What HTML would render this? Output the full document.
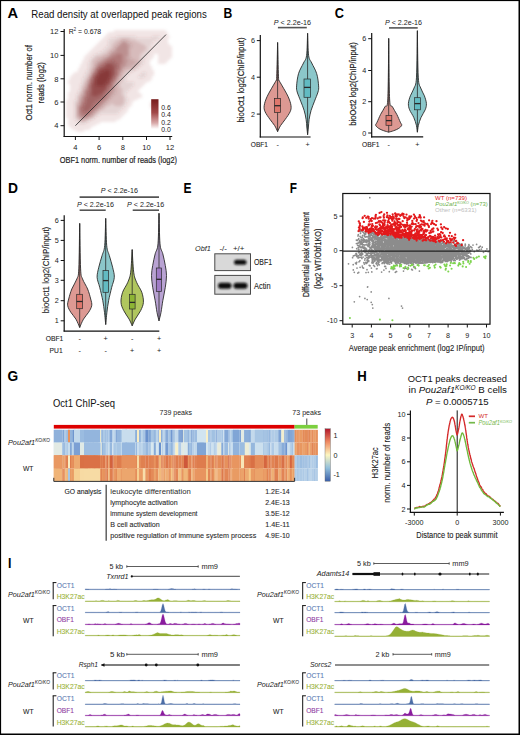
<!DOCTYPE html>
<html><head><meta charset="utf-8"><style>
html,body{margin:0;padding:0;background:#fff;width:520px;height:735px;overflow:hidden}
svg{display:block}
text{font-family:"Liberation Sans",sans-serif}
</style></head><body>
<svg width="520" height="735" viewBox="0 0 520 735" font-family="Liberation Sans" fill="#222">
<defs><filter id="blur3" x="-50%" y="-50%" width="200%" height="200%"><feGaussianBlur stdDeviation="3.5"/></filter><filter id="blur15" x="-20%" y="-20%" width="140%" height="140%"><feGaussianBlur stdDeviation="1.8"/></filter><filter id="hblur" x="-2%" y="-2%" width="104%" height="104%"><feGaussianBlur stdDeviation="0.55 0.2"/></filter><filter id="blur1" x="-50%" y="-50%" width="200%" height="200%"><feGaussianBlur stdDeviation="1.1"/></filter><filter id="jit" x="-5%" y="-5%" width="110%" height="110%"><feTurbulence type="turbulence" baseFrequency="0.35" numOctaves="1" seed="3"/><feDisplacementMap in="SourceGraphic" scale="1.6" xChannelSelector="R" yChannelSelector="G"/></filter><filter id="blur2" x="-50%" y="-50%" width="200%" height="200%"><feGaussianBlur stdDeviation="2.2"/></filter><linearGradient id="leg" x1="0" y1="0" x2="0" y2="1"><stop offset="0" stop-color="#771c1c"/><stop offset="0.45" stop-color="#a04848"/><stop offset="0.8" stop-color="#d9aaaa"/><stop offset="1" stop-color="#ffffff"/></linearGradient><linearGradient id="hm" x1="0" y1="0" x2="0" y2="1"><stop offset="0" stop-color="#b2182b"/><stop offset="0.25" stop-color="#ef8a62"/><stop offset="0.5" stop-color="#fdf6c0"/><stop offset="0.75" stop-color="#91bfdb"/><stop offset="1" stop-color="#3b5fa8"/></linearGradient></defs>
<rect x="0" y="0" width="520" height="735" fill="#fff"/>
<text x="7.3999999999999995" y="18.2" font-size="14" font-weight="bold" fill="#000" textLength="10.6" lengthAdjust="spacingAndGlyphs">A</text>
<text x="31.3" y="18.3" font-size="10.2" fill="#111" textLength="175.5" lengthAdjust="spacingAndGlyphs" stroke="#111" stroke-width="0.0">Read density at overlapped peak regions</text>
<g filter="url(#blur15)">
<path d="M66 100h2v2h-2zM66 102h2v2h-2zM66 104h2v2h-2zM66 106h2v2h-2zM66 108h2v2h-2zM66 110h2v2h-2zM66 112h2v2h-2zM66 114h2v2h-2zM66 116h2v2h-2zM68 80h2v2h-2zM68 82h2v2h-2zM68 92h2v2h-2zM68 94h2v2h-2zM68 96h2v2h-2zM68 98h2v2h-2zM68 100h2v2h-2zM68 102h2v2h-2zM68 104h2v2h-2zM68 106h2v2h-2zM68 108h2v2h-2zM68 110h2v2h-2zM68 112h2v2h-2zM68 114h2v2h-2zM68 116h2v2h-2zM68 118h2v2h-2zM68 120h2v2h-2zM68 122h2v2h-2zM68 124h2v2h-2zM70 76h2v2h-2zM70 78h2v2h-2zM70 80h2v2h-2zM70 82h2v2h-2zM70 84h2v2h-2zM70 86h2v2h-2zM70 88h2v2h-2zM70 90h2v2h-2zM70 92h2v2h-2zM70 94h2v2h-2zM70 96h2v2h-2zM70 120h2v2h-2zM70 122h2v2h-2zM70 124h2v2h-2zM70 126h2v2h-2zM72 74h2v2h-2zM72 76h2v2h-2zM72 78h2v2h-2zM72 80h2v2h-2zM72 82h2v2h-2zM72 84h2v2h-2zM72 86h2v2h-2zM72 88h2v2h-2zM72 90h2v2h-2zM72 124h2v2h-2zM72 126h2v2h-2zM72 128h2v2h-2zM74 72h2v2h-2zM74 74h2v2h-2zM74 76h2v2h-2zM74 126h2v2h-2zM74 128h2v2h-2zM76 72h2v2h-2zM76 74h2v2h-2zM76 128h2v2h-2zM76 130h2v2h-2zM78 68h2v2h-2zM78 70h2v2h-2zM78 72h2v2h-2zM78 128h2v2h-2zM78 130h2v2h-2zM80 64h2v2h-2zM80 66h2v2h-2zM80 68h2v2h-2zM80 70h2v2h-2zM80 128h2v2h-2zM80 130h2v2h-2zM82 60h2v2h-2zM82 62h2v2h-2zM82 64h2v2h-2zM82 66h2v2h-2zM82 128h2v2h-2zM82 130h2v2h-2zM84 56h2v2h-2zM84 58h2v2h-2zM84 60h2v2h-2zM84 128h2v2h-2zM86 54h2v2h-2zM86 56h2v2h-2zM86 126h2v2h-2zM86 128h2v2h-2zM88 52h2v2h-2zM88 126h2v2h-2zM88 128h2v2h-2zM90 50h2v2h-2zM90 124h2v2h-2zM90 126h2v2h-2zM92 48h2v2h-2zM92 50h2v2h-2zM92 124h2v2h-2zM94 46h2v2h-2zM94 48h2v2h-2zM94 122h2v2h-2zM94 124h2v2h-2zM96 44h2v2h-2zM96 46h2v2h-2zM96 120h2v2h-2zM96 122h2v2h-2zM98 42h2v2h-2zM98 44h2v2h-2zM98 46h2v2h-2zM98 120h2v2h-2zM98 122h2v2h-2zM100 40h2v2h-2zM100 42h2v2h-2zM100 44h2v2h-2zM100 118h2v2h-2zM100 120h2v2h-2zM102 38h2v2h-2zM102 40h2v2h-2zM102 118h2v2h-2zM102 120h2v2h-2zM104 36h2v2h-2zM104 118h2v2h-2zM104 120h2v2h-2zM106 34h2v2h-2zM106 118h2v2h-2zM106 120h2v2h-2zM108 32h2v2h-2zM108 34h2v2h-2zM108 120h2v2h-2zM110 32h2v2h-2zM110 120h2v2h-2zM112 32h2v2h-2zM112 120h2v2h-2zM114 30h2v2h-2zM114 32h2v2h-2zM114 118h2v2h-2zM114 120h2v2h-2zM116 30h2v2h-2zM116 32h2v2h-2zM116 118h2v2h-2zM118 30h2v2h-2zM118 116h2v2h-2zM118 118h2v2h-2zM120 30h2v2h-2zM120 114h2v2h-2zM120 116h2v2h-2zM122 30h2v2h-2zM122 112h2v2h-2zM122 114h2v2h-2zM124 30h2v2h-2zM124 110h2v2h-2zM124 112h2v2h-2zM126 30h2v2h-2zM126 108h2v2h-2zM126 110h2v2h-2zM128 30h2v2h-2zM128 104h2v2h-2zM128 106h2v2h-2zM130 30h2v2h-2zM130 100h2v2h-2zM130 102h2v2h-2zM130 104h2v2h-2zM132 30h2v2h-2zM132 92h2v2h-2zM132 94h2v2h-2zM132 96h2v2h-2zM132 98h2v2h-2zM132 100h2v2h-2zM134 30h2v2h-2zM134 90h2v2h-2zM134 92h2v2h-2zM134 94h2v2h-2zM134 96h2v2h-2zM134 98h2v2h-2zM136 30h2v2h-2zM136 88h2v2h-2zM136 90h2v2h-2zM136 92h2v2h-2zM136 94h2v2h-2zM136 96h2v2h-2zM136 98h2v2h-2zM138 30h2v2h-2zM138 32h2v2h-2zM138 86h2v2h-2zM138 88h2v2h-2zM138 92h2v2h-2zM138 94h2v2h-2zM138 96h2v2h-2zM140 30h2v2h-2zM140 32h2v2h-2zM140 84h2v2h-2zM140 86h2v2h-2zM140 94h2v2h-2zM140 96h2v2h-2zM142 30h2v2h-2zM142 32h2v2h-2zM142 82h2v2h-2zM142 84h2v2h-2zM144 30h2v2h-2zM144 32h2v2h-2zM144 82h2v2h-2zM146 30h2v2h-2zM146 32h2v2h-2zM146 80h2v2h-2zM148 30h2v2h-2zM148 58h2v2h-2zM148 60h2v2h-2zM148 62h2v2h-2zM148 64h2v2h-2zM148 66h2v2h-2zM148 78h2v2h-2zM148 80h2v2h-2zM150 30h2v2h-2zM150 56h2v2h-2zM150 58h2v2h-2zM150 66h2v2h-2zM150 68h2v2h-2zM150 70h2v2h-2zM150 72h2v2h-2zM150 74h2v2h-2zM150 76h2v2h-2zM150 78h2v2h-2zM150 102h2v2h-2zM150 104h2v2h-2zM150 106h2v2h-2zM152 30h2v2h-2zM152 52h2v2h-2zM152 54h2v2h-2zM152 56h2v2h-2zM152 70h2v2h-2zM152 72h2v2h-2zM152 74h2v2h-2zM152 102h2v2h-2zM152 104h2v2h-2zM152 106h2v2h-2zM154 30h2v2h-2zM154 50h2v2h-2zM154 52h2v2h-2zM154 102h2v2h-2zM154 104h2v2h-2zM156 30h2v2h-2zM156 48h2v2h-2zM156 50h2v2h-2zM156 52h2v2h-2zM158 30h2v2h-2zM158 46h2v2h-2zM158 48h2v2h-2zM158 50h2v2h-2zM158 52h2v2h-2zM158 54h2v2h-2zM158 56h2v2h-2zM158 58h2v2h-2zM158 60h2v2h-2zM158 62h2v2h-2zM160 30h2v2h-2zM160 44h2v2h-2zM160 46h2v2h-2zM160 48h2v2h-2zM160 50h2v2h-2zM160 52h2v2h-2zM160 54h2v2h-2zM160 56h2v2h-2zM160 58h2v2h-2zM160 60h2v2h-2zM160 62h2v2h-2zM162 30h2v2h-2zM162 42h2v2h-2zM162 44h2v2h-2zM162 46h2v2h-2zM162 48h2v2h-2zM162 50h2v2h-2zM162 52h2v2h-2zM162 54h2v2h-2zM162 56h2v2h-2zM162 58h2v2h-2zM162 60h2v2h-2zM162 62h2v2h-2zM164 30h2v2h-2zM164 32h2v2h-2zM164 40h2v2h-2zM164 42h2v2h-2zM164 44h2v2h-2zM164 46h2v2h-2zM164 48h2v2h-2zM164 50h2v2h-2zM164 52h2v2h-2zM164 54h2v2h-2zM164 56h2v2h-2zM164 58h2v2h-2zM164 60h2v2h-2zM164 62h2v2h-2zM166 32h2v2h-2zM166 34h2v2h-2zM166 36h2v2h-2zM166 38h2v2h-2zM166 40h2v2h-2zM166 42h2v2h-2zM166 44h2v2h-2zM166 46h2v2h-2zM166 48h2v2h-2zM166 50h2v2h-2zM166 52h2v2h-2zM166 54h2v2h-2zM166 56h2v2h-2zM166 58h2v2h-2zM166 60h2v2h-2zM168 36h2v2h-2zM168 44h2v2h-2zM168 46h2v2h-2zM168 48h2v2h-2zM168 50h2v2h-2zM168 52h2v2h-2zM168 54h2v2h-2zM168 56h2v2h-2zM168 58h2v2h-2zM170 46h2v2h-2zM170 48h2v2h-2zM170 50h2v2h-2zM170 52h2v2h-2zM170 54h2v2h-2zM170 56h2v2h-2z" fill="#7a2121" fill-opacity="0.1"/>
<path d="M70 98h2v2h-2zM70 100h2v2h-2zM70 102h2v2h-2zM70 104h2v2h-2zM70 106h2v2h-2zM70 108h2v2h-2zM70 110h2v2h-2zM70 112h2v2h-2zM70 114h2v2h-2zM70 116h2v2h-2zM70 118h2v2h-2zM72 92h2v2h-2zM72 94h2v2h-2zM72 96h2v2h-2zM72 98h2v2h-2zM72 120h2v2h-2zM72 122h2v2h-2zM74 78h2v2h-2zM74 80h2v2h-2zM74 82h2v2h-2zM74 84h2v2h-2zM74 86h2v2h-2zM74 88h2v2h-2zM74 90h2v2h-2zM74 92h2v2h-2zM74 124h2v2h-2zM76 76h2v2h-2zM76 78h2v2h-2zM76 80h2v2h-2zM76 82h2v2h-2zM76 84h2v2h-2zM76 86h2v2h-2zM76 88h2v2h-2zM76 126h2v2h-2zM78 74h2v2h-2zM78 76h2v2h-2zM78 78h2v2h-2zM78 126h2v2h-2zM80 72h2v2h-2zM80 74h2v2h-2zM80 126h2v2h-2zM82 68h2v2h-2zM82 70h2v2h-2zM82 72h2v2h-2zM82 126h2v2h-2zM84 62h2v2h-2zM84 64h2v2h-2zM84 66h2v2h-2zM84 68h2v2h-2zM84 126h2v2h-2zM86 58h2v2h-2zM86 60h2v2h-2zM86 124h2v2h-2zM88 54h2v2h-2zM88 56h2v2h-2zM88 124h2v2h-2zM90 52h2v2h-2zM90 54h2v2h-2zM90 122h2v2h-2zM92 52h2v2h-2zM92 120h2v2h-2zM92 122h2v2h-2zM94 50h2v2h-2zM94 120h2v2h-2zM96 48h2v2h-2zM96 50h2v2h-2zM96 118h2v2h-2zM98 48h2v2h-2zM98 116h2v2h-2zM98 118h2v2h-2zM100 46h2v2h-2zM100 48h2v2h-2zM100 116h2v2h-2zM102 42h2v2h-2zM102 44h2v2h-2zM102 46h2v2h-2zM102 116h2v2h-2zM104 38h2v2h-2zM104 40h2v2h-2zM104 42h2v2h-2zM104 116h2v2h-2zM106 36h2v2h-2zM106 38h2v2h-2zM106 116h2v2h-2zM108 36h2v2h-2zM108 116h2v2h-2zM108 118h2v2h-2zM110 34h2v2h-2zM110 118h2v2h-2zM112 34h2v2h-2zM112 116h2v2h-2zM112 118h2v2h-2zM114 34h2v2h-2zM114 116h2v2h-2zM116 116h2v2h-2zM118 32h2v2h-2zM118 114h2v2h-2zM120 32h2v2h-2zM120 112h2v2h-2zM122 32h2v2h-2zM122 110h2v2h-2zM124 32h2v2h-2zM124 108h2v2h-2zM126 32h2v2h-2zM126 104h2v2h-2zM126 106h2v2h-2zM128 32h2v2h-2zM128 94h2v2h-2zM128 96h2v2h-2zM128 98h2v2h-2zM128 100h2v2h-2zM128 102h2v2h-2zM130 32h2v2h-2zM130 76h2v2h-2zM130 92h2v2h-2zM130 94h2v2h-2zM130 96h2v2h-2zM130 98h2v2h-2zM132 32h2v2h-2zM132 74h2v2h-2zM132 76h2v2h-2zM132 90h2v2h-2zM134 32h2v2h-2zM134 74h2v2h-2zM134 86h2v2h-2zM134 88h2v2h-2zM136 32h2v2h-2zM136 34h2v2h-2zM136 84h2v2h-2zM136 86h2v2h-2zM138 34h2v2h-2zM138 82h2v2h-2zM138 84h2v2h-2zM140 34h2v2h-2zM140 80h2v2h-2zM140 82h2v2h-2zM142 34h2v2h-2zM142 80h2v2h-2zM144 34h2v2h-2zM144 64h2v2h-2zM144 66h2v2h-2zM144 78h2v2h-2zM144 80h2v2h-2zM146 34h2v2h-2zM146 58h2v2h-2zM146 60h2v2h-2zM146 62h2v2h-2zM146 64h2v2h-2zM146 66h2v2h-2zM146 68h2v2h-2zM146 78h2v2h-2zM148 32h2v2h-2zM148 34h2v2h-2zM148 54h2v2h-2zM148 56h2v2h-2zM148 68h2v2h-2zM148 70h2v2h-2zM148 72h2v2h-2zM148 74h2v2h-2zM148 76h2v2h-2zM150 32h2v2h-2zM150 52h2v2h-2zM150 54h2v2h-2zM152 32h2v2h-2zM152 48h2v2h-2zM152 50h2v2h-2zM154 32h2v2h-2zM154 46h2v2h-2zM154 48h2v2h-2zM156 32h2v2h-2zM156 44h2v2h-2zM156 46h2v2h-2zM158 32h2v2h-2zM158 42h2v2h-2zM158 44h2v2h-2zM160 32h2v2h-2zM160 40h2v2h-2zM160 42h2v2h-2zM162 32h2v2h-2zM162 34h2v2h-2zM162 38h2v2h-2zM162 40h2v2h-2zM164 34h2v2h-2zM164 36h2v2h-2zM164 38h2v2h-2z" fill="#7a2121" fill-opacity="0.1"/>
<path d="M72 100h2v2h-2zM72 102h2v2h-2zM72 104h2v2h-2zM72 106h2v2h-2zM72 108h2v2h-2zM72 110h2v2h-2zM72 112h2v2h-2zM72 114h2v2h-2zM72 116h2v2h-2zM72 118h2v2h-2zM74 94h2v2h-2zM74 96h2v2h-2zM74 98h2v2h-2zM74 120h2v2h-2zM74 122h2v2h-2zM76 90h2v2h-2zM76 92h2v2h-2zM76 122h2v2h-2zM76 124h2v2h-2zM78 80h2v2h-2zM78 82h2v2h-2zM78 84h2v2h-2zM78 86h2v2h-2zM78 88h2v2h-2zM78 124h2v2h-2zM80 76h2v2h-2zM80 78h2v2h-2zM80 80h2v2h-2zM80 82h2v2h-2zM80 124h2v2h-2zM82 74h2v2h-2zM82 76h2v2h-2zM82 124h2v2h-2zM84 70h2v2h-2zM84 72h2v2h-2zM84 124h2v2h-2zM86 62h2v2h-2zM86 64h2v2h-2zM86 66h2v2h-2zM86 68h2v2h-2zM86 122h2v2h-2zM88 58h2v2h-2zM88 60h2v2h-2zM88 122h2v2h-2zM90 56h2v2h-2zM90 120h2v2h-2zM92 54h2v2h-2zM94 52h2v2h-2zM94 118h2v2h-2zM96 52h2v2h-2zM96 116h2v2h-2zM98 50h2v2h-2zM100 50h2v2h-2zM100 114h2v2h-2zM102 48h2v2h-2zM102 114h2v2h-2zM104 44h2v2h-2zM104 46h2v2h-2zM104 114h2v2h-2zM106 40h2v2h-2zM106 42h2v2h-2zM106 44h2v2h-2zM106 114h2v2h-2zM108 38h2v2h-2zM108 114h2v2h-2zM110 36h2v2h-2zM110 114h2v2h-2zM110 116h2v2h-2zM112 36h2v2h-2zM112 114h2v2h-2zM114 36h2v2h-2zM114 114h2v2h-2zM116 34h2v2h-2zM116 114h2v2h-2zM118 34h2v2h-2zM118 112h2v2h-2zM120 34h2v2h-2zM120 110h2v2h-2zM122 34h2v2h-2zM122 108h2v2h-2zM124 34h2v2h-2zM124 106h2v2h-2zM126 34h2v2h-2zM126 76h2v2h-2zM126 78h2v2h-2zM126 80h2v2h-2zM126 92h2v2h-2zM126 94h2v2h-2zM126 96h2v2h-2zM126 102h2v2h-2zM128 34h2v2h-2zM128 74h2v2h-2zM128 76h2v2h-2zM128 78h2v2h-2zM128 80h2v2h-2zM128 90h2v2h-2zM128 92h2v2h-2zM130 34h2v2h-2zM130 72h2v2h-2zM130 74h2v2h-2zM130 78h2v2h-2zM130 80h2v2h-2zM130 88h2v2h-2zM130 90h2v2h-2zM132 34h2v2h-2zM132 72h2v2h-2zM132 78h2v2h-2zM132 80h2v2h-2zM132 86h2v2h-2zM132 88h2v2h-2zM134 34h2v2h-2zM134 70h2v2h-2zM134 72h2v2h-2zM134 76h2v2h-2zM134 78h2v2h-2zM134 80h2v2h-2zM134 82h2v2h-2zM134 84h2v2h-2zM136 36h2v2h-2zM136 70h2v2h-2zM136 72h2v2h-2zM136 74h2v2h-2zM136 76h2v2h-2zM136 78h2v2h-2zM136 80h2v2h-2zM136 82h2v2h-2zM138 36h2v2h-2zM138 68h2v2h-2zM138 70h2v2h-2zM138 72h2v2h-2zM138 74h2v2h-2zM138 78h2v2h-2zM138 80h2v2h-2zM140 36h2v2h-2zM140 66h2v2h-2zM140 68h2v2h-2zM140 70h2v2h-2zM140 72h2v2h-2zM140 78h2v2h-2zM142 36h2v2h-2zM142 64h2v2h-2zM142 66h2v2h-2zM142 68h2v2h-2zM142 70h2v2h-2zM142 78h2v2h-2zM144 36h2v2h-2zM144 58h2v2h-2zM144 60h2v2h-2zM144 62h2v2h-2zM144 68h2v2h-2zM144 70h2v2h-2zM144 76h2v2h-2zM146 36h2v2h-2zM146 54h2v2h-2zM146 56h2v2h-2zM146 70h2v2h-2zM146 72h2v2h-2zM146 74h2v2h-2zM146 76h2v2h-2zM148 36h2v2h-2zM148 52h2v2h-2zM150 34h2v2h-2zM150 36h2v2h-2zM150 46h2v2h-2zM150 48h2v2h-2zM150 50h2v2h-2zM152 34h2v2h-2zM152 42h2v2h-2zM152 44h2v2h-2zM152 46h2v2h-2zM154 34h2v2h-2zM154 40h2v2h-2zM154 42h2v2h-2zM154 44h2v2h-2zM156 34h2v2h-2zM156 40h2v2h-2zM156 42h2v2h-2zM158 34h2v2h-2zM158 38h2v2h-2zM158 40h2v2h-2zM160 34h2v2h-2zM160 36h2v2h-2zM160 38h2v2h-2zM162 36h2v2h-2z" fill="#7a2121" fill-opacity="0.1"/>
<path d="M74 100h2v2h-2zM74 102h2v2h-2zM74 104h2v2h-2zM74 116h2v2h-2zM74 118h2v2h-2zM76 94h2v2h-2zM76 96h2v2h-2zM76 120h2v2h-2zM78 90h2v2h-2zM78 92h2v2h-2zM78 122h2v2h-2zM80 84h2v2h-2zM80 86h2v2h-2zM80 122h2v2h-2zM82 78h2v2h-2zM82 80h2v2h-2zM82 122h2v2h-2zM84 74h2v2h-2zM84 76h2v2h-2zM84 122h2v2h-2zM86 70h2v2h-2zM86 72h2v2h-2zM88 62h2v2h-2zM88 64h2v2h-2zM88 66h2v2h-2zM88 68h2v2h-2zM88 120h2v2h-2zM90 58h2v2h-2zM90 60h2v2h-2zM92 56h2v2h-2zM92 118h2v2h-2zM94 54h2v2h-2zM94 116h2v2h-2zM98 52h2v2h-2zM98 114h2v2h-2zM100 52h2v2h-2zM100 112h2v2h-2zM102 50h2v2h-2zM102 112h2v2h-2zM104 48h2v2h-2zM104 50h2v2h-2zM104 110h2v2h-2zM104 112h2v2h-2zM106 46h2v2h-2zM106 48h2v2h-2zM106 110h2v2h-2zM106 112h2v2h-2zM108 40h2v2h-2zM108 42h2v2h-2zM108 44h2v2h-2zM108 46h2v2h-2zM108 110h2v2h-2zM108 112h2v2h-2zM110 38h2v2h-2zM110 40h2v2h-2zM110 110h2v2h-2zM110 112h2v2h-2zM112 38h2v2h-2zM112 112h2v2h-2zM114 110h2v2h-2zM114 112h2v2h-2zM116 36h2v2h-2zM116 110h2v2h-2zM116 112h2v2h-2zM118 36h2v2h-2zM118 108h2v2h-2zM118 110h2v2h-2zM120 36h2v2h-2zM120 108h2v2h-2zM122 106h2v2h-2zM124 76h2v2h-2zM124 78h2v2h-2zM124 80h2v2h-2zM124 82h2v2h-2zM124 84h2v2h-2zM124 88h2v2h-2zM124 90h2v2h-2zM124 92h2v2h-2zM124 94h2v2h-2zM124 104h2v2h-2zM126 74h2v2h-2zM126 82h2v2h-2zM126 84h2v2h-2zM126 86h2v2h-2zM126 88h2v2h-2zM126 90h2v2h-2zM126 98h2v2h-2zM126 100h2v2h-2zM128 36h2v2h-2zM128 72h2v2h-2zM128 82h2v2h-2zM128 84h2v2h-2zM128 86h2v2h-2zM128 88h2v2h-2zM130 36h2v2h-2zM130 82h2v2h-2zM130 84h2v2h-2zM130 86h2v2h-2zM132 36h2v2h-2zM132 70h2v2h-2zM132 82h2v2h-2zM132 84h2v2h-2zM134 36h2v2h-2zM136 38h2v2h-2zM136 68h2v2h-2zM138 38h2v2h-2zM138 66h2v2h-2zM138 76h2v2h-2zM140 38h2v2h-2zM140 64h2v2h-2zM140 74h2v2h-2zM140 76h2v2h-2zM142 38h2v2h-2zM142 56h2v2h-2zM142 58h2v2h-2zM142 60h2v2h-2zM142 62h2v2h-2zM142 72h2v2h-2zM142 74h2v2h-2zM142 76h2v2h-2zM144 38h2v2h-2zM144 40h2v2h-2zM144 54h2v2h-2zM144 56h2v2h-2zM144 72h2v2h-2zM144 74h2v2h-2zM146 38h2v2h-2zM146 40h2v2h-2zM146 42h2v2h-2zM146 52h2v2h-2zM148 38h2v2h-2zM148 40h2v2h-2zM148 42h2v2h-2zM148 44h2v2h-2zM148 46h2v2h-2zM148 48h2v2h-2zM148 50h2v2h-2zM150 38h2v2h-2zM150 40h2v2h-2zM150 42h2v2h-2zM150 44h2v2h-2zM152 36h2v2h-2zM152 38h2v2h-2zM152 40h2v2h-2zM154 36h2v2h-2zM154 38h2v2h-2zM156 36h2v2h-2zM156 38h2v2h-2zM158 36h2v2h-2z" fill="#7a2121" fill-opacity="0.2"/>
<path d="M74 106h2v2h-2zM74 108h2v2h-2zM74 110h2v2h-2zM74 112h2v2h-2zM74 114h2v2h-2zM76 98h2v2h-2zM76 100h2v2h-2zM76 118h2v2h-2zM78 94h2v2h-2zM78 120h2v2h-2zM80 88h2v2h-2zM80 90h2v2h-2zM82 82h2v2h-2zM82 84h2v2h-2zM84 78h2v2h-2zM84 80h2v2h-2zM86 74h2v2h-2zM86 76h2v2h-2zM86 120h2v2h-2zM88 70h2v2h-2zM88 72h2v2h-2zM90 62h2v2h-2zM90 64h2v2h-2zM90 66h2v2h-2zM90 118h2v2h-2zM92 58h2v2h-2zM94 56h2v2h-2zM96 54h2v2h-2zM96 114h2v2h-2zM98 54h2v2h-2zM98 112h2v2h-2zM100 54h2v2h-2zM100 110h2v2h-2zM102 52h2v2h-2zM102 110h2v2h-2zM104 52h2v2h-2zM104 108h2v2h-2zM106 50h2v2h-2zM106 106h2v2h-2zM106 108h2v2h-2zM108 48h2v2h-2zM108 106h2v2h-2zM108 108h2v2h-2zM110 42h2v2h-2zM110 44h2v2h-2zM110 46h2v2h-2zM110 104h2v2h-2zM110 106h2v2h-2zM110 108h2v2h-2zM112 40h2v2h-2zM112 42h2v2h-2zM112 104h2v2h-2zM112 106h2v2h-2zM112 108h2v2h-2zM112 110h2v2h-2zM114 38h2v2h-2zM114 40h2v2h-2zM114 106h2v2h-2zM114 108h2v2h-2zM116 38h2v2h-2zM116 106h2v2h-2zM116 108h2v2h-2zM118 38h2v2h-2zM118 106h2v2h-2zM120 82h2v2h-2zM120 84h2v2h-2zM120 86h2v2h-2zM120 106h2v2h-2zM122 36h2v2h-2zM122 78h2v2h-2zM122 80h2v2h-2zM122 82h2v2h-2zM122 84h2v2h-2zM122 86h2v2h-2zM122 88h2v2h-2zM122 90h2v2h-2zM122 92h2v2h-2zM122 94h2v2h-2zM122 104h2v2h-2zM124 36h2v2h-2zM124 74h2v2h-2zM124 86h2v2h-2zM124 96h2v2h-2zM124 98h2v2h-2zM124 100h2v2h-2zM124 102h2v2h-2zM126 36h2v2h-2zM126 72h2v2h-2zM128 70h2v2h-2zM130 38h2v2h-2zM130 70h2v2h-2zM132 38h2v2h-2zM134 38h2v2h-2zM134 68h2v2h-2zM136 40h2v2h-2zM136 66h2v2h-2zM138 40h2v2h-2zM138 64h2v2h-2zM140 40h2v2h-2zM140 42h2v2h-2zM140 54h2v2h-2zM140 56h2v2h-2zM140 58h2v2h-2zM140 60h2v2h-2zM140 62h2v2h-2zM142 40h2v2h-2zM142 42h2v2h-2zM142 52h2v2h-2zM142 54h2v2h-2zM144 42h2v2h-2zM144 44h2v2h-2zM144 50h2v2h-2zM144 52h2v2h-2zM146 44h2v2h-2zM146 46h2v2h-2zM146 48h2v2h-2zM146 50h2v2h-2z" fill="#7a2121" fill-opacity="0.2"/>
<path d="M76 102h2v2h-2zM76 104h2v2h-2zM76 116h2v2h-2zM78 96h2v2h-2zM78 98h2v2h-2zM80 92h2v2h-2zM80 120h2v2h-2zM82 86h2v2h-2zM82 88h2v2h-2zM82 120h2v2h-2zM84 82h2v2h-2zM84 120h2v2h-2zM86 78h2v2h-2zM88 74h2v2h-2zM88 118h2v2h-2zM90 68h2v2h-2zM90 70h2v2h-2zM92 60h2v2h-2zM92 62h2v2h-2zM92 64h2v2h-2zM92 116h2v2h-2zM94 58h2v2h-2zM94 60h2v2h-2zM94 114h2v2h-2zM96 56h2v2h-2zM96 58h2v2h-2zM96 112h2v2h-2zM98 56h2v2h-2zM98 110h2v2h-2zM102 54h2v2h-2zM102 108h2v2h-2zM104 106h2v2h-2zM106 52h2v2h-2zM106 104h2v2h-2zM108 50h2v2h-2zM108 102h2v2h-2zM108 104h2v2h-2zM110 48h2v2h-2zM110 102h2v2h-2zM112 44h2v2h-2zM112 46h2v2h-2zM112 100h2v2h-2zM112 102h2v2h-2zM114 42h2v2h-2zM114 44h2v2h-2zM114 100h2v2h-2zM114 102h2v2h-2zM114 104h2v2h-2zM116 40h2v2h-2zM116 102h2v2h-2zM116 104h2v2h-2zM118 82h2v2h-2zM118 84h2v2h-2zM118 86h2v2h-2zM118 88h2v2h-2zM118 90h2v2h-2zM118 104h2v2h-2zM120 38h2v2h-2zM120 78h2v2h-2zM120 80h2v2h-2zM120 88h2v2h-2zM120 90h2v2h-2zM120 92h2v2h-2zM120 94h2v2h-2zM120 96h2v2h-2zM120 102h2v2h-2zM120 104h2v2h-2zM122 38h2v2h-2zM122 74h2v2h-2zM122 76h2v2h-2zM122 96h2v2h-2zM122 98h2v2h-2zM122 100h2v2h-2zM122 102h2v2h-2zM124 38h2v2h-2zM124 70h2v2h-2zM124 72h2v2h-2zM126 38h2v2h-2zM126 70h2v2h-2zM128 38h2v2h-2zM128 68h2v2h-2zM130 68h2v2h-2zM132 40h2v2h-2zM132 68h2v2h-2zM134 40h2v2h-2zM134 42h2v2h-2zM134 44h2v2h-2zM134 52h2v2h-2zM134 54h2v2h-2zM134 66h2v2h-2zM136 42h2v2h-2zM136 44h2v2h-2zM136 46h2v2h-2zM136 50h2v2h-2zM136 52h2v2h-2zM136 54h2v2h-2zM136 56h2v2h-2zM138 42h2v2h-2zM138 44h2v2h-2zM138 46h2v2h-2zM138 50h2v2h-2zM138 52h2v2h-2zM138 54h2v2h-2zM138 56h2v2h-2zM138 58h2v2h-2zM138 60h2v2h-2zM138 62h2v2h-2zM140 44h2v2h-2zM140 46h2v2h-2zM140 48h2v2h-2zM140 50h2v2h-2zM140 52h2v2h-2zM142 44h2v2h-2zM142 46h2v2h-2zM142 48h2v2h-2zM142 50h2v2h-2zM144 46h2v2h-2zM144 48h2v2h-2z" fill="#7a2121" fill-opacity="0.3"/>
<path d="M76 106h2v2h-2zM76 108h2v2h-2zM76 110h2v2h-2zM76 112h2v2h-2zM76 114h2v2h-2zM78 100h2v2h-2zM78 102h2v2h-2zM78 118h2v2h-2zM80 94h2v2h-2zM82 90h2v2h-2zM84 84h2v2h-2zM84 86h2v2h-2zM86 80h2v2h-2zM86 118h2v2h-2zM88 76h2v2h-2zM90 72h2v2h-2zM90 116h2v2h-2zM92 66h2v2h-2zM92 68h2v2h-2zM92 114h2v2h-2zM94 62h2v2h-2zM94 64h2v2h-2zM94 112h2v2h-2zM96 60h2v2h-2zM96 110h2v2h-2zM98 58h2v2h-2zM100 56h2v2h-2zM100 108h2v2h-2zM102 56h2v2h-2zM102 106h2v2h-2zM104 54h2v2h-2zM104 104h2v2h-2zM106 54h2v2h-2zM106 102h2v2h-2zM108 52h2v2h-2zM108 100h2v2h-2zM110 50h2v2h-2zM110 98h2v2h-2zM110 100h2v2h-2zM112 48h2v2h-2zM112 96h2v2h-2zM112 98h2v2h-2zM114 46h2v2h-2zM114 94h2v2h-2zM114 96h2v2h-2zM114 98h2v2h-2zM116 42h2v2h-2zM116 44h2v2h-2zM116 82h2v2h-2zM116 84h2v2h-2zM116 86h2v2h-2zM116 88h2v2h-2zM116 90h2v2h-2zM116 92h2v2h-2zM116 94h2v2h-2zM116 96h2v2h-2zM116 98h2v2h-2zM116 100h2v2h-2zM118 40h2v2h-2zM118 42h2v2h-2zM118 78h2v2h-2zM118 80h2v2h-2zM118 92h2v2h-2zM118 94h2v2h-2zM118 96h2v2h-2zM118 98h2v2h-2zM118 100h2v2h-2zM118 102h2v2h-2zM120 40h2v2h-2zM120 74h2v2h-2zM120 76h2v2h-2zM120 98h2v2h-2zM120 100h2v2h-2zM122 70h2v2h-2zM122 72h2v2h-2zM124 68h2v2h-2zM126 40h2v2h-2zM126 68h2v2h-2zM128 40h2v2h-2zM130 40h2v2h-2zM130 42h2v2h-2zM130 48h2v2h-2zM130 50h2v2h-2zM130 52h2v2h-2zM130 54h2v2h-2zM130 56h2v2h-2zM130 66h2v2h-2zM132 42h2v2h-2zM132 44h2v2h-2zM132 46h2v2h-2zM132 48h2v2h-2zM132 50h2v2h-2zM132 52h2v2h-2zM132 54h2v2h-2zM132 56h2v2h-2zM132 58h2v2h-2zM132 66h2v2h-2zM134 46h2v2h-2zM134 48h2v2h-2zM134 50h2v2h-2zM134 56h2v2h-2zM134 58h2v2h-2zM134 64h2v2h-2zM136 48h2v2h-2zM136 58h2v2h-2zM136 60h2v2h-2zM136 62h2v2h-2zM136 64h2v2h-2zM138 48h2v2h-2z" fill="#7a2121" fill-opacity="0.3"/>
<path d="M78 104h2v2h-2zM78 116h2v2h-2zM80 96h2v2h-2zM80 98h2v2h-2zM80 118h2v2h-2zM82 92h2v2h-2zM82 94h2v2h-2zM82 118h2v2h-2zM84 88h2v2h-2zM84 118h2v2h-2zM86 82h2v2h-2zM86 84h2v2h-2zM88 78h2v2h-2zM88 116h2v2h-2zM90 74h2v2h-2zM92 70h2v2h-2zM94 66h2v2h-2zM96 62h2v2h-2zM98 60h2v2h-2zM98 108h2v2h-2zM100 58h2v2h-2zM100 60h2v2h-2zM100 106h2v2h-2zM102 58h2v2h-2zM102 104h2v2h-2zM104 56h2v2h-2zM104 102h2v2h-2zM106 56h2v2h-2zM106 100h2v2h-2zM108 54h2v2h-2zM108 98h2v2h-2zM110 52h2v2h-2zM110 94h2v2h-2zM110 96h2v2h-2zM112 50h2v2h-2zM112 90h2v2h-2zM112 92h2v2h-2zM112 94h2v2h-2zM114 48h2v2h-2zM114 50h2v2h-2zM114 84h2v2h-2zM114 86h2v2h-2zM114 88h2v2h-2zM114 90h2v2h-2zM114 92h2v2h-2zM116 46h2v2h-2zM116 80h2v2h-2zM118 44h2v2h-2zM118 76h2v2h-2zM120 42h2v2h-2zM120 72h2v2h-2zM122 40h2v2h-2zM122 68h2v2h-2zM124 40h2v2h-2zM124 66h2v2h-2zM126 42h2v2h-2zM126 56h2v2h-2zM126 58h2v2h-2zM126 62h2v2h-2zM126 64h2v2h-2zM126 66h2v2h-2zM128 42h2v2h-2zM128 44h2v2h-2zM128 46h2v2h-2zM128 48h2v2h-2zM128 50h2v2h-2zM128 52h2v2h-2zM128 54h2v2h-2zM128 56h2v2h-2zM128 58h2v2h-2zM128 60h2v2h-2zM128 62h2v2h-2zM128 64h2v2h-2zM128 66h2v2h-2zM130 44h2v2h-2zM130 46h2v2h-2zM130 58h2v2h-2zM130 60h2v2h-2zM130 62h2v2h-2zM130 64h2v2h-2zM132 60h2v2h-2zM132 62h2v2h-2zM132 64h2v2h-2zM134 60h2v2h-2zM134 62h2v2h-2z" fill="#7a2121" fill-opacity="0.4"/>
<path d="M78 106h2v2h-2zM78 108h2v2h-2zM78 110h2v2h-2zM78 112h2v2h-2zM78 114h2v2h-2zM80 100h2v2h-2zM80 102h2v2h-2zM80 116h2v2h-2zM82 96h2v2h-2zM82 116h2v2h-2zM84 90h2v2h-2zM84 92h2v2h-2zM86 86h2v2h-2zM86 116h2v2h-2zM88 80h2v2h-2zM90 76h2v2h-2zM90 114h2v2h-2zM92 72h2v2h-2zM92 112h2v2h-2zM94 68h2v2h-2zM94 110h2v2h-2zM96 64h2v2h-2zM96 108h2v2h-2zM98 62h2v2h-2zM98 106h2v2h-2zM100 104h2v2h-2zM102 60h2v2h-2zM102 102h2v2h-2zM104 58h2v2h-2zM104 100h2v2h-2zM106 98h2v2h-2zM108 56h2v2h-2zM108 94h2v2h-2zM108 96h2v2h-2zM110 54h2v2h-2zM110 90h2v2h-2zM110 92h2v2h-2zM112 52h2v2h-2zM112 86h2v2h-2zM112 88h2v2h-2zM114 52h2v2h-2zM114 80h2v2h-2zM114 82h2v2h-2zM116 48h2v2h-2zM116 50h2v2h-2zM116 78h2v2h-2zM118 46h2v2h-2zM118 48h2v2h-2zM118 74h2v2h-2zM120 44h2v2h-2zM120 46h2v2h-2zM120 68h2v2h-2zM120 70h2v2h-2zM122 42h2v2h-2zM122 44h2v2h-2zM122 64h2v2h-2zM122 66h2v2h-2zM124 42h2v2h-2zM124 44h2v2h-2zM124 46h2v2h-2zM124 50h2v2h-2zM124 52h2v2h-2zM124 54h2v2h-2zM124 56h2v2h-2zM124 58h2v2h-2zM124 60h2v2h-2zM124 62h2v2h-2zM124 64h2v2h-2zM126 44h2v2h-2zM126 46h2v2h-2zM126 48h2v2h-2zM126 50h2v2h-2zM126 52h2v2h-2zM126 54h2v2h-2zM126 60h2v2h-2z" fill="#7a2121" fill-opacity="0.5"/>
<path d="M80 104h2v2h-2zM80 114h2v2h-2zM82 98h2v2h-2zM82 100h2v2h-2zM84 94h2v2h-2zM84 116h2v2h-2zM86 88h2v2h-2zM88 82h2v2h-2zM88 114h2v2h-2zM90 112h2v2h-2zM92 110h2v2h-2zM94 70h2v2h-2zM94 108h2v2h-2zM96 66h2v2h-2zM96 106h2v2h-2zM98 64h2v2h-2zM98 104h2v2h-2zM100 62h2v2h-2zM100 102h2v2h-2zM102 100h2v2h-2zM104 60h2v2h-2zM104 98h2v2h-2zM106 58h2v2h-2zM106 94h2v2h-2zM106 96h2v2h-2zM108 92h2v2h-2zM110 56h2v2h-2zM110 88h2v2h-2zM112 54h2v2h-2zM112 82h2v2h-2zM112 84h2v2h-2zM114 54h2v2h-2zM116 52h2v2h-2zM116 76h2v2h-2zM118 50h2v2h-2zM118 52h2v2h-2zM118 70h2v2h-2zM118 72h2v2h-2zM120 48h2v2h-2zM120 50h2v2h-2zM120 52h2v2h-2zM120 64h2v2h-2zM120 66h2v2h-2zM122 46h2v2h-2zM122 48h2v2h-2zM122 50h2v2h-2zM122 52h2v2h-2zM122 54h2v2h-2zM122 56h2v2h-2zM122 58h2v2h-2zM122 60h2v2h-2zM122 62h2v2h-2zM124 48h2v2h-2z" fill="#7a2121" fill-opacity="0.5"/>
<path d="M80 106h2v2h-2zM80 108h2v2h-2zM80 110h2v2h-2zM80 112h2v2h-2zM82 102h2v2h-2zM82 104h2v2h-2zM82 114h2v2h-2zM84 96h2v2h-2zM84 98h2v2h-2zM84 114h2v2h-2zM86 90h2v2h-2zM86 92h2v2h-2zM86 114h2v2h-2zM88 84h2v2h-2zM88 86h2v2h-2zM88 112h2v2h-2zM90 78h2v2h-2zM90 110h2v2h-2zM92 74h2v2h-2zM92 108h2v2h-2zM94 106h2v2h-2zM96 68h2v2h-2zM96 104h2v2h-2zM98 66h2v2h-2zM98 102h2v2h-2zM100 64h2v2h-2zM100 100h2v2h-2zM102 62h2v2h-2zM102 98h2v2h-2zM104 96h2v2h-2zM106 60h2v2h-2zM106 92h2v2h-2zM108 58h2v2h-2zM108 88h2v2h-2zM108 90h2v2h-2zM110 58h2v2h-2zM110 86h2v2h-2zM112 56h2v2h-2zM114 56h2v2h-2zM114 78h2v2h-2zM116 54h2v2h-2zM116 56h2v2h-2zM116 72h2v2h-2zM116 74h2v2h-2zM118 54h2v2h-2zM118 56h2v2h-2zM118 58h2v2h-2zM118 64h2v2h-2zM118 66h2v2h-2zM118 68h2v2h-2zM120 54h2v2h-2zM120 56h2v2h-2zM120 58h2v2h-2zM120 60h2v2h-2zM120 62h2v2h-2z" fill="#7a2121" fill-opacity="0.6"/>
<path d="M82 106h2v2h-2zM82 110h2v2h-2zM82 112h2v2h-2zM84 100h2v2h-2zM84 102h2v2h-2zM84 112h2v2h-2zM86 94h2v2h-2zM86 96h2v2h-2zM86 112h2v2h-2zM88 88h2v2h-2zM88 90h2v2h-2zM88 110h2v2h-2zM90 80h2v2h-2zM90 82h2v2h-2zM90 108h2v2h-2zM92 76h2v2h-2zM92 104h2v2h-2zM92 106h2v2h-2zM94 72h2v2h-2zM94 102h2v2h-2zM94 104h2v2h-2zM96 100h2v2h-2zM96 102h2v2h-2zM98 100h2v2h-2zM100 98h2v2h-2zM102 64h2v2h-2zM102 96h2v2h-2zM104 62h2v2h-2zM104 92h2v2h-2zM104 94h2v2h-2zM106 90h2v2h-2zM108 60h2v2h-2zM108 86h2v2h-2zM110 60h2v2h-2zM110 84h2v2h-2zM112 58h2v2h-2zM112 80h2v2h-2zM114 58h2v2h-2zM114 60h2v2h-2zM114 76h2v2h-2zM116 58h2v2h-2zM116 60h2v2h-2zM116 62h2v2h-2zM116 68h2v2h-2zM116 70h2v2h-2zM118 60h2v2h-2zM118 62h2v2h-2z" fill="#7a2121" fill-opacity="0.6"/>
<path d="M82 108h2v2h-2zM84 104h2v2h-2zM84 106h2v2h-2zM84 108h2v2h-2zM84 110h2v2h-2zM86 98h2v2h-2zM86 100h2v2h-2zM86 102h2v2h-2zM86 104h2v2h-2zM86 106h2v2h-2zM86 108h2v2h-2zM86 110h2v2h-2zM88 92h2v2h-2zM88 94h2v2h-2zM88 96h2v2h-2zM88 98h2v2h-2zM88 100h2v2h-2zM88 102h2v2h-2zM88 104h2v2h-2zM88 106h2v2h-2zM88 108h2v2h-2zM90 84h2v2h-2zM90 86h2v2h-2zM90 100h2v2h-2zM90 102h2v2h-2zM90 104h2v2h-2zM90 106h2v2h-2zM92 78h2v2h-2zM92 100h2v2h-2zM92 102h2v2h-2zM94 100h2v2h-2zM96 70h2v2h-2zM96 98h2v2h-2zM98 68h2v2h-2zM98 96h2v2h-2zM98 98h2v2h-2zM100 66h2v2h-2zM100 96h2v2h-2zM102 94h2v2h-2zM104 90h2v2h-2zM106 62h2v2h-2zM106 88h2v2h-2zM108 62h2v2h-2zM110 82h2v2h-2zM112 60h2v2h-2zM112 78h2v2h-2zM114 62h2v2h-2zM114 74h2v2h-2zM116 64h2v2h-2zM116 66h2v2h-2z" fill="#7a2121" fill-opacity="0.7"/>
<path d="M90 88h2v2h-2zM90 90h2v2h-2zM90 92h2v2h-2zM90 94h2v2h-2zM90 96h2v2h-2zM90 98h2v2h-2zM92 80h2v2h-2zM92 96h2v2h-2zM92 98h2v2h-2zM94 74h2v2h-2zM94 96h2v2h-2zM94 98h2v2h-2zM96 72h2v2h-2zM96 96h2v2h-2zM98 94h2v2h-2zM100 94h2v2h-2zM102 66h2v2h-2zM102 92h2v2h-2zM104 64h2v2h-2zM106 86h2v2h-2zM108 84h2v2h-2zM110 62h2v2h-2zM110 80h2v2h-2zM112 62h2v2h-2zM112 64h2v2h-2zM112 76h2v2h-2zM114 64h2v2h-2zM114 66h2v2h-2zM114 68h2v2h-2zM114 70h2v2h-2zM114 72h2v2h-2z" fill="#7a2121" fill-opacity="0.7"/>
<path d="M92 82h2v2h-2zM92 84h2v2h-2zM92 86h2v2h-2zM92 88h2v2h-2zM92 90h2v2h-2zM92 92h2v2h-2zM92 94h2v2h-2zM94 76h2v2h-2zM94 92h2v2h-2zM94 94h2v2h-2zM96 92h2v2h-2zM96 94h2v2h-2zM98 70h2v2h-2zM98 92h2v2h-2zM100 68h2v2h-2zM100 90h2v2h-2zM100 92h2v2h-2zM102 90h2v2h-2zM104 66h2v2h-2zM104 88h2v2h-2zM106 64h2v2h-2zM108 64h2v2h-2zM108 82h2v2h-2zM110 64h2v2h-2zM110 78h2v2h-2zM112 66h2v2h-2zM112 74h2v2h-2z" fill="#7a2121" fill-opacity="0.8"/>
<path d="M94 78h2v2h-2zM94 80h2v2h-2zM94 86h2v2h-2zM94 88h2v2h-2zM94 90h2v2h-2zM96 74h2v2h-2zM96 90h2v2h-2zM98 72h2v2h-2zM98 90h2v2h-2zM100 88h2v2h-2zM102 68h2v2h-2zM102 88h2v2h-2zM104 86h2v2h-2zM106 66h2v2h-2zM106 84h2v2h-2zM108 66h2v2h-2zM108 80h2v2h-2zM110 66h2v2h-2zM110 76h2v2h-2zM112 68h2v2h-2zM112 70h2v2h-2zM112 72h2v2h-2z" fill="#7a2121" fill-opacity="0.8"/>
<path d="M94 82h2v2h-2zM94 84h2v2h-2zM96 76h2v2h-2zM96 86h2v2h-2zM96 88h2v2h-2zM98 86h2v2h-2zM98 88h2v2h-2zM100 70h2v2h-2zM100 86h2v2h-2zM102 70h2v2h-2zM102 86h2v2h-2zM104 68h2v2h-2zM104 84h2v2h-2zM106 68h2v2h-2zM106 82h2v2h-2zM108 68h2v2h-2zM108 78h2v2h-2zM110 68h2v2h-2zM110 70h2v2h-2zM110 72h2v2h-2zM110 74h2v2h-2z" fill="#7a2121" fill-opacity="0.8"/>
<path d="M96 78h2v2h-2zM96 80h2v2h-2zM96 82h2v2h-2zM96 84h2v2h-2zM98 74h2v2h-2zM98 76h2v2h-2zM98 78h2v2h-2zM98 80h2v2h-2zM98 82h2v2h-2zM98 84h2v2h-2zM100 72h2v2h-2zM100 74h2v2h-2zM100 82h2v2h-2zM100 84h2v2h-2zM102 72h2v2h-2zM102 82h2v2h-2zM102 84h2v2h-2zM104 70h2v2h-2zM104 72h2v2h-2zM104 80h2v2h-2zM104 82h2v2h-2zM106 70h2v2h-2zM106 72h2v2h-2zM106 76h2v2h-2zM106 78h2v2h-2zM106 80h2v2h-2zM108 70h2v2h-2zM108 72h2v2h-2zM108 74h2v2h-2zM108 76h2v2h-2z" fill="#7a2121" fill-opacity="0.9"/>
<path d="M100 76h2v2h-2zM100 78h2v2h-2zM100 80h2v2h-2zM102 74h2v2h-2zM102 76h2v2h-2zM102 78h2v2h-2zM102 80h2v2h-2zM104 74h2v2h-2zM104 76h2v2h-2zM104 78h2v2h-2zM106 74h2v2h-2z" fill="#7a2121" fill-opacity="0.9"/>
</g>
<line x1="64.2" y1="29" x2="64.2" y2="137" stroke="#111" stroke-width="1.2"/>
<line x1="63.6" y1="136.5" x2="172.2" y2="136.5" stroke="#111" stroke-width="1.2"/>
<line x1="60.5" y1="125.7" x2="64.2" y2="125.7" stroke="#111" stroke-width="1"/>
<text x="58.5" y="128.4" font-size="7.6" stroke="#222" stroke-width="0.0" text-anchor="end">4</text>
<line x1="60.5" y1="102" x2="64.2" y2="102" stroke="#111" stroke-width="1"/>
<text x="58.5" y="104.7" font-size="7.6" stroke="#222" stroke-width="0.0" text-anchor="end">6</text>
<line x1="60.5" y1="78.8" x2="64.2" y2="78.8" stroke="#111" stroke-width="1"/>
<text x="58.5" y="81.5" font-size="7.6" stroke="#222" stroke-width="0.0" text-anchor="end">8</text>
<line x1="60.5" y1="55.4" x2="64.2" y2="55.4" stroke="#111" stroke-width="1"/>
<text x="58.5" y="58.1" font-size="7.6" stroke="#222" stroke-width="0.0" text-anchor="end">10</text>
<line x1="60.5" y1="31.5" x2="64.2" y2="31.5" stroke="#111" stroke-width="1"/>
<text x="58.5" y="34.2" font-size="7.6" stroke="#222" stroke-width="0.0" text-anchor="end">12</text>
<line x1="75.4" y1="136.5" x2="75.4" y2="140" stroke="#111" stroke-width="1"/>
<text x="75.4" y="150" font-size="7.6" stroke="#222" stroke-width="0.0" text-anchor="middle">4</text>
<line x1="99.1" y1="136.5" x2="99.1" y2="140" stroke="#111" stroke-width="1"/>
<text x="99.1" y="150" font-size="7.6" stroke="#222" stroke-width="0.0" text-anchor="middle">6</text>
<line x1="122.8" y1="136.5" x2="122.8" y2="140" stroke="#111" stroke-width="1"/>
<text x="122.8" y="150" font-size="7.6" stroke="#222" stroke-width="0.0" text-anchor="middle">8</text>
<line x1="146.5" y1="136.5" x2="146.5" y2="140" stroke="#111" stroke-width="1"/>
<text x="146.5" y="150" font-size="7.6" stroke="#222" stroke-width="0.0" text-anchor="middle">10</text>
<line x1="170" y1="136.5" x2="170" y2="140" stroke="#111" stroke-width="1"/>
<text x="170" y="150" font-size="7.6" stroke="#222" stroke-width="0.0" text-anchor="middle">12</text>
<line x1="75.4" y1="125.7" x2="166" y2="34.6" stroke="#222" stroke-width="0.8"/>
<text x="68.8" y="34.2" font-size="7.6" fill="#111" textLength="32.4" lengthAdjust="spacingAndGlyphs" stroke="#111" stroke-width="0.0">R<tspan font-size="4.5" dy="-3">2</tspan><tspan dy="3"> = 0.678</tspan></text>
<rect x="151.2" y="99.2" width="7.3" height="29.8" fill="url(#leg)"/>
<text x="161.2" y="109.5" font-size="7" stroke="#222" stroke-width="0.0" textLength="9.6" lengthAdjust="spacingAndGlyphs">0.6</text>
<text x="161.2" y="117.1" font-size="7" stroke="#222" stroke-width="0.0" textLength="9.6" lengthAdjust="spacingAndGlyphs">0.4</text>
<text x="161.2" y="124.5" font-size="7" stroke="#222" stroke-width="0.0" textLength="9.6" lengthAdjust="spacingAndGlyphs">0.2</text>
<text x="161.2" y="132" font-size="7" stroke="#222" stroke-width="0.0" textLength="9.6" lengthAdjust="spacingAndGlyphs">0.0</text>
<text x="28.7" y="86.3" font-size="9.8" stroke="#222" stroke-width="0.2" text-anchor="middle" textLength="75.6" lengthAdjust="spacingAndGlyphs" transform="rotate(-90 28.7 82.8)">Oct1 norm. number of</text>
<text x="40.3" y="86.3" font-size="9.8" stroke="#222" stroke-width="0.2" text-anchor="middle" textLength="41.2" lengthAdjust="spacingAndGlyphs" transform="rotate(-90 40.3 82.8)">reads (log2)</text>
<text x="59.7" y="163" font-size="9.8" stroke="#222" stroke-width="0.2" textLength="117.3" lengthAdjust="spacingAndGlyphs">OBF1 norm. number of reads (log2)</text>
<text x="223.4" y="18.2" font-size="14" font-weight="bold" fill="#000" textLength="8.799999999999999" lengthAdjust="spacingAndGlyphs">B</text>
<text x="273.8" y="24.6" font-size="7.2" stroke="#222" stroke-width="0.0" textLength="37.2" lengthAdjust="spacingAndGlyphs"><tspan font-style="italic">P</tspan> &lt; 2.2e-16</text>
<line x1="277.9" y1="27.6" x2="306.8" y2="27.6" stroke="#555" stroke-width="1.6"/>
<line x1="260.3" y1="34.9" x2="260.3" y2="137.5" stroke="#111" stroke-width="1.2"/>
<line x1="259.7" y1="137" x2="310.6" y2="137" stroke="#111" stroke-width="1.2"/>
<line x1="256.8" y1="114.1" x2="260.3" y2="114.1" stroke="#111" stroke-width="1"/>
<text x="255" y="116.7" font-size="7.2" stroke="#222" stroke-width="0.0" text-anchor="end">2</text>
<line x1="256.8" y1="77.2" x2="260.3" y2="77.2" stroke="#111" stroke-width="1"/>
<text x="255" y="79.8" font-size="7.2" stroke="#222" stroke-width="0.0" text-anchor="end">4</text>
<line x1="256.8" y1="40.6" x2="260.3" y2="40.6" stroke="#111" stroke-width="1"/>
<text x="255" y="43.2" font-size="7.2" stroke="#222" stroke-width="0.0" text-anchor="end">6</text>
<text x="240.7" y="83.5" font-size="9.6" stroke="#222" stroke-width="0.2" text-anchor="middle" textLength="85" lengthAdjust="spacingAndGlyphs" transform="rotate(-90 240.7 80)">bioOct1 log2(ChIP/input)</text>
<path d="M277.6 42.5C277.8 48.2 278.2 70.5 278.5 76.8C278.8 83.1 278.6 79.1 279.2 80.6C279.8 82.1 280.7 83.2 282.2 85.9C283.7 88.6 286.6 93.3 288.1 96.6C289.6 99.9 290.7 103.2 291 105.7C291.3 108.2 291.1 109.5 290.1 111.8C289.1 114.1 286.8 117.1 285.2 119.4C283.6 121.7 281.9 123.5 280.6 125.5C279.3 127.5 278.1 130.6 277.6 131.6C277.1 130.6 275.9 127.5 274.6 125.5C273.3 123.5 271.6 121.7 270 119.4C268.4 117.1 266.1 114.1 265.1 111.8C264.1 109.5 263.9 108.2 264.2 105.7C264.5 103.2 265.6 99.9 267.1 96.6C268.6 93.3 271.5 88.6 273 85.9C274.5 83.2 275.4 82.1 276 80.6C276.6 79.1 276.4 83.1 276.7 76.8C277 70.5 277.5 48.2 277.6 42.5Z" fill="#dd9993" stroke="#2a2a2a" stroke-width="0.9"/>
<line x1="277.6" y1="42.5" x2="277.6" y2="131.6" stroke="#2a2a2a" stroke-width="0.8"/>
<rect x="274.4" y="98.4" width="6.2" height="14.2" fill="#de776d" stroke="#2a2a2a" stroke-width="0.7"/>
<line x1="274.4" y1="105.7" x2="280.6" y2="105.7" stroke="#2a2a2a" stroke-width="1.3"/>
<path d="M307.6 33.3C307.8 37 307.9 50.4 308.6 55.4C309.3 60.4 310.4 60 311.7 63C313.1 66 315.6 69.9 316.7 73.7C317.9 77.5 318.4 82.9 318.6 85.9C318.8 89 318.7 89.5 318 92C317.3 94.5 315.6 98.2 314.5 101.2C313.4 104.2 312 107.3 311.1 110.3C310.2 113.3 309.6 116.6 309.1 119.4C308.7 122.2 308.7 124.5 308.4 127C308.2 129.6 307.7 133.4 307.6 134.7C307.5 133.4 307.1 129.6 306.8 127C306.6 124.5 306.6 122.2 306.1 119.4C305.7 116.6 305 113.3 304.1 110.3C303.2 107.3 301.9 104.2 300.7 101.2C299.6 98.2 297.9 94.5 297.2 92C296.5 89.5 296.4 89 296.6 85.9C296.8 82.9 297.4 77.5 298.5 73.7C299.6 69.9 302.1 66 303.5 63C304.9 60 305.9 60.4 306.6 55.4C307.3 50.4 307.4 37 307.6 33.3Z" fill="#8bc7ca" stroke="#2a2a2a" stroke-width="0.9"/>
<line x1="307.6" y1="33.3" x2="307.6" y2="134.7" stroke="#2a2a2a" stroke-width="0.8"/>
<rect x="304" y="79" width="6.6" height="18.3" fill="#62bbc2" stroke="#2a2a2a" stroke-width="0.7"/>
<line x1="304" y1="87.4" x2="310.6" y2="87.4" stroke="#2a2a2a" stroke-width="1.3"/>
<text x="250.8" y="147.1" font-size="7.2" stroke="#222" stroke-width="0.1" textLength="17.2" lengthAdjust="spacingAndGlyphs">OBF1</text>
<text x="277.6" y="147.1" font-size="7.2" stroke="#222" stroke-width="0.0" text-anchor="middle">-</text>
<text x="307.6" y="147.1" font-size="7.2" stroke="#222" stroke-width="0.0" text-anchor="middle">+</text>
<text x="334.7" y="18.2" font-size="14" font-weight="bold" fill="#000" textLength="9.2" lengthAdjust="spacingAndGlyphs">C</text>
<text x="385" y="24.6" font-size="7.2" stroke="#222" stroke-width="0.0" textLength="37" lengthAdjust="spacingAndGlyphs"><tspan font-style="italic">P</tspan> &lt; 2.2e-16</text>
<line x1="389" y1="27.9" x2="417.7" y2="27.9" stroke="#555" stroke-width="1.6"/>
<line x1="371.7" y1="33" x2="371.7" y2="137.5" stroke="#111" stroke-width="1.2"/>
<line x1="371.1" y1="136.9" x2="423.2" y2="136.9" stroke="#111" stroke-width="1.2"/>
<line x1="368.2" y1="133" x2="371.7" y2="133" stroke="#111" stroke-width="1"/>
<text x="366.2" y="135.6" font-size="7.2" stroke="#222" stroke-width="0.0" text-anchor="end">0</text>
<line x1="368.2" y1="101.7" x2="371.7" y2="101.7" stroke="#111" stroke-width="1"/>
<text x="366.2" y="104.3" font-size="7.2" stroke="#222" stroke-width="0.0" text-anchor="end">2</text>
<line x1="368.2" y1="70.5" x2="371.7" y2="70.5" stroke="#111" stroke-width="1"/>
<text x="366.2" y="73.1" font-size="7.2" stroke="#222" stroke-width="0.0" text-anchor="end">4</text>
<line x1="368.2" y1="38.7" x2="371.7" y2="38.7" stroke="#111" stroke-width="1"/>
<text x="366.2" y="41.3" font-size="7.2" stroke="#222" stroke-width="0.0" text-anchor="end">6</text>
<text x="352.6" y="87.5" font-size="9.6" stroke="#222" stroke-width="0.2" text-anchor="middle" textLength="83.5" lengthAdjust="spacingAndGlyphs" transform="rotate(-90 352.6 84)">bioOct2 log2(ChIP/input)</text>
<path d="M388.7 38.4C388.8 48.5 389 87.5 389.6 98.9C390.2 110.3 391.2 104.1 392.4 106.7C393.6 109.3 395.5 111.8 396.8 114.4C398.1 117 399.5 120.4 400.3 122.2C401.1 124 402 124.3 401.7 125.3C401.4 126.3 400 127.5 398.7 128.4C397.4 129.3 395.4 130.1 393.7 130.7C392 131.3 389.5 131.9 388.7 132.2C387.9 131.9 385.4 131.3 383.7 130.7C382 130.1 380 129.3 378.7 128.4C377.4 127.5 376 126.3 375.7 125.3C375.4 124.3 376.3 124 377.1 122.2C377.9 120.4 379.3 117 380.6 114.4C381.9 111.8 383.8 109.3 385 106.7C386.2 104.1 387.2 110.3 387.8 98.9C388.4 87.5 388.6 48.5 388.7 38.4Z" fill="#dd9993" stroke="#2a2a2a" stroke-width="0.9"/>
<line x1="388.7" y1="38.4" x2="388.7" y2="132.2" stroke="#2a2a2a" stroke-width="0.8"/>
<rect x="386" y="115.5" width="5.8" height="9.8" fill="#de776d" stroke="#2a2a2a" stroke-width="0.7"/>
<line x1="386" y1="120.6" x2="391.8" y2="120.6" stroke="#2a2a2a" stroke-width="1.3"/>
<path d="M417.4 30.7C417.5 38.5 417.7 67.7 418.3 77.2C418.8 86.8 419.7 84.9 420.7 88C421.7 91.1 423.4 93.2 424.4 95.8C425.3 98.4 426.3 101.3 426.4 103.6C426.5 105.9 426.1 107.5 425.2 109.8C424.3 112.1 422.1 114.9 421 117.5C419.9 120.1 419 122.8 418.4 125.3C417.8 127.8 417.6 131 417.4 132.2C417.2 131 417 127.8 416.4 125.3C415.8 122.8 414.9 120.1 413.8 117.5C412.7 114.9 410.5 112.1 409.6 109.8C408.7 107.5 408.3 105.9 408.4 103.6C408.5 101.3 409.4 98.4 410.4 95.8C411.3 93.2 413.1 91.1 414.1 88C415.1 84.9 415.9 86.8 416.5 77.2C417.1 67.7 417.2 38.5 417.4 30.7Z" fill="#8bc7ca" stroke="#2a2a2a" stroke-width="0.9"/>
<line x1="417.4" y1="30.7" x2="417.4" y2="132.2" stroke="#2a2a2a" stroke-width="0.8"/>
<rect x="414.6" y="97.7" width="5.9" height="12.1" fill="#62bbc2" stroke="#2a2a2a" stroke-width="0.7"/>
<line x1="414.6" y1="103.6" x2="420.5" y2="103.6" stroke="#2a2a2a" stroke-width="1.3"/>
<text x="362" y="147.1" font-size="7.2" stroke="#222" stroke-width="0.1" textLength="17.5" lengthAdjust="spacingAndGlyphs">OBF1</text>
<text x="388.7" y="147.1" font-size="7.2" stroke="#222" stroke-width="0.0" text-anchor="middle">-</text>
<text x="417.4" y="147.1" font-size="7.2" stroke="#222" stroke-width="0.0" text-anchor="middle">+</text>
<text x="7.8999999999999995" y="192.8" font-size="14" font-weight="bold" fill="#000" textLength="10.0" lengthAdjust="spacingAndGlyphs">D</text>
<text x="100.8" y="193.4" font-size="7.2" stroke="#222" stroke-width="0.0" textLength="37.1" lengthAdjust="spacingAndGlyphs"><tspan font-style="italic">P</tspan> &lt; 2.2e-16</text>
<line x1="79.6" y1="197.1" x2="159" y2="197.1" stroke="#555" stroke-width="1.6"/>
<text x="77" y="206.8" font-size="7.2" stroke="#222" stroke-width="0.0" textLength="37" lengthAdjust="spacingAndGlyphs"><tspan font-style="italic">P</tspan> &lt; 2.2e-16</text>
<line x1="79.6" y1="210.2" x2="105.7" y2="210.2" stroke="#555" stroke-width="1.6"/>
<text x="127" y="206.8" font-size="7.2" stroke="#222" stroke-width="0.0" textLength="37.2" lengthAdjust="spacingAndGlyphs"><tspan font-style="italic">P</tspan> &lt; 2.2e-16</text>
<line x1="132.7" y1="210.2" x2="159" y2="210.2" stroke="#555" stroke-width="1.6"/>
<line x1="64.2" y1="215.3" x2="64.2" y2="331.6" stroke="#111" stroke-width="1.2"/>
<line x1="63.6" y1="331.1" x2="159.3" y2="331.1" stroke="#111" stroke-width="1.2"/>
<line x1="60.7" y1="320.8" x2="64.2" y2="320.8" stroke="#111" stroke-width="1"/>
<text x="58.7" y="323.4" font-size="7.2" stroke="#222" stroke-width="0.0" text-anchor="end">1</text>
<line x1="60.7" y1="300.7" x2="64.2" y2="300.7" stroke="#111" stroke-width="1"/>
<text x="58.7" y="303.3" font-size="7.2" stroke="#222" stroke-width="0.0" text-anchor="end">2</text>
<line x1="60.7" y1="280.3" x2="64.2" y2="280.3" stroke="#111" stroke-width="1"/>
<text x="58.7" y="282.9" font-size="7.2" stroke="#222" stroke-width="0.0" text-anchor="end">3</text>
<line x1="60.7" y1="260.5" x2="64.2" y2="260.5" stroke="#111" stroke-width="1"/>
<text x="58.7" y="263.1" font-size="7.2" stroke="#222" stroke-width="0.0" text-anchor="end">4</text>
<line x1="60.7" y1="240.4" x2="64.2" y2="240.4" stroke="#111" stroke-width="1"/>
<text x="58.7" y="243" font-size="7.2" stroke="#222" stroke-width="0.0" text-anchor="end">5</text>
<line x1="60.7" y1="220.4" x2="64.2" y2="220.4" stroke="#111" stroke-width="1"/>
<text x="58.7" y="223" font-size="7.2" stroke="#222" stroke-width="0.0" text-anchor="end">6</text>
<text x="45.6" y="273.5" font-size="9.6" stroke="#222" stroke-width="0.1" text-anchor="middle" textLength="86.5" lengthAdjust="spacingAndGlyphs" transform="rotate(-90 45.6 270)">bioOct1 log2(ChIP/input)</text>
<path d="M79.7 223.4C79.9 231 80.1 259.6 80.6 268.9C81.1 278.1 81.3 275.5 82.5 278.9C83.7 282.2 86.2 285.6 87.6 289C89 292.4 90 296.2 90.7 299C91.4 301.8 92.1 303.5 91.7 305.7C91.3 307.9 89.9 310.2 88.5 312.4C87.1 314.6 85 316.6 83.5 319.1C82 321.6 80.3 326.1 79.7 327.5C79.1 326.1 77.4 321.6 75.9 319.1C74.4 316.6 72.3 314.6 70.9 312.4C69.5 310.2 68.1 307.9 67.7 305.7C67.3 303.5 68 301.8 68.7 299C69.4 296.2 70.4 292.4 71.8 289C73.2 285.6 75.7 282.2 76.9 278.9C78.1 275.5 78.3 278.1 78.8 268.9C79.3 259.6 79.5 231 79.7 223.4Z" fill="#dd9993" stroke="#2a2a2a" stroke-width="0.9"/>
<line x1="79.7" y1="223.4" x2="79.7" y2="327.5" stroke="#2a2a2a" stroke-width="0.8"/>
<rect x="76.7" y="294.3" width="5.9" height="14.4" fill="#de776d" stroke="#2a2a2a" stroke-width="0.7"/>
<line x1="76.7" y1="301.5" x2="82.6" y2="301.5" stroke="#2a2a2a" stroke-width="1.3"/>
<path d="M105.7 218.4C105.9 222.9 106.1 239.3 106.7 245.5C107.3 251.7 108.3 251.9 109.3 255.5C110.3 259.1 111.8 263.6 112.6 267.2C113.4 270.8 114.5 273.9 114.3 277.3C114.1 280.7 112.7 283.4 111.7 287.3C110.8 291.2 109.4 296.5 108.6 300.7C107.8 304.9 107.4 308.4 106.9 312.4C106.4 316.4 105.9 322.5 105.7 324.5C105.5 322.5 105 316.4 104.5 312.4C104 308.4 103.6 304.9 102.8 300.7C102 296.5 100.7 291.2 99.7 287.3C98.8 283.4 97.3 280.7 97.1 277.3C97 273.9 98 270.8 98.8 267.2C99.6 263.6 101.1 259.1 102.1 255.5C103.1 251.9 104.1 251.7 104.7 245.5C105.3 239.3 105.5 222.9 105.7 218.4Z" fill="#8bc7ca" stroke="#2a2a2a" stroke-width="0.9"/>
<line x1="105.7" y1="218.4" x2="105.7" y2="324.5" stroke="#2a2a2a" stroke-width="0.8"/>
<rect x="103" y="270.6" width="5.5" height="21.7" fill="#62bbc2" stroke="#2a2a2a" stroke-width="0.7"/>
<line x1="103" y1="280.6" x2="108.5" y2="280.6" stroke="#2a2a2a" stroke-width="1.3"/>
<path d="M132.2 249.6C132.4 253.4 133 266.8 133.7 272.2C134.4 277.6 135.2 278.9 136.6 282.3C137.9 285.7 140.7 289 141.8 292.3C142.9 295.6 143.6 299.3 143.4 302.4C143.2 305.5 141.9 307.9 140.6 310.7C139.2 313.5 136.7 316.6 135.3 319.1C133.9 321.6 132.7 324.7 132.2 325.8C131.7 324.7 130.5 321.6 129.1 319.1C127.7 316.6 125.1 313.5 123.8 310.7C122.4 307.9 121.2 305.5 121 302.4C120.8 299.3 121.5 295.6 122.6 292.3C123.7 289 126.4 285.7 127.8 282.3C129.1 278.9 130 277.6 130.7 272.2C131.4 266.8 131.9 253.4 132.2 249.6Z" fill="#b0c65e" stroke="#2a2a2a" stroke-width="0.9"/>
<line x1="132.2" y1="249.6" x2="132.2" y2="325.8" stroke="#2a2a2a" stroke-width="0.8"/>
<rect x="129.6" y="294.3" width="5.5" height="14.7" fill="#8db534" stroke="#2a2a2a" stroke-width="0.7"/>
<line x1="129.6" y1="302.4" x2="135.1" y2="302.4" stroke="#2a2a2a" stroke-width="1.3"/>
<path d="M159 213.3C159.2 218.4 159.4 237.1 160 243.8C160.6 250.6 161.9 250.2 162.8 253.8C163.7 257.4 164.7 261.9 165.3 265.5C165.9 269.1 166.5 272 166.5 275.6C166.5 279.2 165.9 283.1 165.3 287.3C164.7 291.5 163.5 296.5 162.8 300.7C162.1 304.9 161.6 309 161 312.4C160.4 315.8 159.3 319.4 159 320.8C158.7 319.4 157.6 315.8 157 312.4C156.4 309 155.9 304.9 155.2 300.7C154.5 296.5 153.3 291.5 152.7 287.3C152.1 283.1 151.5 279.2 151.5 275.6C151.5 272 152.1 269.1 152.7 265.5C153.3 261.9 154.3 257.4 155.2 253.8C156.1 250.2 157.4 250.6 158 243.8C158.6 237.1 158.8 218.4 159 213.3Z" fill="#b9a3d3" stroke="#2a2a2a" stroke-width="0.9"/>
<line x1="159" y1="213.3" x2="159" y2="320.8" stroke="#2a2a2a" stroke-width="0.8"/>
<rect x="156.3" y="268" width="5.2" height="23.5" fill="#a07cc6" stroke="#2a2a2a" stroke-width="0.7"/>
<line x1="156.3" y1="279.3" x2="161.5" y2="279.3" stroke="#2a2a2a" stroke-width="1.3"/>
<text x="45.7" y="341.1" font-size="7.2" stroke="#222" stroke-width="0.1" textLength="17.6" lengthAdjust="spacingAndGlyphs">OBF1</text>
<text x="49.6" y="352.6" font-size="7.2" stroke="#222" stroke-width="0.08" textLength="13" lengthAdjust="spacingAndGlyphs">PU1</text>
<text x="79.7" y="341.1" font-size="7.2" stroke="#222" stroke-width="0.0" text-anchor="middle">-</text>
<text x="79.7" y="352.6" font-size="7.2" stroke="#222" stroke-width="0.0" text-anchor="middle">-</text>
<text x="105.7" y="341.1" font-size="7.2" stroke="#222" stroke-width="0.0" text-anchor="middle">+</text>
<text x="105.7" y="352.6" font-size="7.2" stroke="#222" stroke-width="0.0" text-anchor="middle">-</text>
<text x="132.2" y="341.1" font-size="7.2" stroke="#222" stroke-width="0.0" text-anchor="middle">-</text>
<text x="132.2" y="352.6" font-size="7.2" stroke="#222" stroke-width="0.0" text-anchor="middle">+</text>
<text x="159" y="341.1" font-size="7.2" stroke="#222" stroke-width="0.0" text-anchor="middle">+</text>
<text x="159" y="352.6" font-size="7.2" stroke="#222" stroke-width="0.0" text-anchor="middle">+</text>
<text x="183.4" y="192.8" font-size="14" font-weight="bold" fill="#000" textLength="8.0" lengthAdjust="spacingAndGlyphs">E</text>
<text x="195" y="250.9" font-size="7.2" stroke="#222" stroke-width="0.0" textLength="15.8" lengthAdjust="spacingAndGlyphs" font-style="italic">Obf1</text>
<text x="219.4" y="250.9" font-size="7.2" stroke="#222" stroke-width="0.0" textLength="7.6" lengthAdjust="spacingAndGlyphs">-/-</text>
<text x="232.9" y="250.9" font-size="7.2" stroke="#222" stroke-width="0.0" textLength="11.5" lengthAdjust="spacingAndGlyphs">+/+</text>
<rect x="214.8" y="253.8" width="35.7" height="16.8" fill="#d9d9d9" stroke="#4a4a4a" stroke-width="1"/>
<rect x="214.8" y="275.4" width="35.7" height="18.8" fill="#d9d9d9" stroke="#4a4a4a" stroke-width="1"/>
<g filter="url(#blur1)">
<rect x="234" y="259.8" width="12.5" height="5" rx="2.5" fill="#0a0a0a"/>
<rect x="218" y="282.8" width="13.5" height="6" rx="3" fill="#0a0a0a"/>
<rect x="233.5" y="282.8" width="14" height="6" rx="3" fill="#0a0a0a"/>
</g>
<text x="254" y="265.3" font-size="8.4" stroke="#222" stroke-width="0.1" textLength="18" lengthAdjust="spacingAndGlyphs">OBF1</text>
<text x="254" y="288.8" font-size="8.4" stroke="#222" stroke-width="0.1" textLength="16.6" lengthAdjust="spacingAndGlyphs">Actin</text>
<text x="289.7" y="192.8" font-size="14" font-weight="bold" fill="#000" textLength="7.2" lengthAdjust="spacingAndGlyphs">F</text>
<path d="M410.8 247.5h0M446.3 260.2h0M430.6 250h0M425.4 255h0M431.9 248.9h0M433.8 245.6h0M396.5 238.7h0M365.3 240.2h0M434.8 261.8h0M433.4 249.9h0M450.8 247.6h0M368.2 236.7h0M423.8 254.3h0M376.8 259.9h0M439.3 254.3h0M431.7 252.9h0M400.3 263h0M455.4 257.7h0M397.1 253.2h0M412.9 243.7h0M406.4 252.6h0M465 253h0M424.8 261.7h0M411.6 245.1h0M439.6 247.3h0M445.7 253.3h0M422 239.6h0M415.2 236.8h0M423.2 251h0M450.3 244.2h0M394.4 240.2h0M456.3 256.2h0M420.4 248.9h0M425.7 251.2h0M415.9 255.5h0M368.8 250.3h0M412.5 237.6h0M431.2 244h0M374.8 254.1h0M421.7 252.5h0M377.8 248.9h0M400.8 242.4h0M434.7 261.4h0M440.7 256.2h0M429.6 244h0M394 256.9h0M440.5 243h0M434 249.9h0M415.7 243.8h0M381.1 236h0M386.5 248.4h0M394.9 242.9h0M398.6 245.3h0M409.1 254.3h0M428.4 248.6h0M389.4 257.4h0M397.7 256.3h0M460.3 251.8h0M432.9 250.4h0M408.6 263.4h0M426.8 260.3h0M422.8 255.7h0M417.6 246.2h0M432.1 241.1h0M445.8 245.4h0M368.3 241.5h0M401.1 249.3h0M383.5 245.9h0M430.1 256h0M435.6 247.2h0M378.5 244.7h0M429.4 247.5h0M436.5 251.5h0M388.6 235.5h0M446.4 250.6h0M425.8 252.8h0M411.7 263h0M432.5 239.3h0M424.4 251h0M416.2 255.7h0M417.5 247.3h0M452.8 254.6h0M418.1 248.5h0M437.3 250.2h0M425.1 256.1h0M369.1 240.9h0M426.9 256.7h0M390.7 247.6h0M425.4 247.7h0M434 260.2h0M372.1 258.4h0M402.6 244.3h0M428.6 257.7h0M431.7 249.9h0M429.4 248.6h0M407.5 249.3h0M366.2 255.5h0M376.8 241.9h0M400.8 258h0M433.1 245.2h0M460.5 247.9h0M417.3 245.6h0M418.4 252.1h0M429.5 259.6h0M426.1 256.4h0M406.5 250.7h0M460.9 254.4h0M390.1 249.3h0M399.4 246.7h0M417.6 259.8h0M366 240.8h0M390.1 257h0M367.3 245.1h0M400.2 247.2h0M406.6 251.8h0M382.3 257h0M422.9 254.6h0M413.3 242.8h0M431 257.3h0M419.1 244h0M386.1 253.6h0M451.7 251.2h0M448.4 259.5h0M430.4 262.3h0M447.3 245h0M373.5 257.2h0M434.2 243.1h0M421.8 249h0M425.3 256.6h0M431.4 240.2h0M417.8 251.3h0M387.4 248.8h0M453 256h0M401.7 241.4h0M440.9 253.5h0M412.8 251.3h0M430.8 248.3h0M442.8 255.7h0M439.5 246.6h0M394.7 256.9h0M393.9 248.4h0M401.4 240.4h0M399.7 251.7h0M417.1 249.7h0M416.9 261.8h0M362.6 231.8h0M436.6 257.2h0M396.5 253.4h0M447.9 244.5h0M454.6 253.4h0M456.3 247.6h0M401.6 241.9h0M430.8 256.8h0M423.7 243.6h0M425.9 262.8h0M416 253.5h0M400.5 247.7h0M425 251.7h0M415 244.6h0M390.3 245.7h0M400.9 253.3h0M426 251.7h0M409.4 249.8h0M449.1 258.4h0M465.2 244.2h0M422.7 245.8h0M403 239.2h0M409.1 237.6h0M376.3 252.2h0M424.8 239.4h0M371.3 252.7h0M413.3 256.9h0M445.9 260.5h0M400.6 245.5h0M442.3 250h0M374.9 239.3h0M445.4 243.4h0M422.4 253.7h0M403 253.6h0M402.2 243h0M437.9 243.3h0M431.2 251.2h0M406.8 241.8h0M382.3 244.3h0M408.2 253.6h0M399.5 243.6h0M425.7 248.9h0M398.2 240.7h0M422 241.9h0M441.5 258.9h0M380.6 243.2h0M383.2 255.3h0M413.5 261.9h0M405.3 249.2h0M403.5 261.3h0M384.8 251.9h0M437.4 254h0M429.6 252.6h0M458.9 252.6h0M384.2 234.5h0M455.1 246.8h0M406.5 254.8h0M409 258.3h0M390.5 239.9h0M375.6 251h0M418.9 249.7h0M387.1 233.9h0M384.8 242.1h0M427.4 240.5h0M392.8 254.1h0M422.9 244.7h0M397.9 241.7h0M388.4 248.5h0M391.5 249.3h0M387.4 250.8h0M434.2 250.8h0M405.9 250.4h0M418.4 248.3h0M437.5 249.1h0M406 237h0M430.1 239.8h0M366.3 253.7h0M420.1 261.1h0M461.9 243.8h0M405.9 248.2h0M415.7 261h0M443.4 248.8h0M381.4 254.6h0M399 253.5h0M443.5 244.8h0M410.5 247.8h0M445 243.5h0M433.6 239.9h0M369.3 256.1h0M364.9 252.3h0M458.5 250.6h0M460.6 245h0M398.8 247.1h0M433.2 255.6h0M435.4 259.6h0M416.8 261.5h0M390.6 236.9h0M421.7 248.8h0M412.4 241.1h0M450.8 253.1h0M422.3 261h0M410.6 246.4h0M422.4 250.3h0M393.7 254.8h0M419.3 258h0M430.8 260.6h0M439.2 258.4h0M391 250.3h0M458.8 249.9h0M397.7 252.5h0M464.7 258.9h0M420.4 251.6h0M416.7 260.9h0M416.8 257.4h0M457.7 251h0M434.8 255.3h0M426.6 253.9h0M417.6 255h0M442.7 262h0M445.7 246.7h0M446.8 260h0M416.2 252h0M419.6 240.3h0M402.9 245.6h0M425.3 243.3h0M401.9 240.2h0M390.7 247.4h0M446.2 251.7h0M427.8 257.5h0M415.6 257.4h0M412.9 252.5h0M402 246.9h0M411 243.8h0M409 255h0M427.1 250.2h0M434.5 246.8h0M425.4 245.7h0M448 242.7h0M402.9 244.7h0M460.2 258.1h0M429.2 256.2h0M383.8 248.9h0M377.7 242.6h0M405.7 246.7h0M425.9 246.1h0M432.6 246.1h0M437.6 258.5h0M406.4 241.2h0M418 250.9h0M414 245.9h0M468.1 248h0M436.8 248.8h0M416.9 241.6h0M410.9 256.2h0M399.9 257.3h0M432.7 247.2h0M411.7 247.4h0M418 247.5h0M454.6 252.6h0M427.9 259.4h0M386.8 235.6h0M450.2 248.8h0M435.8 249.3h0M425.2 256.8h0M419.2 258.7h0M466.7 250h0M430.4 251h0M422.9 256.2h0M437.2 243.3h0M428.7 251h0M463.1 256.1h0M421.5 245.5h0M406.2 246h0M442.6 248.6h0M462.8 249.5h0M440.8 251.4h0M446.7 260.1h0M432.8 261.8h0M437.3 249.2h0M455.3 246h0M441.4 261.2h0M389 242.8h0M418.4 236.9h0M446.9 258.8h0M368.8 258.2h0M396.9 259.8h0M411.5 240.8h0M410.4 240.4h0M426.6 257.4h0M436.7 247.4h0M443.4 254.9h0M451 254.6h0M431.6 243.3h0M455.5 251h0M429.4 252.8h0M424.2 252.7h0M401.3 239.1h0M399.1 261h0M457 245.9h0M397.2 249.3h0M424.9 255.2h0M382.4 240.5h0M412.3 245.4h0M421.4 258h0M390.9 254.3h0M441.1 247.4h0M408.2 252h0M407.3 245.1h0M449.7 247.5h0M420.4 241.8h0M442.1 253.9h0M428.2 255.5h0M413.7 244.2h0M437.7 250.5h0M436.6 244.5h0M427.4 241.4h0M438.7 245.1h0M454.4 245.7h0M416.1 249.6h0M462.2 245.4h0M435.4 254.6h0M407.6 255.2h0M421.5 253.6h0M419.6 259.1h0M402.4 255.3h0M410.9 256.6h0M399 263h0M431.4 244.9h0M414.9 250.1h0M448.5 249.7h0M432.2 258.6h0M401.6 239.4h0M383.1 240.3h0M409.3 262.7h0M397.5 257.7h0M439.3 260.1h0M389.6 237h0M434.2 259.6h0M403.5 250.4h0M410.7 256h0M409.8 253.3h0M401.8 238.6h0M452.3 255.6h0M413.3 245h0M425.4 251h0M398.8 249.1h0M421.1 245.8h0M356.5 255.1h0M436.1 260.4h0M440.4 260.1h0M420.7 254.2h0M392.4 244.6h0M375.2 259.2h0M451.7 253.3h0M419.5 242.2h0M424.5 259.9h0M412.7 242.6h0M394.2 242h0M388.6 233.5h0M420.8 248.7h0M407.2 256.8h0M416.6 255.8h0M422.6 260.6h0M438 252.4h0M451.4 249.6h0M405.7 251.4h0M427.2 260h0M420.3 248.9h0M446.4 253.3h0M398.1 253.1h0M416.4 245.2h0M442.5 252.3h0M389.7 264h0M421 249h0M382.2 247.4h0M423.4 254.1h0M388.2 255.7h0M424.9 256.8h0M443.1 249.6h0M436.9 245.4h0M407.9 254.4h0M398.5 245.3h0M432.6 245.1h0M423.2 243.9h0M426.9 253.2h0M412.4 250.4h0M432.5 250.9h0M418.4 240.8h0M389.4 248h0M369.2 241.5h0M403.4 239.7h0M459.7 243.7h0M410.2 259.9h0M465.2 245.3h0M414.3 253.7h0M438.4 245.5h0M388.2 235.9h0M391.5 243h0M406.9 241.3h0M367.5 261.4h0M446.8 250.4h0M412.5 242.6h0M414.8 236.4h0M465 255.2h0M403.5 242h0M390.4 242.7h0M413.7 257.8h0M446.9 258.6h0M427.8 253.1h0M429.5 256.5h0M382.7 244.6h0M437.2 255.1h0M374.2 234.3h0M448.1 256.3h0M409.4 254.4h0M438.2 245.9h0M433.9 245.1h0M421.3 255.4h0M423.3 252.2h0M460.2 248.6h0M415 250.8h0M408.4 256.9h0M395.7 245.6h0M404.1 247.3h0M463.3 255.8h0M417.8 261h0M451.9 258.3h0M452.8 249.3h0M438.1 252.4h0M399.1 253.4h0M382.1 238.6h0M389.1 259.5h0M447.5 248.4h0M387.1 235.1h0M409 241.3h0M464 252.7h0M375.2 243.1h0M372.2 241.2h0M437.6 246h0M356.2 253.3h0M378.9 237.8h0M404 248.2h0M469.7 256.9h0M384 245.5h0M454.6 247.1h0M407.5 256.3h0M423.9 255.6h0M409.9 252.9h0M433.1 247.3h0M370.5 239.7h0M418.7 255h0M379.8 249.7h0M418.5 242.7h0M415.6 261.6h0M377.3 260.1h0M390.9 241.4h0M425.7 257.5h0M390.4 246.5h0M366.8 241.3h0M410 237h0M418.2 246.9h0M385.9 260.7h0M415.9 244.1h0M419.3 237.6h0M430.8 260.4h0M464.5 257.9h0M401.1 248.5h0M429 251.7h0M409.1 249h0M383 254.6h0M379.8 239.8h0M400.1 256.3h0M430.5 256.9h0M459.8 245.4h0M469 247.8h0M436.4 259.2h0M427 257.5h0M456.6 248.3h0M389 238.5h0M402 253.3h0M420.2 260.4h0M409.9 260.8h0M380.6 243.8h0M429.6 254h0M408.4 253.9h0M419.9 239.7h0M409.9 250h0M428.9 246.8h0M424.8 249.1h0M453.3 241.5h0M372.3 250.5h0M425.1 256.5h0M404.7 245.3h0M449.7 257.5h0M424.4 255.2h0M417.8 247.4h0M387.7 250.5h0M459.6 250.3h0M443.9 247h0M404.1 262h0M417.8 241.9h0M461.5 257.6h0M426.3 256.9h0M395.9 248.8h0M369.5 232.5h0M404.3 263h0M429.9 251.8h0M417.6 258.8h0M453.7 252.6h0M414.3 243.6h0M456.2 250.8h0M408.7 254.1h0M407.5 263h0M408.8 238h0M463 247.1h0M417.2 244.4h0M411.9 254.1h0M399 245.7h0M377.9 241.7h0M424.6 243.2h0M416.2 241.8h0M429.3 259.1h0M428 255.3h0M446.3 245.2h0M387.7 252.2h0M426.2 246.4h0M364.3 233.5h0M420.6 249.5h0M404.4 252.4h0M396.2 258.3h0M452.9 256.4h0M429.9 251.9h0M383.6 256.4h0M371.8 232h0M421.3 253.2h0M444.8 246.2h0M398.7 238.1h0M402.6 241.4h0M378.9 261.1h0M395.6 263.4h0M407.6 254.1h0M432.7 250.4h0M430.2 254.7h0M447.7 253.1h0M412.6 244.6h0M422.6 253.3h0M432.1 258.9h0M448.4 245.2h0M414.3 239.8h0M413.6 255.6h0M406 252.2h0M413.7 244.1h0M447.4 261.2h0M413.6 239.9h0M432.1 241.2h0M400.2 259h0M404.6 255.5h0M458.3 257.2h0M375.5 258.6h0M427.6 249.4h0M423.6 244.2h0M424.4 249.9h0M440 254.6h0M419.4 259.7h0M408.5 257.4h0M397.9 245.4h0M416.2 259.3h0M456.7 243.8h0M454.6 256.1h0M403.8 255.4h0M431 261h0M428.5 248.9h0M403.9 246.7h0M434 249.8h0M431.5 243.1h0M383 237.5h0M434.6 249.7h0M437.1 259.7h0M374.4 244.8h0M395.9 242.7h0M433 247.7h0M366.2 248.8h0M422.7 257.2h0M451.5 256.6h0M392 247.1h0M402.2 241.9h0M425 252.2h0M410.3 261.3h0M427.7 244.1h0M454.4 256.2h0M468.3 248.3h0M422.9 259.4h0M413.4 252.4h0M433.6 254.6h0M419.7 263h0M437.3 252.8h0M450.3 252.4h0M466.4 249.1h0M394.7 245.3h0M401.2 246.5h0M405.1 255.1h0M422.8 252.8h0M426.3 246.9h0M428.4 242.8h0M416.2 240.6h0M404.8 252.3h0M432.6 245.4h0M384 237.9h0M454.6 260.2h0M381.5 250.4h0M390.5 248.1h0M397.3 244.7h0M434.3 255.3h0M436.4 256.3h0M361.9 258.4h0M416.8 255.3h0M426 241.5h0M432.4 245.2h0M393.8 258h0M423.8 242.4h0M414.6 253h0M443.3 248.9h0M388 263.9h0M463.8 254h0M362.2 240.2h0M455.2 247.8h0M414.7 256.7h0M427 258.5h0M394 258.2h0M412.8 261.2h0M405.6 261.4h0M387.2 240.1h0M365.9 250.8h0M417.7 254.1h0M422.8 255.4h0M384.2 247.2h0M409.4 239.3h0M430.9 247.1h0M392.6 256.4h0M414.7 250.4h0M436.2 258.6h0M434.7 259.5h0M454.8 256h0M442.5 251.8h0M420 247.8h0M437.4 243.7h0M439.5 254.5h0M434.8 248.9h0M411.6 256h0M450.4 253.2h0M393.6 251.8h0M460.5 251.9h0M392.9 258.4h0M434.4 245.4h0M432.7 246.8h0M401.2 250.5h0M427.7 246.7h0M439 245.6h0M428.5 257.9h0M416.4 250.2h0M416.2 250.7h0M407.1 244.1h0M403.8 251.5h0M400.5 245.5h0M404 247.4h0M456.9 255.3h0M394.4 246h0M415.4 253.1h0M414.8 250.2h0M440.1 256.6h0M395.7 242h0M390.5 246h0M422.5 244.1h0M392.4 257.5h0M375.7 252.1h0M389.9 257.2h0M391.1 251.8h0M448.1 248h0M429.4 248.9h0M404.4 243.7h0M390 250.5h0M431.4 245h0M421 257.9h0M401 261.5h0M398 234.3h0M400.9 257.5h0M414.4 255.3h0M430.3 251.9h0M468 252.5h0M422.5 245.8h0M427.4 257.2h0M368.4 243.5h0M447.3 258.2h0M416.4 248.1h0M454.6 255.2h0M395.4 244.5h0M412.8 249.8h0M410.9 255.4h0M426.2 255.7h0M447.2 261.6h0M420.4 259.4h0M406.4 248.2h0M413.1 243.4h0M388.1 249.1h0M434.7 246.7h0M408.4 251.5h0M404.1 262.1h0M387.8 262.6h0M435.6 257.8h0M449.5 254.4h0M389.6 251.2h0M400.4 239.5h0M410.4 238.6h0M364.5 247.6h0M395.3 248.5h0M456.7 248.4h0M395.1 243.7h0M418 256.1h0M407.9 246.2h0M432.5 258.9h0M468.6 249.4h0M444.8 249.9h0M423.7 246.4h0M395.7 246.4h0M438.8 261.2h0M404.3 254.8h0M428.5 249h0M450.4 257h0M417 260.6h0M431.5 260.1h0M434.5 259.2h0M425.6 253.4h0M416.9 242h0M376.8 257.9h0M421.3 251.2h0M398.8 237.5h0M442.7 260.6h0M436.2 252.7h0M412.2 254.8h0M444.5 244.8h0M405 247.2h0M414.2 255.1h0M437.2 251h0M420.5 253.4h0M426.6 246.2h0M410.7 252.2h0M396.9 248.6h0M406.2 244.3h0M417.9 258.7h0M436.5 256.6h0M416.9 238.7h0M435.3 248.1h0M439 259.9h0M422 255.8h0M396.2 239.4h0M407.6 251.4h0M440.4 252.9h0M430.7 246.7h0M451.5 254.3h0M436.8 241.7h0M418 259.7h0M438.7 244.7h0M380.3 239h0M443.5 258.1h0M392.2 239.3h0M359.7 242.1h0M394.8 260.5h0M427.5 260.7h0M432.9 240.9h0M420.8 250.6h0M383.6 254.9h0M393.1 251.8h0M435.3 255.8h0M393.2 239.8h0M428.3 261.8h0M417.9 259.7h0M418 256.8h0M401.5 254.6h0M396.3 251.4h0M440.1 245.7h0M423.4 245.9h0M460.6 250.7h0M432.5 238.9h0M356.7 254.3h0M425.9 246.5h0M407 258.6h0M438 243.4h0M422.8 248.4h0M440.4 244.5h0M397.3 244.6h0M451.3 243.1h0M419.7 261.3h0M423.5 249.5h0M449.7 260.1h0M393.6 259h0M407.3 243.3h0M411.8 252.8h0M388.4 245.9h0M416.9 255.3h0M401.7 260.9h0M398.7 246.6h0M387.9 238.2h0M459.6 248.8h0M406.3 253.1h0M405 242.2h0M403.4 246.1h0M399.9 249.2h0M441.3 244.5h0M454.7 248.5h0M420 245.3h0M397.6 261.2h0M425.6 261.7h0M423.8 259.3h0M384.8 245.3h0M411.1 240.8h0M466.9 259.5h0M395.9 251.6h0M452.9 251.9h0M395.1 256.6h0M417.9 259.3h0M432.1 249.2h0M400.4 242.9h0M383.7 245.8h0M426.8 251h0M409.5 243.9h0M397.2 262h0M440.9 259.4h0M427.1 258.1h0M447.2 245.9h0M385.3 240.3h0M410 258.7h0M396.7 245.1h0M450.8 246.7h0M427.4 252.4h0M430.4 246.8h0M430.9 244.2h0M424 255.4h0M401.3 237.2h0M382.5 243.4h0M447.1 260.5h0M407.4 247.6h0M423.7 258.1h0M449.9 259.7h0M456.6 245.6h0M418.8 254.6h0M426.8 249.5h0M416.2 261.1h0M420.8 243.2h0M449.2 245.3h0M375.6 259.4h0M381.3 252.6h0M419.1 249h0M431.2 252.2h0M415.5 261.6h0M403.9 239.2h0M425.5 258.6h0M422.3 260.5h0M440.3 242h0M437.1 256.9h0M409.5 243.7h0M404.3 257.2h0M435 254.2h0M410.6 247h0M399.3 243.4h0M399.2 249.7h0M434.2 245.9h0M430.7 258.3h0M421.5 244.6h0M378.7 241.2h0M392 241.9h0M397.2 235.3h0M429 244.3h0M413 247.2h0M410.2 258.4h0M432.5 250.8h0M437.2 243.3h0M442.1 249.4h0M456.3 259.1h0M440.9 257.7h0M416.4 257.6h0M403.6 244.9h0M445 257.8h0M425.6 242.9h0M425.2 253.8h0M406.9 259.8h0M385.5 233.6h0M447.8 255.7h0M373.1 237.2h0M377.7 243.5h0M429 253.8h0M401.2 254.9h0M409.1 243.5h0M415.8 246.2h0M435.1 252.6h0M384.7 233.2h0M402.8 240.2h0M392.3 246h0M379.1 253.3h0M457.8 252.8h0M405.5 263.3h0M405.5 242.3h0M435.6 253.6h0M450.3 247.3h0M436.8 254.4h0M404.9 249.9h0M422.2 261.3h0M376.4 239.1h0M459.5 260h0M449.8 251.3h0M376.5 262.4h0M428.6 254h0M417.3 250.7h0M467.6 247.5h0M436.1 249.4h0M410.8 245.9h0M406.3 249.7h0M379.2 238.6h0M422.4 244.8h0M402.5 260.6h0M419.8 247.3h0M379.2 250.7h0M439.8 245.9h0M434.3 260h0M443.2 248.4h0M400.2 256.7h0M416.4 255.8h0M457.1 246.5h0M416.5 257.6h0M401 248.3h0M404.6 242.1h0M417.9 254.1h0M451.3 251.3h0M447.3 254.6h0M401 255.2h0M437.7 241.7h0M444.3 253.4h0M415.5 246.1h0M358.9 249.4h0M417 252.9h0M439.6 246.2h0M383.7 245h0M429.9 242.5h0M385.5 252.3h0M459.1 247.3h0M416.9 254.5h0M400.2 239.7h0M454.8 249.1h0M419.2 252.4h0M435.1 262.2h0M417.8 256h0M432.7 251.8h0M424.2 262.8h0M437.8 251.9h0M373 244.9h0M400.7 244h0M389 249.1h0M432 252.6h0M400.1 238.8h0M451.9 249.6h0M421.4 249h0M422.8 255.1h0M406.3 247.3h0M413.1 243.3h0M399.8 249.4h0M412.7 253.1h0M431.3 255h0M444.7 253.3h0M428.5 261.2h0M456.6 250.5h0M403.3 247.6h0M441.3 244.1h0M409.2 258.1h0M434.7 247.2h0M412.3 240.7h0M427.3 258.7h0M403.4 241.9h0M395.5 245.7h0M409.5 243.3h0M412.4 258.1h0M390.3 259.7h0M437.2 257.8h0M425.9 261h0M407.3 260.7h0M416.5 251.9h0M381.5 241.8h0M397.3 253h0M429.5 241.9h0M386.2 254.4h0M397.1 253.8h0M404.9 246.7h0M421.4 256.2h0M448.4 256.1h0M433.1 238.5h0M425.3 246.4h0M438.3 248h0M437 261.5h0M398 244.4h0M405.9 262.8h0M415.7 248.6h0M423.8 238.6h0M393.8 237.1h0M395.4 243.4h0M407.2 245.5h0M419.2 243.3h0M401.3 253.4h0M414.2 257.2h0M444.2 244.7h0M409.4 250h0M427.8 255.6h0M421.7 248h0M404.6 242.6h0M420.8 257h0M463.3 253.1h0M389.5 239.2h0M425.4 249.6h0M410.9 256.9h0M396.1 248.2h0M416.8 240.2h0M433.7 254.3h0M376.8 234.9h0M439.6 249.9h0M454 250.4h0M375.5 238.8h0M463.1 253.4h0M437.4 249.2h0M448.6 246.6h0M391.2 253.1h0M428 257.1h0M428.1 248.7h0M430.3 253.1h0M407.8 252.2h0M394.1 244.1h0M380.5 239.1h0M432.5 243.9h0M448.3 256.7h0M432.8 241.3h0M409.1 253.5h0M435.3 246.9h0M388.9 234.1h0M391.9 245.6h0M411.3 259.2h0M450.1 251.7h0M409.7 259.7h0M433.3 249.6h0M419.6 239.6h0M408 248.2h0M394.6 244.4h0M396.2 248h0M419.6 247.3h0M409.6 244.2h0M457 257.6h0M410.8 252.1h0M405.1 256.1h0M390.4 254.3h0M412.8 258.1h0M445.6 259.5h0M436.1 251.6h0M423.8 252.6h0M426.8 261.9h0M456.8 246.9h0M389.5 250.9h0M446.8 249.6h0M422.4 242.7h0M458.9 248.9h0M437.1 248.6h0M408.5 253.5h0M398.4 259.1h0M427.8 258.4h0M452.9 253.9h0M460.5 259.4h0M464.9 255.2h0M432.2 253.6h0M404.2 241.6h0M434.3 254.3h0M407.6 251.5h0M383.7 259.4h0M394.9 250.3h0M406.8 250.2h0M420.7 249h0M398.6 261.5h0M410.8 242.4h0M450.1 248.1h0M399.4 260.3h0M405.8 238.2h0M434.7 248h0M462.9 246.3h0M397.8 261.1h0M417.6 249.6h0M407.3 244.2h0M410.2 254.4h0M419.2 255.6h0M404.5 245.9h0M407.5 245.6h0M412.2 254.7h0M444.7 254h0M383.9 243h0M429.2 259.5h0M439.5 259.8h0M416.8 239.5h0M428.6 261.3h0M404.7 257.7h0M417.7 252.9h0M408.6 254.5h0M467.5 249.4h0M418.5 255.6h0M414.1 252.1h0M378 234.9h0M408 246.9h0M431 247.5h0M425 257h0M376.7 233.8h0M430.4 256.7h0M408.4 262.8h0M411.9 246.6h0M411.8 254.7h0M425.7 253.9h0M444.2 260.2h0M424.5 244.7h0M441.3 248h0M415.5 247.4h0M466.8 252.2h0M410.8 246.1h0M421.5 244.7h0M439.4 245.5h0M451.9 245.6h0M372.5 244.6h0M386.9 259.4h0M407.5 253.3h0M455.3 260.6h0M383.9 237.9h0M439.4 252.3h0M401.2 248.8h0M444.4 255.5h0M447.4 252.7h0M425.6 250.8h0M457.6 250.4h0M393.3 259.1h0M433.6 249.3h0M434.3 258.4h0M443.8 243.5h0M386.4 261.1h0M404.4 247.6h0M437.3 247.5h0M418.8 240.5h0M403.1 248.7h0M432.3 254.1h0M437 254.5h0M450.4 257.6h0M458.3 250.2h0M398.6 248.8h0M434.6 252.7h0M401 242.3h0M415.6 253h0M468.5 257.9h0M440.7 244.4h0M430.9 239.7h0M441.3 243.8h0M451.4 255.4h0M452.8 255.6h0M384.7 234.9h0M440.3 244.6h0M389.1 253.2h0M392.2 243.3h0M427.5 243.5h0M420.6 244.8h0M395.1 238.6h0M425.8 252.8h0M430.9 245.6h0M418.9 262h0M417.1 262h0M405.6 249.8h0M449.6 258.5h0M391.7 239.2h0M400.3 257.4h0M366.5 250.5h0M438.5 248.8h0M416.6 248.2h0M456.4 245.4h0M449.5 254.5h0M388.5 238h0M421.9 249.7h0M383.4 258.5h0M462.6 255.5h0M369.5 249.6h0M449 245.7h0M381.4 260.6h0M419.2 249h0M459.1 255.4h0M456.1 255h0M386.2 234h0M418 256.2h0M418.3 243.3h0M388.9 255h0M456.1 251.2h0M401 249.9h0M424.3 244.6h0M375.5 243.4h0M440.1 254.2h0M408.6 246.2h0M395.6 253.2h0M417 252.1h0M399.9 249.9h0M446.5 249.4h0M364.9 241.9h0M387.7 246.3h0M447.1 258h0M374.4 253.8h0M400.4 263.1h0M387.2 246.6h0M454.3 251.2h0M411.6 256.7h0M404.5 248.8h0M441.1 246.9h0M430.1 248.8h0M401.8 244.8h0M442.5 247.7h0M427.7 247.8h0M450.7 254.5h0M435.9 260.3h0M392.4 248.5h0M431.5 252.9h0M430.2 254.9h0M437.1 249.1h0M432.8 259.3h0M456.3 251.6h0M371.5 254.1h0M422.2 256.6h0M377.4 254.7h0M423.5 258.4h0M418.3 242.7h0M442.5 247.5h0M436.4 249.7h0M387.1 242.2h0M407.9 256h0M432.6 253.7h0M425.5 246h0M449.4 254.4h0M412.8 240.2h0M430.8 257.9h0M390.2 257.8h0M403 262.6h0M372.7 236.4h0M407.5 253.7h0M446.8 249.5h0M384.3 234.8h0M407 244.2h0M381.3 251.9h0M412.9 253.2h0M403.1 241.9h0M389.6 239.8h0M429.1 251.6h0M399.7 242.4h0M406.5 260.9h0M440.8 246.1h0M423.4 242.7h0M400.3 249.5h0M386.7 240.4h0M446.4 258.6h0M433.3 257.8h0M443.6 257.7h0M408.5 256.6h0M391.3 259.9h0M418.8 250.7h0M427.7 261.1h0M427.1 251.2h0M389.6 237.3h0M419.1 255.6h0M398 248.8h0M421.8 248h0M417.4 256.3h0M398.6 258.8h0M440 248.8h0M406.6 246.7h0M434.3 261.5h0M399.7 239.4h0M397.1 242.8h0M398.4 247.7h0M404 256.6h0M411.4 254.9h0M428.6 244.2h0M437.6 254.4h0M435.7 243.9h0M397.6 242h0M366.6 231.5h0M428.7 243.5h0M412.5 247.4h0M398.8 250.4h0M434.1 249.8h0M438.6 259h0M407 245.6h0M420 258.6h0M438.8 253.4h0M469.6 247.8h0M443.4 253.8h0M438.7 250.3h0M401 243.1h0M413 259.5h0M435.5 261.8h0M431.5 254h0M394.5 243.7h0M404.4 248.4h0M415.3 250.3h0M364.6 236.6h0M419.1 259.2h0M422.8 253.2h0M461 251.2h0M454.9 249.8h0M439.4 260.4h0M445.1 257.6h0M421.9 250.2h0M413.5 256.9h0M431 262.2h0M398.7 245h0M444.2 255.5h0M407.5 250.4h0M444.5 250.6h0M440.6 252.4h0M426.8 242.2h0M412.9 247.4h0M414 258h0M417.2 248.3h0M387.2 237.2h0M409.1 246h0M427.4 247.4h0M401.2 261h0M375.8 241.8h0M402.2 241.9h0M400.8 247.7h0M405.2 244.9h0M418.4 242.5h0M439.7 253.1h0M441 261.2h0M365.1 258.4h0M399.7 239.1h0M460 247.6h0M448.2 251.6h0M455 250.9h0M401 262.6h0M430.5 258.4h0M435.4 261.6h0M454.1 251.3h0M429.2 244.7h0M360.5 243.8h0M406.7 247.4h0M407.5 248.5h0M452.4 252.6h0M364.7 245.1h0M398.8 259h0M411.8 243.8h0M422.6 250.9h0M425 248h0M403.1 242h0M439.3 258.8h0M440.9 244.2h0M409.3 257.3h0M361 257.3h0M442.6 247.4h0M469.6 257.2h0M418.8 255.6h0M426.5 241.9h0M434.3 245.8h0M419 255.1h0M422.1 241.9h0M409.3 250.7h0M433.6 240.1h0M409.3 251h0M411.7 257.4h0M394.7 240.4h0M412.2 251.4h0M412.4 251h0M413 247.1h0M424.7 245.8h0M428.3 255.6h0M411.3 240.4h0M425.8 257.1h0M427.3 251.7h0M403.8 242.9h0M415.8 256.4h0M392.5 252.5h0M411.2 249.4h0M362.6 253.3h0M441.7 249.4h0M412.1 240.6h0M424.4 249.1h0M419.8 254.3h0M431.2 247.5h0M457.5 242.4h0M391.6 257.3h0M426.7 239h0M400.5 239.9h0M426.6 261.2h0M427.3 253.1h0M357.6 243.4h0M397.7 245.2h0M403 242.9h0M416.7 254.2h0M415.7 252.9h0M436.5 260.4h0M446.9 258.4h0M403.7 257.8h0M435.1 249.3h0M432.8 253.6h0M394 258.2h0M458.1 258h0M367.1 245h0M439.1 247.3h0M381.4 237.9h0M428.8 261.7h0M388 256.4h0M415.1 244.9h0M398.2 256.8h0M433.3 258.5h0M433.1 249.1h0M410.2 246.6h0M423.8 253.8h0M449.2 246.4h0M452.5 256.7h0M448.3 253.9h0M421.4 259.8h0M417.7 253.6h0M435 258.5h0M450.3 255.2h0M414.1 249.8h0M453.6 256.1h0M422.5 251.4h0M399.4 250.7h0M399.9 236.5h0M386.7 236.3h0M418.2 258.9h0M383 259.4h0M420 252.4h0M419.1 244.5h0M399.4 249.9h0M440.4 262.5h0M443.5 258.8h0M412.8 245h0M416 247.5h0M387.7 249.5h0M431 255.7h0M410.7 256h0M405.2 238h0M437.4 259h0M396.8 256.8h0M453.4 255.2h0M402.8 234.4h0M392.9 255.3h0M392.6 260.5h0M434.8 253.7h0M428.5 253.8h0M430.9 243.5h0M454.9 246.1h0M419.4 246.9h0M416.5 255.3h0M419.4 260.8h0M410.4 237.6h0M426.8 244.2h0M403 256.7h0M436.3 251.1h0M405.9 248.1h0M415.1 245.8h0M393.5 248.1h0M415 261.3h0M376.6 256.1h0M420.9 249.2h0M413.2 248.8h0M449.3 254.5h0M423 245.2h0M371.1 247h0M451.4 260h0M431.1 248.6h0M389.1 243.4h0M411.6 242.9h0M385.4 261.1h0M401.6 243h0M408.4 258h0M457.6 257.1h0M407.8 239h0M429.3 247.7h0M409 245.7h0M445.3 247.2h0M439.7 244.5h0M421.5 262.5h0M433.2 257.4h0M435.1 255.2h0M429 252.2h0M398.7 249.3h0M409.3 253.5h0M398.5 247.6h0M414.4 258.1h0M403.9 250.9h0M394.7 244.3h0M437.2 249h0M420.5 260h0M424.1 260.9h0M407.7 245.1h0M423.5 252h0M397.2 258.8h0M395.8 250.9h0M436.2 254.8h0M450.1 248.3h0M438.4 259.2h0M390.4 251.8h0M420.8 242.8h0M423.7 250.2h0M424.8 242.5h0M437.1 256.2h0M436.1 253.4h0M450.3 249.4h0M396.8 242.3h0M391.4 242.1h0M412.2 248.1h0M444.9 251.4h0M378.6 253.1h0M408.8 241.9h0M390.3 245.1h0M444.8 249.3h0M408.7 238.4h0M408.8 253.4h0M436.7 248.7h0M419.3 252.9h0M403.7 258.1h0M391.3 248.7h0M425.8 251.1h0M445 243.4h0M435.1 259.1h0M423 252.8h0M420.4 253.5h0M428.1 259.2h0M444.9 254.5h0M431.7 255.5h0M404.5 249.8h0M422.8 245.3h0M440.7 246h0M420.4 258.4h0M412.5 240.3h0M415 254.1h0M435.9 255.1h0M377.6 260.7h0M380.4 243.8h0M365.9 252h0M446.5 250h0M393.2 254.5h0M426.2 257h0M438.2 245.2h0M441.2 250.1h0M427.6 255.2h0M393.5 256.3h0M412.1 258h0M394.9 252.4h0M445.1 245.7h0M437.8 252.7h0M420.8 257h0M369.7 243.5h0M356.4 243.6h0M454.2 243.1h0M421.8 255.2h0M430.7 248.3h0M402.7 255.9h0M403.8 239h0M407.8 240.3h0M399.9 237.1h0M422.1 248.2h0M401.4 258.7h0M445.1 251.3h0M384.8 243.7h0M437.3 251h0M403.2 256.4h0M388 252.1h0M434 252.3h0M389.6 244.3h0M406.7 253.7h0M416.3 257.3h0M425.1 245.3h0M432.5 251.3h0M383.1 243.5h0M433 249.7h0M378 248.1h0M455.7 247.8h0M414.6 253.7h0M460.1 247h0M414.3 254.4h0M428.5 247.1h0M434.8 248.4h0M416.9 259.3h0M428.7 254.8h0M463.4 251h0M407.2 252.3h0M425.3 243.4h0M393.6 256.8h0M403.9 252.6h0M439.4 253.5h0M425.1 251.4h0M394.4 243.9h0M415.5 249.2h0M413.5 241.5h0M406.6 259.5h0M462.3 252.7h0M396.4 252.9h0M365.2 241h0M400.3 253.1h0M408.6 253.8h0M401.9 253.7h0M420.5 239.8h0M457.4 252.7h0M429.6 260.6h0M403.7 256.2h0M449.9 255.5h0M362.9 244.6h0M435.6 246.4h0M457.5 251.1h0M410.8 255.4h0M446.6 250.9h0M445.3 261.4h0M443.4 248.3h0M387.4 261h0M362.3 246.4h0M394.5 245.3h0M395.2 246.9h0M380.1 256.9h0M403.9 262.8h0M451.4 250.2h0M394.7 242.4h0M413.5 246.5h0M411.2 246h0M393.6 235.2h0M470.8 253.9h0M358.7 238.5h0M430.6 241.5h0M416.7 240h0M430.7 252.4h0M407.3 256.8h0M456.5 246.8h0M434.1 244h0M392.6 260.8h0M421.9 256.1h0M431.6 240.9h0M435.1 255.1h0M398.9 247.1h0M412.9 249.9h0M421.3 254.9h0M455.9 255.7h0M357.6 245.3h0M411.6 241.9h0M434.4 248.1h0M410.7 240.5h0M442.8 243.1h0M437.5 258.5h0M423.9 244.9h0M411.6 244.3h0M406.1 251.8h0M397.7 257h0M431.9 261.8h0M420.5 239.4h0M405.2 248.1h0M374.8 258.5h0M428.3 255.6h0M425.5 261h0M409 251.5h0M439.1 252.6h0M402.8 238.9h0M430.2 253.6h0M422.1 240.4h0M442.6 257.4h0M398.2 261.6h0M395.1 261.6h0M389.9 241.8h0M393.9 250.8h0M362.9 246.6h0M406.5 239.4h0M395.8 259.8h0M431.8 258.1h0M386.8 258.1h0M385.5 253.1h0M443.2 251.7h0M407 249.5h0M416 261.2h0M425.5 240.7h0M410.1 250.7h0M437.8 252.4h0M434.6 257h0M405 252.7h0M356.7 262.4h0M418.6 259h0M406.3 249.7h0M414.5 247.3h0M398.2 249.6h0M456.6 257h0M448.7 253.8h0M383 248.2h0M385.9 249.2h0M424.7 258.5h0M417.7 240.5h0M423.2 250.2h0M438.4 261.3h0M395.2 238.9h0M408.9 259.2h0M395.3 246.3h0M406.7 246.1h0M371.9 249.9h0M394.2 259.1h0M420 254.3h0M384.4 257.4h0M434.7 243.3h0M417.3 259.7h0M443.2 250h0M406.1 255.5h0M382.9 246.8h0M442.2 249.9h0M425.5 247.1h0M414.3 256.3h0M403.2 253h0M419.3 257h0M400.5 251.5h0M422.3 255.8h0M381 249.1h0M445.9 261.4h0M389.7 239.9h0M362.2 247.5h0M451.6 251.5h0M431.9 243.3h0M419.7 256.3h0M382.5 253.6h0M452.9 245.6h0M434.4 256.7h0M431.7 251.7h0M448 243.6h0M401.9 261.1h0M461 247.5h0M431.6 256.5h0M466.4 256.5h0M427.7 240.7h0M401.5 259.6h0M392.8 260.6h0M409 252h0M443.6 260.7h0M458.9 245.7h0M409.6 255h0M385.5 245.5h0M437.2 254.6h0M399.5 248.4h0M415.1 248.4h0M426.3 262.6h0M442.4 257.3h0M382 235.7h0M432.5 249.4h0M427.8 242.2h0M427.2 251.3h0M398.8 254.4h0M461.6 248.9h0M463.8 253.2h0M413 247.2h0M432.5 261.7h0M413.6 260.7h0M378.1 243.3h0M377.5 253.1h0M425.2 255.5h0M418.9 253.2h0M406 248h0M419.9 245.2h0M402.9 245.3h0M407.6 256.3h0M408.4 243.9h0M368.7 240.2h0M460.4 257.7h0M399.7 244.7h0M419.6 245.1h0M405.2 248.4h0M411.9 239.9h0M412.1 254.8h0M362.4 247.1h0M409.1 252.2h0M397.8 262.9h0M421.3 255h0M376.7 241.3h0M435.6 243.7h0M409.3 239.6h0M445 244.5h0M438.4 250.3h0M435.8 253h0M458.6 248.8h0M433.3 253.5h0M413.8 254.5h0M383.1 262.4h0M422.8 259.3h0M466 255.4h0M401.6 253.9h0M397.2 254.2h0M400.7 242.3h0M376.8 264h0M394.7 252.7h0M470.1 251.5h0M389.1 238.8h0M396.7 236.6h0M414.2 253.7h0M440.9 257.7h0M428.8 252.6h0M394 246.5h0M364 233.4h0M457.7 251.1h0M405.9 259.5h0M402.4 245.3h0M416.9 249.3h0M383.9 255.8h0M379.1 262h0M406.7 261.8h0M450.9 246.3h0M439.2 242.8h0M398.7 254.5h0M403.8 257.3h0M442.7 243h0M414.2 259.3h0M405 242h0M443.2 259.7h0M417.3 236.9h0M393.8 249.7h0M425.4 260.9h0M393.7 254.6h0M396.9 249.9h0M380.5 259.5h0M423.6 246.1h0M427.6 244.7h0M430.1 252.5h0M393.6 241.5h0M464.6 248.8h0M413 253.4h0M433.3 257.5h0M468.3 255.8h0M386.5 247.9h0M404.2 262h0M450.6 251.7h0M377.6 245.2h0M439.4 250.5h0M444.7 247h0M375.1 237.4h0M426.2 250.1h0M400.9 261.1h0M398.5 251.2h0M422.4 245.8h0M418.6 254.7h0M421.2 248.9h0M391.2 248.6h0M439.2 254.1h0M434.9 245.5h0M426.2 242.5h0M421.9 256.8h0M425.2 259.9h0M377.3 257h0M413.4 241.8h0M423.5 254.5h0M414.6 255.2h0M438.7 249.8h0M401 243.1h0M450.9 248.3h0M445.1 260.5h0M430.2 244.8h0M437.5 256.3h0M431.7 254.1h0M426.8 241.4h0M399.3 251.9h0M422.3 262.5h0M401.3 252.3h0M434.7 245h0M418.6 242.7h0M449.5 251.9h0M378.7 241.9h0M440.1 252.6h0M397.6 254h0M399.5 244.6h0M396.3 239.2h0M433 252h0M379.4 251.9h0M429.4 248.6h0M426.2 258.9h0M433 255.9h0M411.3 254.9h0M446.8 257h0M458.1 251.3h0M402.6 258.5h0M445 249.6h0M415.4 239.3h0M412.2 255.1h0M398 257h0M428.9 241.4h0M390.1 239.7h0M415.3 250h0M404.2 254.2h0M431.8 260.4h0M414.4 243.9h0M405.1 241h0M442.9 251h0M372 251h0M450 253.7h0M376.1 244.1h0M433 247.7h0M454 260.2h0M448.5 259.6h0M426.4 247.4h0M425.2 250h0M398.2 248.8h0M424.1 257.1h0M441.5 261.3h0M403.4 251.3h0M433.4 253.8h0M396.2 250.1h0M409.4 250.2h0M448.8 250.9h0M402.5 245.5h0M391.2 258.9h0M417.6 251.9h0M450.7 259.7h0M422.4 259.7h0M440.3 249.7h0M441.5 256.5h0M452.6 247.2h0M398.2 252.8h0M409.2 249.3h0M408.7 245.4h0M384.6 253.9h0M434.7 246.6h0M454.7 248.9h0M377.4 254.9h0M423.1 256.3h0M383.1 249.6h0M434.2 245.3h0M437.3 254.3h0M405.9 242.4h0M402.1 254.7h0M419.1 242.7h0M388.2 260.7h0M410.1 251.4h0M425.8 250.9h0M414.6 256.4h0M423.3 257.9h0M431 247.9h0M395.1 239.9h0M431.2 257.4h0M422.6 239.4h0M406.1 256.4h0M445.4 245.6h0M430.9 256.2h0M456.2 256.3h0M425.3 246.8h0M406.8 255.4h0M451.7 246.7h0M402.2 243.1h0M420.2 256.6h0M403.9 236.7h0M372.5 247.2h0M429.9 247.3h0M432.4 259.3h0M392.2 249.4h0M373.4 251.3h0M414.9 262h0M424.9 259.7h0M432 244.4h0M444.8 244.4h0M384.9 241.7h0M379.3 260.6h0M404.9 263.4h0M377 250h0M391.6 240.6h0M393.3 258.8h0M431.2 255.6h0M420.6 253.3h0M391.8 244.5h0M410.3 256.7h0M360.8 242.8h0M434 252.9h0M411.5 247.8h0M439.1 251.5h0M414.7 247.2h0M459.3 249.4h0M400.1 251.7h0M422.2 254.9h0M432 257.1h0M449.2 259.3h0M429.3 255.4h0M419.6 252.2h0M394.7 243.1h0M421.4 252h0M427 258.5h0M385.9 239h0M445 251.1h0M424.2 243.4h0M412.5 242.8h0M424.5 258.2h0M441.4 258.3h0M421.3 246.5h0M376.1 242h0M375 252.3h0M442.3 257.6h0M453.1 246.7h0M402.9 246.4h0M434.3 248.8h0M388.9 249.3h0M415.9 252.3h0M418.1 244.5h0M435.9 246.7h0M420.9 255.2h0M421.4 244.3h0M421 260.2h0M402.7 246.1h0M396 263.7h0M425 258.4h0M404.5 246.2h0M420.7 248.7h0M406.2 245.2h0M393.9 237.5h0M424.1 238.7h0M404.7 253.6h0M441.8 246.8h0M407.5 244h0M401.5 257.5h0M372.8 237.9h0M442.8 256.6h0M421.4 254.8h0M390.5 238.3h0M455.1 246.7h0M404.4 261.4h0M456.5 257.9h0M423.3 259.6h0M422.4 248h0M396.3 254.8h0M422.1 247.6h0M428.5 254h0M439.8 248.5h0M407.7 248.6h0M414.6 253.4h0M416.7 251h0M431.5 259.1h0M375.3 236.2h0M407.6 241.3h0M423.2 248.2h0M438.3 243.3h0M420.6 256.6h0M461.9 256.7h0M431.7 246.1h0M426.5 250.4h0M433.1 255.8h0M436.7 253.7h0M383.9 260.4h0M412.7 257.6h0M434.2 245h0M378.1 258.5h0M406 254.1h0M395.1 259.4h0M420.2 259.9h0M443 241.9h0M421.8 252.9h0M423 257.3h0M397.2 260.6h0M400.4 258.6h0M411.1 250.4h0M405.3 252.3h0M369.5 247.1h0M427.1 255.9h0M426.9 247.9h0M424.9 256.3h0M423.6 253.1h0M381.8 258h0M394.7 246.5h0M423.6 251.8h0M453.1 258.2h0M389.8 250.4h0M429 250.3h0M454.5 251.6h0M455.9 253.4h0M401.9 254.8h0M437.7 250.5h0M427.7 246.6h0M461.3 258.5h0M468.4 253.2h0M388.3 244.9h0M391.6 258.1h0M431.7 257.7h0M405.8 251.9h0M464.3 250.9h0M435.1 253h0M410 260h0M425.7 252.4h0M428.5 256.9h0M417.8 250.4h0M447.1 248.2h0M451.8 250.7h0M426.5 237.9h0M418.1 253.6h0M405.2 242.4h0M394.5 260.3h0M459.1 251.4h0M414.9 241.9h0M428.8 259.4h0M442.9 251.1h0M435.6 251.5h0M441.7 240.8h0M408.3 255.3h0M422.2 256.1h0M384.8 244.6h0M443.7 246.6h0M389.2 239.8h0M380.8 250.8h0M407.1 250.7h0M436 254.9h0M403.4 247.7h0M410.9 244.4h0M433.4 254.9h0M437.3 259.8h0M467.3 249.4h0M428 248.7h0M395.1 260.3h0M432.3 252.2h0M444.9 250.1h0M418.7 255.6h0M415 245.7h0M413.9 243.2h0M434.8 242.1h0M458.2 250.7h0M415.1 262.4h0M399.5 251.2h0M383.7 236.8h0M422.6 259.9h0M393.2 244.5h0M400.3 248.6h0M377 252.5h0M414.7 244.1h0M410.4 238.6h0M423.4 253.9h0M385.5 259.4h0M425.8 252.2h0M420.1 261.7h0M388.7 249.6h0M433.8 245h0M451.1 261.7h0M442.2 245.3h0M365.7 231.7h0M422.8 256.1h0M411.8 260.8h0M437.6 243.6h0M439.9 243.9h0M454.2 256.2h0M424.6 258.6h0M402.1 252.4h0M468.6 255.9h0M408.7 257.7h0M468.8 246.5h0M435.3 254.5h0M445.4 259.1h0M402 248.1h0M434.2 246.7h0M396.9 259.4h0M367.3 260.3h0M421.2 245h0M425.2 258.1h0M410.2 258.6h0M435.3 260.6h0M422 248.9h0M426.9 252.2h0M444.2 255.9h0M423.3 245.8h0M362 237.2h0M428.1 253.9h0M448.2 247.7h0M378.9 248.6h0M461.1 253.7h0M450.5 258.5h0M388.8 239.4h0M438.7 255.5h0M427.9 241.6h0M445.2 244.5h0M388.8 240.1h0M425 254.7h0M415.6 251h0M428 251.1h0M398.9 250.5h0M428.2 242.1h0M451.1 252.2h0M380.3 244.2h0M426.7 252.2h0M427.4 244.3h0M403.7 245.9h0M440.3 249.7h0M393 256.1h0M443.2 250.7h0M421.8 255.6h0M414.3 254.7h0M387.5 246h0M415.1 241.1h0M421.2 242.9h0M425.1 260.5h0M365 250.1h0M392.9 253.5h0M404.7 252.7h0M401.1 241h0M455.4 258.1h0M409.9 254.1h0M396.9 252.8h0M438.4 255.8h0M459.5 254.2h0M385.8 262.7h0M400.7 237.9h0M430 249.6h0M386.4 234h0M401.6 255.9h0M389.9 260.6h0M427.1 255.9h0M379.3 245.2h0M427.4 254.5h0M408.5 242.7h0M392.7 239h0M469 248.7h0M399.5 247.9h0M368.3 245.5h0M397.6 249.6h0M421.9 250.8h0M421.4 240.6h0M436.2 250.2h0M439.5 253.1h0M411.9 249.9h0M437.3 250.6h0M436.1 253.6h0M398.2 236.5h0M379.6 242.9h0M419.3 250.9h0M426.2 247.3h0M455.2 256.5h0M453 247.3h0M399.5 254.4h0M441.1 250.7h0M419.2 239.9h0M419.2 247.2h0M424.2 244.9h0M447.2 258.4h0M447.1 243.7h0M432.9 251.2h0M425.3 244.3h0M434.2 241.4h0M420.1 242.2h0M456.6 244.6h0M394.4 238.2h0M401.5 250.3h0M402.6 257.5h0M378.3 256.9h0M391.8 249.1h0M428.2 253.2h0M411.9 252.4h0M397.4 254.4h0M409 249.5h0M409.9 256.9h0M408.8 254.9h0M367 241.4h0M393.8 242.4h0M431.7 253.7h0M437 253.1h0M408.4 256.1h0M425 255.9h0M422.5 248.8h0M427.4 260.7h0M414 242.9h0M436.6 247.9h0M379.2 257.1h0M440.9 255.3h0M375.6 246.2h0M416.1 252.1h0M424.5 244.7h0M389.4 256.1h0M468 258h0M384.7 252.2h0M417.2 250.7h0M358.5 252.7h0M434.1 256.6h0M415.8 247.3h0M424.6 250.1h0M435.3 244.4h0M420.8 250h0M423.2 246.1h0M437.1 247.4h0M401.6 244.6h0M414.3 260.2h0M411.9 245.7h0M437.7 256.3h0M438.9 257.6h0M405.3 246.7h0M421.8 255.4h0M440 259.6h0M443 247.1h0M425.6 251h0M438.1 258h0M432.8 260.6h0M457.6 254.9h0M405.5 249.9h0M453.5 247.2h0M469.3 248.3h0M400.6 262.4h0M433.2 257.5h0M450.7 249.7h0M403.3 241.6h0M416.2 244.7h0M412.2 239.8h0M466.7 253.2h0M377.9 236.2h0M425.8 249.5h0M423.8 247.2h0M419.6 251.7h0M429.3 246.8h0M422.5 263.1h0M406.8 242.9h0M407.9 246.3h0M417.6 262.8h0M453.2 257.2h0M458.4 244.4h0M419.4 255.4h0M450.2 249.1h0M395.4 261.9h0M427.4 249.8h0M400.1 236.7h0M401.8 247.3h0M412.5 250.7h0M432.8 261.1h0M374.9 260.9h0M405.7 247.1h0M392.9 242.5h0M421.2 256.8h0M429.2 252.5h0M396.5 255.3h0M385.6 256.9h0M406.4 249.5h0M445.1 249.7h0M409.4 252.1h0M431.3 244.1h0M417.2 259.7h0M409.3 235.4h0M417.8 252.4h0M455.4 254.7h0M444.2 250.9h0M410.9 248.8h0M416 263.2h0M414.5 247.5h0M385.8 260.2h0M400.4 249.6h0M417.8 246.5h0M364.9 249.1h0M421.9 246.9h0M378.2 257.9h0M419 249.9h0M455.1 253.2h0M393.2 248.9h0M404.8 248.6h0M447.9 244.5h0M387.6 260.8h0M428.1 241.2h0M406.7 243.3h0M385 254.6h0M428.1 243.7h0M422.3 255.4h0M392 238.9h0M447.6 252.9h0M391.3 242.6h0M422.1 254.3h0M423.1 258.3h0M427.4 251.2h0M413 256.2h0M438.9 249.5h0M387.3 243.4h0M362.6 244.6h0M406.3 248h0M437.6 251.4h0M385 246.7h0M411.8 245.8h0M460.4 255.8h0M405.4 240.9h0M409.7 250h0M470.5 250.4h0M443.3 249.4h0M421 249.9h0M428.1 250.7h0M448.9 250.4h0M437.4 260h0M463.3 252.6h0M414.2 239.6h0M458.5 253.7h0M433.6 255.4h0M417.4 244.6h0M420.7 246.8h0M399.8 241.4h0M434.5 252h0M378.5 243.5h0M464.8 255.2h0M409.1 248.2h0M447.5 251.4h0M447.2 250.6h0M430.8 249.4h0M409.7 241.5h0M432.7 255.1h0M469.4 252.7h0M426.8 260.9h0M405.2 242.9h0M408.1 245.1h0M375.9 237.3h0M418.8 247.9h0M369.9 238.2h0M408.8 252.1h0M424.6 255.4h0M408.7 247.6h0M410.3 248.2h0M389.5 248.6h0M423.9 241.5h0M418.9 254.9h0M440.1 248.5h0M398.3 249.8h0M407.1 251.6h0M405.2 255.9h0M431.2 248.1h0M361.2 239.5h0M412 249.4h0M383.4 258.9h0M386.1 247.2h0M406.8 239.6h0M383.1 251.5h0M455.1 254.2h0M399.7 249.5h0M407.5 254.3h0M432.7 256.5h0M438.7 253h0M411.9 237.9h0M401.1 239.8h0M419.1 245.9h0M403.4 261.1h0M393.7 257.8h0M396.3 258.2h0M435.4 243h0M443.9 250.9h0M392.6 254.6h0M454 249h0M375.1 251.7h0M361.4 252.3h0M422 259.4h0M405.4 242.9h0M425.4 253.1h0M378.2 261.4h0M405.4 240.5h0M436.3 251.9h0M443.2 248.5h0M416.8 260.6h0M413.2 262.5h0M413 256.5h0M431.1 256.2h0M440.7 260.3h0M398.7 260.6h0M393 236.9h0M426.1 247.6h0M448 256.7h0M397.2 256.1h0M432.8 253.8h0M410 252h0M447 248.3h0M466.1 255.9h0M417 245.6h0M440.1 242.6h0M415.4 238.2h0M438 257.1h0M420.6 261.1h0M390.7 251.4h0M401.9 257.9h0M434.1 258.4h0M415 244.5h0M378.2 238.4h0M413.5 258.5h0M397.8 244.3h0M439.5 242.8h0M407 261.7h0M416.6 251.5h0M439.9 253.4h0M397.3 257h0M385 245.9h0M440 244.7h0M416.3 246.4h0M400.6 247.1h0M395.3 237.6h0M451.6 258.5h0M430.8 254.4h0M403.1 242.8h0M427.1 250.5h0M421.5 243h0M386.1 244.9h0M419.8 252.5h0M415.5 261.2h0M415.7 260.7h0M436.6 261.5h0M399.2 241.3h0M372.8 252.9h0M386.6 254.5h0M447.9 260.7h0M443.6 254.7h0M402.8 247.4h0M366 244.7h0M416.8 246.5h0M406.2 250.4h0M410.7 243.9h0M434.6 244.3h0M442.4 254h0M412.7 254.1h0M407.8 243.8h0M460.5 249.7h0M455 245.2h0M382 252.3h0M462 254h0M421.8 256.1h0M374.9 242.6h0M430.9 242.1h0M432.4 261.6h0M403 243.6h0M410.6 262.1h0M397.2 241.6h0M433.4 245.9h0M415.3 240h0M395 259.3h0M423.2 255h0M449.2 253.3h0M430.1 254.1h0M373.5 255.3h0M432 261.9h0M405.8 252.1h0M372.6 230.2h0M406.5 242.1h0M462.4 253.6h0M387.5 258.6h0M413.3 263h0M403.9 251.3h0M430.2 251.5h0M405.3 251.4h0M422.5 253.5h0M372.1 235.3h0M417.5 257h0M405.1 254.2h0M469 257.4h0M423.2 254.9h0M361 247.7h0M444.2 254h0M414.1 257.8h0M385.6 246.5h0M390.3 239.9h0M451.5 250.5h0M402.6 250.6h0M406.4 253.2h0M423.9 246.4h0M385.6 250.5h0M374.8 249.3h0M399.9 244.9h0M418.9 246.7h0M424.9 249h0M405.4 247h0M420.2 257.6h0M406 238.8h0M412.2 246h0M428 252h0M403.5 239h0M414.9 251.1h0M438.8 253.9h0M376.8 230.3h0M379 249.9h0M433.1 249.8h0M378.5 244.8h0M396.6 253.3h0M409.5 256.4h0M430.3 250.1h0M425.4 253.1h0M364.4 235.3h0M438.6 257.3h0M431 262.2h0M436.4 249h0M395.8 259.9h0M423.2 261.1h0M432.5 256.4h0M429 242.3h0M429.7 241.5h0M426.1 261.5h0M394.1 260.3h0M405.3 245.3h0M426.1 253.7h0M425.8 241.9h0M436.7 246.4h0M442 247.6h0M373.3 262.6h0M459.2 251h0M420.1 257h0M420.9 241.5h0M401.7 251.5h0M416.6 255.2h0M383.3 256.1h0M417.5 254.2h0M414.5 241.9h0M403.4 238.7h0M453.8 259.9h0M435.5 253.4h0M412 255h0M430.4 262h0M397.3 242.4h0M425.8 251.3h0M405.4 242.8h0M384.6 245.6h0M409.9 241.9h0M407.9 254.4h0M439.1 254.4h0M430.6 247.4h0M410.8 241.7h0M431.5 248.4h0M447.1 254h0M372.7 237.9h0M407.4 240.6h0M389.4 242.2h0M425.5 255.5h0M414.3 260.3h0M384.4 246.3h0M420.9 241.7h0M419 261.9h0M421.9 242.1h0M378.3 256.3h0M456.6 252.1h0M370.1 247.6h0M428.2 245.8h0M437.2 247.3h0M371.5 240.7h0M411.4 262.4h0M366.9 250h0M379 247.4h0M449 253.5h0M441.3 257.1h0M404.9 246.3h0M396.7 254.5h0M396.4 249.8h0M443.7 256.7h0M413.4 259.9h0M407.4 262.9h0M408.4 246.3h0M466.8 253.4h0M406.9 247.7h0M447.4 244.4h0M400.7 261.5h0M394.3 248.6h0M371.3 234.3h0M429 254.1h0M416.9 253.1h0M467.3 251.4h0M414.5 237.5h0M427.7 259.4h0M436.3 249.9h0M410.5 255.1h0M426.2 246.5h0M423.4 256.7h0M378.6 250.2h0M375.7 252.2h0M378.3 235.6h0M406.5 238.2h0M392.3 239h0M427.5 239.7h0M423.2 242h0M394.2 248.5h0M447.8 245h0M396.9 243.4h0M392.1 252.6h0M415.6 240.4h0M405.5 254.6h0M382 245.1h0M408.2 237.9h0M458.3 244.4h0M406.4 254.1h0M421.1 242.7h0M405.9 249h0M386.4 249.1h0M430.5 241.3h0M427.8 256.9h0M409.4 240.3h0M437 255.3h0M405.3 263.4h0M432.1 248.7h0M454.6 260h0M385.7 246.7h0M435.7 257.3h0M384.1 256.4h0M453 254.4h0M381.9 256.8h0M440.8 245.3h0M414 257.6h0M423.5 243.3h0M417.2 251.8h0M392.3 255.2h0M444.8 253h0M381.2 244.1h0M430.5 246.5h0M445.9 252.7h0M455.4 251.7h0M368.4 245.7h0M388.9 262.1h0M438.1 248.8h0M413.3 257.1h0M423.3 242h0M441.4 247.7h0M421.9 250.7h0M440.7 253.7h0M428.7 247.4h0M439.9 244.8h0M416.9 242.4h0M375 244.9h0M418.8 243.4h0M428.1 253.2h0M435 261.1h0M410.7 253h0M411.1 238.8h0M457.6 257.5h0M385.1 256.7h0M409.6 238.7h0M408.3 257.1h0M437.3 253.3h0M436 259.8h0M357.8 243.3h0M450.9 255.1h0M407.9 237.7h0M426 261.8h0M414.6 243.2h0M377.9 250.7h0M422.9 259.6h0M425.2 246.3h0M428.5 244h0M356.3 263.9h0M385.9 250.8h0M407.8 257.1h0M438.2 245.7h0M398.9 260.7h0M378.2 237.8h0M448.4 259.5h0M449.4 244.1h0M424.3 250.9h0M408.4 247.9h0M419.6 257.3h0M417.9 255.2h0M420.6 260.2h0M441.5 254.3h0M409.1 256h0M377.2 253.1h0M401.6 248.2h0M414.1 245.2h0M446.3 251.2h0M425.7 241.3h0M406.4 241h0M423.1 253.6h0M413 256h0M387.1 241.2h0M453.7 245.8h0M424.2 251h0M458.3 252.3h0M393.3 248h0M441.1 243.5h0M425.8 244.4h0M421.4 239h0M435.4 243.7h0M459.6 250.5h0M396.7 246.8h0M458.2 251.4h0M364.4 247.3h0M401.1 249.3h0M425.9 249h0M427.7 246.6h0M396.1 254.1h0M427.3 262.5h0M428 260.1h0M457 255.1h0M446.4 260.1h0M436.7 245h0M414.1 245.6h0M415.5 249h0M440.1 258.7h0M431.9 258.4h0M430.6 251.3h0M399.2 241h0M406.6 250.4h0M427.1 252.2h0M402.7 255.9h0M436.5 258.8h0M393.7 244.3h0M422.7 262.5h0M417.3 252.9h0M417.7 247.2h0M426.4 249.7h0M363.5 238.7h0M406.1 255.2h0M414.2 239.3h0M454.7 247h0M414.2 255.2h0M440.9 247.4h0M429.1 251.3h0M463.1 257.5h0M429.1 252.2h0M363.9 262.7h0M436.7 251.9h0M467.9 249.3h0M418.6 245.9h0M453.7 247.4h0M413.5 240.2h0M395.3 234.3h0M390.8 242h0M410.1 255.1h0M378.5 262.6h0M412 246.6h0M384.3 261.4h0M391.1 242.3h0M392.3 244.7h0M397.9 250.4h0M440.1 260.4h0M433.3 250.1h0M421.6 254.7h0M372.9 263.1h0M432.7 258.5h0M400.2 260.4h0M419.9 246.9h0M424.8 246h0M444.6 250.7h0M450.2 249.8h0M389.7 259h0M459.5 247h0M423.3 263h0M431.5 243.3h0M412.1 246.9h0M432.6 254.8h0M384.5 242h0M470.7 250.8h0M428.3 258.1h0M443.6 249.5h0M399.4 238.6h0M411.5 257h0M387 253.1h0M402.2 245.4h0M425.2 261.8h0M380 237.3h0M419.5 239.8h0M448.7 254.5h0M416.7 247.2h0M440.5 254.2h0M373.8 242.5h0M411.9 239.4h0M402.5 244.2h0M421.8 251.3h0M423.4 236.9h0M448.4 246.3h0M427.5 247.2h0M435 257.1h0M380 246h0M440.8 245.8h0M436.3 250.5h0M383.1 253.9h0M437.6 256.1h0M415.3 249.8h0M461.6 246.2h0M459.6 253.6h0M415.9 249.2h0M421.4 259.8h0M446.1 257.2h0M420.7 256.6h0M434.8 258.6h0M411.1 253.9h0M383.2 236.5h0M396.5 253.8h0M446.8 254.1h0M404.7 260.8h0M391.3 253.6h0M413.2 246.6h0M425.3 257.1h0M436.5 241.9h0M426.7 251.3h0M427.5 249.4h0M409.7 242.5h0M453.6 250.1h0M411.8 241.9h0M356.8 256.4h0M356.4 240.1h0M378.6 264.1h0M417.1 250.1h0M423 243h0M438.8 250.1h0M453.2 253.8h0M416.8 244.8h0M440.7 252.5h0M397.7 253.1h0M466.5 250h0M406.2 263h0M391.4 261.8h0M464.6 247.9h0M446.7 254.4h0M373.7 242.1h0M447.9 257.4h0M447.9 260.9h0M365 250.4h0M391.7 251h0M372.4 245.3h0M436.8 259h0M439.4 243.8h0M435.9 256.6h0M410.8 248.1h0M445.7 250.5h0M370 236.9h0M427.2 243.1h0M442.7 251.4h0M384.4 248.3h0M417.7 259.7h0M402.8 243.6h0M412.8 259h0M444.7 256.6h0M372.7 258.3h0M394.8 243.7h0M407.4 238.7h0M456 247.7h0M409.3 257.3h0M400.9 244.4h0M414.4 254.5h0M428.5 251.1h0M364.8 260h0M394.5 257.5h0M427.6 258.9h0M407.2 259.7h0M377.9 246.8h0M431.6 247.6h0M447.6 255.8h0M415.2 248h0M401.7 249.7h0M402.8 247h0M426 243.5h0M410.2 240.6h0M405.8 246.9h0M434.1 257.5h0M455 246.6h0M463.7 256.6h0M404.1 247.9h0M421.5 252.7h0M413.6 247h0M460.7 250.1h0M447.6 258h0M415.3 248.1h0M406.7 254h0M405.3 238.2h0M407.4 247.7h0M398.7 249.1h0M430.3 255.6h0M375.6 254.4h0M409.3 259h0M385.2 248.7h0M437.5 252.9h0M367.7 236.8h0M423.1 245.8h0M412.5 253.2h0M392.3 248.3h0M395.8 252.7h0M422.2 257.5h0M404 256.9h0M440.6 248.6h0M416.3 243.1h0M403.6 240.8h0M387.9 242.3h0M419.7 258.5h0M366.7 242.4h0M409.1 250.3h0M421.3 246.8h0M391.6 255h0M405.4 250.8h0M368.7 260.6h0M420.7 257.1h0M397.5 250.4h0M392.9 250.8h0M397.8 245.2h0M363.8 239.4h0M415.5 260.5h0M409.6 251.1h0M434 251.2h0M394.5 238.3h0M447.1 249h0M413.7 255h0M421.7 252.4h0M389.9 257.7h0M409.2 258.7h0M396.8 259.4h0M397.1 246.7h0M408.5 249.8h0M419.2 246.3h0M420.2 256.3h0M437.4 255.6h0M397.9 256.8h0M423.4 257.9h0M397.3 251.7h0M446.5 242.9h0M381.3 249.4h0M433.4 257.6h0M437.8 259.2h0M396.6 240.2h0M391.8 242.5h0M384.6 256.2h0M450.6 253.7h0M420 245.2h0M406.9 255.3h0M416.7 242.9h0M402.6 254.2h0M436.6 255.9h0M418.9 256.3h0M445.3 256.5h0M444.4 252h0M437.3 241.1h0M419 251.3h0M407.5 261.2h0M427.3 246.7h0M365.8 237h0M381.1 239.5h0M367.3 262.1h0M419 245.1h0M430 254.7h0M437.8 253.2h0M372.3 240.2h0M430.6 250.3h0M427.5 257.8h0M383.4 240.1h0M401.4 252.5h0M409.8 243h0M393.3 240.6h0M437.2 253.8h0M384 251.5h0M429.6 252.3h0M446.1 245.1h0M437.4 257.2h0M435 245.2h0M406.3 246.6h0M399.2 244.4h0M455.7 251.8h0M392.7 256.9h0M437.3 256.3h0M458.2 247.3h0M404.6 262.4h0M416.7 240.5h0M415.7 258.1h0M423.9 257.1h0M399.3 260.7h0M434.4 257.5h0M444.5 248.9h0M409.8 259.6h0M432.9 242h0M390.1 255.8h0M405.7 247.4h0M448 248.1h0M379.2 247.9h0M416.4 253.1h0M458.7 256.3h0M449.5 258h0M434.4 251.5h0M403.7 251h0M414.7 252h0M414.7 255.2h0M417.3 250.5h0M411.5 253.5h0M409.5 243.9h0M416.3 248.8h0M422.5 245.6h0M401.7 238.5h0M433.2 261.3h0M449.2 254.8h0M407 260.1h0M411.4 252.9h0M386.9 259.7h0M394.6 243h0M392.8 251.2h0M405.5 242.1h0M420.1 249.8h0M431.9 248.1h0M444.7 251.5h0M448.3 245.3h0M408.1 246.9h0M425.2 256.2h0M384.3 263.6h0M444.1 247.1h0M386.1 237.6h0M405 255.9h0M425 243.5h0M382.2 240.6h0M422.9 254.9h0M412.7 252h0M420.2 249.2h0M408.1 249.6h0M438.8 246.7h0M437 254.9h0M456.3 259.1h0M452 253.4h0M416.7 252.4h0M437.2 247.5h0M423.2 251.9h0M404.6 240h0M412.1 237.4h0M402.7 249.7h0M419.8 250.6h0M394.9 245.2h0M428.7 251.2h0M441.9 253h0M397.6 245.8h0M434.8 257.6h0M411.8 260.4h0M438.8 254.5h0M432.8 262.5h0M444 254h0M386 258.4h0M389.4 240.4h0M404.8 239h0M385.6 253.6h0M397.2 251.8h0M419.2 254.9h0M397.3 244.1h0M434.8 253.7h0M372 239.2h0M414.2 254.2h0M400.5 253.6h0M426.6 261.3h0M411.4 255.4h0M462.2 252.2h0M408.9 246.7h0M401.9 251.9h0M448.3 252.5h0M432.8 251.8h0M415.5 249.1h0M400.4 249.5h0M439.5 261.5h0M427.7 251.8h0M436.5 253.8h0M399.9 241.3h0M441.9 252.8h0M433.5 254.5h0M419.7 255.2h0M444.2 252.9h0M421.7 247h0M401.4 252.7h0M428.7 259.3h0M387.3 243.5h0M407 236.2h0M442.5 254.8h0M445.2 244.5h0M434.1 248.2h0M387.8 244.3h0M381.5 259.2h0M394.6 247.6h0M406.3 249h0M386 236.3h0M384.2 253.8h0M420.5 248.7h0M453.4 248.4h0M453.6 254h0M462.1 248.1h0M406.5 243.8h0M433.4 248.2h0M419.7 249.6h0M433.4 257.7h0M379.7 232.4h0M399.5 253.6h0M402.1 241.5h0M394.6 251.8h0M412.5 245.8h0M389.6 245.2h0M431.4 257.7h0M390.4 231.8h0M431.2 257.5h0M405.7 261.9h0M434.1 241.9h0M430.5 245.7h0M412.2 250.4h0M428.9 259.2h0M430.2 258.2h0M422.9 258.1h0M411.8 246.4h0M409.6 255.9h0M418.6 252.9h0M379.9 238.9h0M428.6 250.8h0M423.5 251.3h0M425.6 250.5h0M391.3 248.4h0M406.1 248.7h0M402.2 256.7h0M406.6 246.9h0M423.5 251.7h0M379.7 234.7h0M459.9 256.6h0M427.3 238.6h0M415.9 257.6h0M392.4 257.1h0M432.7 255h0M450 249h0M411.3 240.9h0M410.9 247.7h0M399.4 257.3h0M415.5 244h0M397.4 243.7h0M431.6 253.5h0M430 251.2h0M414.6 251.2h0M399.4 245.4h0M434.2 250.6h0M424.3 244.7h0M413.8 252.9h0M434.3 253h0M451.6 252.6h0M418.5 253.1h0M420.4 244.9h0M401.8 244h0M421.3 260.2h0M415.4 260.6h0M407.3 244.6h0M411.7 250.2h0M430.2 249.5h0M389.1 245.3h0M421.7 256.2h0M392.8 239.6h0M407 239h0M421.9 247h0M452.9 253.2h0M408.8 261.1h0M426.3 261h0M439.4 246.3h0M370.1 236.1h0M417.5 257.2h0M436.3 257.5h0M440.7 256.9h0M416.1 250.7h0M361.8 241.3h0M448.1 255.8h0M369.9 249h0M423.6 246.2h0M445.9 249.7h0M430.4 261.3h0M467.1 251h0M407 255.8h0M401.5 247.2h0M431.7 254.5h0M377.1 239.8h0M432.4 253.8h0M439.6 244.2h0M408 247.2h0M406.7 245.3h0M425.2 241.6h0M422.6 240.9h0M395.9 248.4h0M450.6 257h0M467.3 255.1h0M368.6 233.9h0M451.4 248.7h0M403 246.1h0M406.6 240.2h0M392.8 249.1h0M456.4 252.4h0M434.9 260.2h0M388.4 250.9h0M440.3 258h0M454.4 259h0M397.7 248.4h0M404.7 239.6h0M396.2 244.4h0M381.9 259.2h0M427.5 248.8h0M393.6 241.8h0M417.8 259.2h0M399.4 248.2h0M431.9 257.3h0M382.1 239.2h0M447.6 249.3h0M412 244.1h0M387.4 246.2h0M420.1 248.4h0M401.7 261.9h0M417.7 262h0M415 239.4h0M409.8 255.9h0M443.9 257.9h0M412.9 249.8h0M394.2 258.8h0M447 245.9h0M419.5 246.7h0M438.4 253.2h0M418.9 257.6h0M426.8 254h0M363.3 242.3h0M418.6 242.4h0M429.8 250.7h0M397 250h0M422.6 257.4h0M415 243.9h0M391.6 263h0M450.7 260.1h0M381.5 253.5h0M456.2 257.9h0M405.9 250.4h0M409.7 255h0M448.8 247.2h0M425.3 252.8h0M433.2 255.8h0M398.1 242.7h0M421.9 259.3h0M442.5 251.1h0M383.7 246.2h0M406.4 246.3h0M376 255.4h0M409.9 252.6h0M408.8 249h0M436.3 249.5h0M419.3 244.7h0M416.9 251.8h0M429.9 240.9h0M455.3 252.8h0M359.9 260.7h0M441.5 245.2h0M413 257.7h0M388 255.1h0M396.1 257.1h0M408.1 237.4h0M434.4 250.7h0M445.6 249.8h0M418.1 248.2h0M431 251.1h0M394.5 255.1h0M426.2 245h0M413.3 256.6h0M384.3 243.6h0M428.8 256h0M427.9 244.5h0M459 252.6h0M422.4 246.9h0M397.3 260.4h0M464.5 254.4h0M387.5 246h0M466.8 258.7h0M440.3 258.4h0M401.8 243.8h0M415.9 244h0M424.8 249.6h0M392 236.2h0M427.8 245.8h0M433.2 242.1h0M382.3 246.2h0M451.5 250.5h0M425.2 262.3h0M420.3 242.1h0M412.6 244.7h0M449.7 250.6h0M379.5 240.6h0M447.8 249.9h0M409.8 250.4h0M412.7 261h0M454 247.2h0M398 245.5h0M419 253.4h0M399.7 239.2h0M414.1 247.6h0M397.5 240.2h0M358.5 247.7h0M409.3 244.2h0M417.9 256.7h0M433.8 250.5h0M399.7 241.1h0M403.8 259.3h0M401.6 248.2h0M427.7 251.6h0M439.1 252.4h0M445.6 260h0M378.4 255.2h0M417.2 259.9h0M445.2 256.7h0M454.4 240.8h0M428.9 249.8h0M377 248.2h0M372.9 246h0M435.5 258.1h0M433.4 244.9h0M407.7 258h0M445.2 260.7h0M415.6 246.2h0M404.8 248.7h0M433.8 247.2h0M413.2 240h0M412.8 250.2h0M392.2 246.4h0M449.6 257.2h0M408.4 242.4h0M440 248.6h0M422 259.8h0M422.9 258.5h0M387 248.1h0M419.7 240.2h0M395.5 249.4h0M415.1 238.5h0M378.4 260.1h0M390 262.3h0M436.5 247.7h0M443.8 251.1h0M421.2 250.2h0M393.7 252.4h0M465.3 252.6h0M439.1 257h0M414.3 245.3h0M409.7 243.7h0M442.2 246.3h0M379.1 255.2h0M450.2 250.5h0M438.5 251.6h0M409.6 240.8h0M395.8 244.5h0M421 244.5h0M430.8 251.5h0M404.5 257.9h0M427.7 240.1h0M409.2 243.7h0M436.1 247.5h0M419.5 244.8h0M384.4 258.6h0M422.8 248.1h0M401 260.1h0M424.7 247.3h0M448.1 243.2h0M437.8 249.7h0M453.3 249.9h0M392.5 259.9h0M411.3 257.9h0M429.3 245.2h0M454.3 248.2h0M416.8 262h0M442.5 254.5h0M419.1 262.1h0M397.8 238.4h0M415 249.1h0M431.4 247.1h0M361.5 243.1h0M396.8 243.2h0M454.7 253h0M455.5 248.6h0M359.2 241.8h0M403.6 248.5h0M462.5 248.9h0M429.7 245.9h0M387.5 261.3h0M388.2 256.3h0M460.6 251.4h0M441.3 248.4h0M381.1 252.3h0M423.4 248.8h0M425.4 249.2h0M415.1 247h0M443.3 259.5h0M376.4 248.8h0M389.4 248.5h0M457 253.2h0M443.3 251.8h0M455.4 252.4h0M445.8 254.3h0M414.7 244.2h0M428.8 252.1h0M427.8 249.1h0M399.4 253.9h0M403.4 257.7h0M428.2 251.1h0M457.9 247.4h0M373.1 244.9h0M400.9 250.7h0M458.4 257.7h0M407.2 258.2h0M409.7 254.7h0M454.7 249.1h0M398.9 249.5h0M409.1 255.9h0M441.8 262.5h0M395.2 248.6h0M452.8 253.5h0M402.1 246.5h0M427.7 255.2h0M413.4 257.9h0M420.9 248.5h0M390.8 239.6h0M403.8 258.5h0M451.9 259.4h0M413.9 256.9h0M412.5 250.5h0M416.3 248.1h0M403.2 256.4h0M430.7 253.9h0M411.8 242.3h0M434.5 248.3h0M395.1 238.8h0M407.1 249.9h0M429.4 246.7h0M395.9 251.2h0M389.9 245.1h0M437.6 253.7h0M456.9 246.8h0M431.9 241.8h0M450.7 250.7h0M418.5 254.1h0M449.3 250.4h0M418 237.2h0M416.7 253.5h0M457.9 254h0M365.7 248.2h0M416 249.2h0M369.9 236.1h0M419.5 247.9h0M461.9 250.4h0M414 245.4h0M374.9 255.3h0M413 243.2h0M400.5 242.7h0M432.6 250.1h0M403.1 259.4h0M422.7 241.6h0M413.1 240.1h0M386.5 258.3h0M386.9 263.4h0M407.5 260.1h0M381.3 239.9h0M448.4 250.3h0M371 248.6h0M428 261.4h0M448.1 250h0M429.2 259.5h0M406.4 249.5h0M446.7 258h0M456.9 253.7h0M370.6 247.6h0M415.4 250.1h0M429.3 243.4h0M396.5 253.2h0M455 245.2h0M411.5 256.3h0M425.3 250.4h0M374.1 246.2h0M436.3 254.3h0M436.4 242.9h0M418.8 246h0M465.5 253.4h0M432.4 255.5h0M428.4 243.3h0M431.4 250.4h0M399.8 252h0M467.3 250.3h0M410.2 248.3h0M441.5 254h0M399.5 244.3h0M432.3 247.6h0M411.9 242.4h0M410.6 242.2h0M424.3 254.7h0M403.5 249.4h0M392.3 252.3h0M408.9 257.6h0M445.7 255.8h0M410.7 253.6h0M411.2 256.4h0M377.9 234.3h0M387.4 259.3h0M436.9 249.1h0M446.4 258.4h0M424.7 246.6h0M413.8 243h0M385.2 260h0M418.9 249.4h0M451 248.3h0M429.1 248.1h0M419.4 250.6h0M440.2 248.4h0M410.1 250.4h0M398.5 256.9h0M403.5 261.6h0M401.4 248h0M422.6 258.5h0M422.1 252.5h0M413.7 254.3h0M394.5 261.7h0M405 241.9h0M366.2 263.4h0M458.4 257.4h0M451.5 255.4h0M425 254.2h0M383.3 251.8h0M406.2 245.6h0M446.2 252.8h0M381.2 249.4h0M420.7 243.6h0M399.7 237.9h0M405 243.4h0M421.8 259h0M442.8 252.6h0M409.6 254h0M375.5 242.3h0M408 251.8h0M417.4 259.8h0M457.6 248h0M441.6 249h0M384.1 251.5h0M422 256.5h0M409.4 256h0M395 253.9h0M451.9 251.5h0M386.2 260.8h0M374.2 238.8h0M440.5 255.6h0M396.9 261.4h0M423.7 255.8h0M387.7 253h0M415.3 255.2h0M409.8 261.5h0M394.2 254.2h0M452.4 246.2h0M409.8 253.5h0M391.2 237.6h0M447.5 252.2h0M417.5 244.4h0M372.3 260.2h0M419.9 243.3h0M423.2 247h0M413.8 259.9h0M441.6 246.5h0M406.1 253.9h0M393.7 244.2h0M409.9 236.7h0M416.8 244.2h0M455.4 255.3h0M409.2 245.4h0M393.8 253.8h0M405.7 249h0M436.4 259.4h0M384.6 260.8h0M394.5 253.8h0M390.7 251.5h0M434.4 261h0M466 252.5h0M422.7 258.5h0M393.9 254.7h0M399.8 248.3h0M405 244.7h0M415.1 251.8h0M425.3 258.4h0M434.9 243.7h0M393.8 240.6h0M403.2 250.4h0M390.6 251.3h0M420.9 256.6h0M433.4 246.2h0M387.6 259.3h0M420.4 252.8h0M421.9 257.4h0M426.1 238.2h0M374.9 258.5h0M446.5 259.7h0M390.6 259.3h0M417.3 251.4h0M412.1 260.2h0M418 262.4h0M433.8 242.7h0M411.6 256.2h0M441.1 245.3h0M407.3 244.8h0M391.9 258.6h0M404.6 258.5h0M462.1 248.3h0M386 239.6h0M438.3 243h0M430.6 259.4h0M387.3 245.7h0M405.1 240.2h0M395.1 241.6h0M447.4 258.9h0M419.5 246.3h0M384.1 236.1h0M470.7 246.5h0M402.3 253.6h0M453.5 247.9h0M438.6 256.6h0M415.4 243.8h0M455.1 245.9h0M453.7 254.3h0M405.1 244h0M386.3 243.9h0M422.4 242.6h0M408.3 253.6h0M402.7 243.6h0M411.9 261.2h0M447.1 253h0M405.3 258.6h0M379.6 246.2h0M427.5 253.9h0M426.6 243.4h0M390 251.9h0M383.2 256.3h0M422 250.8h0M410.4 249.8h0M450.9 259.3h0M417.8 258.1h0M395.8 260.4h0M385.2 235.4h0M422.2 252.5h0M443.7 245.5h0M399.3 239.9h0M381.3 237h0M389.8 241.9h0M392.7 252.3h0M418.6 246.2h0M377.1 247.3h0M422.6 255.6h0M379.1 255.4h0M421.4 263.1h0M414.6 252.8h0M399 251.6h0M405.9 251.1h0M415.5 251.8h0M423.4 257.1h0M396.1 247.8h0M413.5 243.3h0M415.6 242.9h0M435.7 259h0M406.8 243.9h0M389.3 238.2h0M421.2 256.2h0M402 245.6h0M368.5 238.3h0M452.2 259.7h0M424.8 248.8h0M372.9 252h0M437.2 252.3h0M436.4 257.6h0M400.5 255.3h0M425 262.9h0M402 244.4h0M409.9 257.6h0M467 252.4h0M434.6 247h0M417.9 255.4h0M426 250.3h0M421.6 251h0M365.7 262.4h0M429.7 248.7h0M389.7 235.7h0M416.6 248.8h0M437.3 261.9h0M433.8 246h0M403.2 243.8h0M466.7 251.8h0M398.6 251.8h0M405.6 239.5h0M415.6 244.9h0M433.5 243.8h0M433.1 255.7h0M435.5 240.7h0M444 253.4h0M395.8 263.3h0M409.3 240.6h0M401.3 255h0M444.2 253.2h0M419 258.5h0M441.8 246.2h0M436.6 246.8h0M424 240.2h0M390.6 261.4h0M459.9 250.1h0M417.6 255.7h0M447.2 242.2h0M389.2 252.8h0M403.1 253.8h0M394.1 255.7h0M412.1 258.5h0M397.6 238.4h0M419 245.6h0M426 253.8h0M401.7 241.3h0M416.6 245.8h0M377.4 240.1h0M402.2 257.3h0M426.3 243.9h0M403.6 260.2h0M407.8 255.5h0M419.1 247.5h0M436.9 245.6h0M433.6 245.4h0M428.8 245.3h0M422.2 254.4h0M412.3 254.1h0M438.9 246.6h0M445.8 256.6h0M460.8 256h0M430.2 257.3h0M436.7 245.4h0M391.8 251.3h0M409.9 257.5h0M401.4 244.2h0M420.5 257.2h0M403 246h0M412.7 249h0M402.5 259h0M442.3 260.9h0M382.7 250.7h0M436.8 254.1h0M380.6 241.8h0M385 258h0M422 247.7h0M423.3 251.5h0M457.4 243.6h0M413.5 254.8h0M430.8 248.2h0M408.7 260.9h0M399.8 247.2h0M408.3 239.1h0M456.9 245.4h0M414.5 243.1h0M408.9 239.3h0M421.2 247.3h0M421 255.5h0M386.4 251.2h0M440.1 252.4h0M428.7 244.5h0M446.6 258.5h0M439.1 249h0M466.2 254.5h0M438.9 244.2h0M419.2 251.9h0M462.6 250.4h0M403.6 247.9h0M400.4 261h0M443 252.4h0M386.3 250.6h0M458.5 254.6h0M423.2 245.5h0M376.6 259.2h0M372.6 247.5h0M412.4 248.2h0M396 234h0M440.1 245.3h0M377.8 261h0M423.8 254.2h0M445.5 261.2h0M432 244h0M400.6 250h0M431.6 252h0M404.2 245.2h0M382.7 259.9h0M427.3 243.8h0M439.2 250.7h0M399.6 253.2h0M397.8 242.9h0M413.9 254.2h0M381.8 245.7h0M440.7 254.7h0M463.1 251.5h0M426.5 256.4h0M395.2 236h0M373.2 258.1h0M423.3 247.2h0M383.1 253.7h0M386.1 241.5h0M425.7 254.2h0M452.4 249.6h0M376 243.6h0M444.9 250.5h0M387 260.7h0M433.2 249.7h0M367.4 255.1h0M421.5 244.9h0M428.2 255.1h0M373 263h0M424.4 248.9h0M410 252h0M455.2 257h0M468.8 251.4h0M426.8 259.8h0M411.8 254.3h0M365.9 242.1h0M404.1 260.9h0M417.4 261.6h0M399.7 239.6h0M449.6 254.4h0M411.3 252.7h0M401.2 240.9h0M418.3 246h0M389.5 241.5h0M465.3 259.7h0M409.5 254.3h0M372.4 246.7h0M399.5 254.8h0M425.9 241.6h0M426.6 255.2h0M431.5 257.5h0M403.4 245.6h0M408.6 246h0M439.5 256h0M450.2 258.3h0M405.7 256.9h0M433.6 241.8h0M422.3 247.8h0M419.7 240.2h0M411.2 254.8h0M445.8 256.6h0M427.5 246.8h0M421.4 259.3h0M402.6 247.7h0M391 235.5h0M439.4 244.3h0M403.8 243.8h0M433.1 244.8h0M433.7 249.9h0M458.9 257.7h0M424.7 243.2h0M430.2 254.9h0M383.5 244.1h0M402.2 237.7h0M377.2 248.4h0M438.2 242.2h0M415 238.5h0M422 241.3h0M382.9 250h0M397.2 243.2h0M422 244.1h0M451.9 250.4h0M456.7 254.5h0M374.9 247.9h0M458.8 253.1h0M450.6 244.7h0M424.3 247.5h0M393.4 235.9h0M393.6 250.5h0M408.4 261.6h0M410.3 242.5h0M390 257.5h0M391.7 246.1h0M437 242.7h0M392.4 249.8h0M397.4 256.7h0M379.7 259.5h0M408.2 253.1h0M415.7 240.5h0M397.6 245.7h0M403.8 246.7h0M393.4 250h0M430 255.5h0M412.1 259.8h0M421.6 244h0M462.1 254.3h0M401.1 254.7h0M427.3 242.3h0M405.9 238.9h0M431 251.1h0M421.7 254.5h0M415.2 239.4h0M415.6 253h0M429 256h0M389.4 239.5h0M412.5 255.5h0M402.7 244.2h0M423 248.7h0M406.2 240.2h0M382.8 237.7h0M412.4 251.3h0M383 253.6h0M367.2 240.1h0M433.8 245.4h0M384.4 253.7h0M454.7 253.1h0M429.6 244.8h0M444.8 259.4h0M443.9 247.7h0M404.8 251.4h0M451.2 257.7h0M438.2 249.8h0M433.2 253.6h0M448.8 260.5h0M403.7 257.1h0M454.4 255.7h0M423.9 257.1h0M401.4 254.7h0M389.2 256.4h0M383.2 255.9h0M433.7 249h0M467.1 248.4h0M430 255.7h0M450.9 249.7h0M425.2 253.5h0M402.3 248.4h0M437.4 261h0M404 254.3h0M396.2 255.5h0M382.5 258.5h0M385.5 237.3h0M400.4 238.2h0M422.7 244h0M436.2 250.4h0M441.1 243.4h0M396.4 247.8h0M443.5 251.2h0M398.3 255.2h0M376.3 250.2h0M451.2 249.9h0M414.3 253.8h0M435.8 247.5h0M369.5 243.1h0M418.5 251.3h0M399.9 246.6h0M442.8 252.9h0M465.1 246h0M439.3 251.6h0M421.8 247h0M415.5 251.1h0M421.9 242.3h0M411.6 255.1h0M408.9 258.9h0M411.3 240.3h0M380.2 241.9h0M442.5 252.9h0M463.3 257.6h0M410.6 245.1h0M382.6 246.4h0M415.5 239.5h0M421.2 258.7h0M418.4 238.2h0M376.3 237.8h0M401.4 261.2h0M373 259.7h0M425.1 257.6h0M448.9 253.2h0M385.9 251.2h0M435.1 256.6h0M437.4 248.6h0M433.1 248.7h0M460.5 251.7h0M456 243.9h0M441.5 247.7h0M379.9 249.8h0M421.8 248.1h0M438.1 249.4h0M451.4 252.4h0M449.1 245.6h0M383.1 246h0M370 251.4h0M411.1 242.1h0M420.4 252.4h0M370.3 253.5h0M390.3 239.8h0M444.4 255.5h0M373.8 251h0M437.6 242.8h0M396.2 253.4h0M447.5 249.4h0M420.5 252.5h0M390.7 252.3h0M407.4 238.1h0M435.8 255.5h0M444.4 243.6h0M446.3 258h0M437.4 251.5h0M408.6 262.8h0M412.8 259.7h0M402.2 249.9h0M392.6 259.8h0M412.1 254.3h0M403.7 242.9h0M460.5 251.2h0M440.3 247.4h0M451.9 245.8h0M414.6 259.6h0M417 246.3h0M446.3 240h0M417.8 256.3h0M448.4 250.1h0M382.5 241.1h0M360 244.8h0M413.2 249.7h0M397.5 253.8h0M404.6 253.8h0M431.5 251.5h0M418.6 258.7h0M415.8 242.8h0M416.4 260.3h0M437.3 254h0M453.5 248.2h0M392.6 240.1h0M429.1 261.7h0M428.8 252.7h0M438.6 252.1h0M428.8 245.1h0M423.4 251.3h0M382.7 246.6h0M412.7 247.2h0M396.5 241.2h0M462.3 248.8h0M402.3 255.1h0M423.5 247.8h0M417.8 248.6h0M446.2 243h0M437.3 255.4h0M434.6 241.1h0M419.9 250.8h0M463.5 247.6h0M429.5 251.2h0M402.8 255.9h0M412.8 242h0M408.4 256h0M430.9 261.6h0M429.9 252.8h0M407.4 241h0M416.3 258.5h0M406.8 259.6h0M414.6 259.9h0M400.2 238.4h0M426.4 258.7h0M380.9 247.8h0M422.9 244h0M386 243.9h0M425.3 241.7h0M406.6 261.6h0M424.5 242.7h0M437 247.1h0M411.5 243h0M449.4 260.4h0M409.6 251.6h0M414.9 256.2h0M431.4 254.2h0M426.7 253.5h0M415.1 243.4h0M430.9 251.6h0M436.9 248.8h0M411.8 252.2h0M421.1 245.6h0M408.2 242.6h0M422.2 256.3h0M443.7 260.6h0M421.9 259.1h0M437.1 245.6h0M422 251.6h0M440.9 241.7h0M440.4 242.9h0M407.3 253h0M405.2 256h0M408.1 261.4h0M381.6 256.9h0M429.8 254.4h0M427.4 257.4h0M413.6 243.8h0M456.6 245.3h0M390.7 235.3h0M417.2 256.1h0M400.2 252.1h0M455.8 248.7h0M427.1 249.3h0M432.7 242.2h0M420.2 251.3h0M425.9 248h0M448.8 255h0M431.4 256.9h0M397.4 256.7h0M431.6 251.8h0M461.8 251.9h0M428.3 239.4h0M382.5 237.8h0M419.1 244.3h0M432.1 244.7h0M357.3 240.4h0M395 244.1h0M445.4 255h0M431.3 253.8h0M409.9 244h0M420.7 250.1h0M390.6 251.7h0M444 244h0M429.4 239.9h0M383.4 262.6h0M400.7 256.2h0M457.2 250.7h0M452.3 246.4h0M397.2 250.5h0M394.8 255.6h0M394.4 237.3h0M438.4 261.5h0M413.3 260.2h0M416.1 258.2h0M453.8 260.5h0M430.6 254.9h0M399.4 247.6h0M437.7 260h0M432.6 255.8h0M414.6 256.2h0M380.2 248.7h0M468.3 246.3h0M414.4 243.1h0M404.5 257.7h0M425.6 259.4h0M426.4 257.9h0M396.8 243.6h0M402 248.1h0M380 240.4h0M457.3 253.4h0M420.5 253.5h0M437 261.2h0M393.3 254.8h0M433.9 240.3h0M395 241.8h0M421.5 256.7h0M417.5 260.1h0M385.3 256.1h0M402.3 257.1h0M449.4 246.9h0M438.7 246.3h0M440.1 257.1h0M428.9 262.2h0M410.4 245h0M459.1 248.1h0M439.2 258.4h0M450.7 258.1h0M387.7 241.2h0M416.2 251.1h0M406.6 244.2h0M411.1 242.9h0M418.2 258.7h0M360.8 247.6h0M440.5 256.4h0M469.5 250.4h0M431.6 245.5h0M458.1 253.1h0M440.1 246.4h0M452.7 258.2h0M380 241.1h0M433 252.4h0M441.3 252.3h0M421 257h0M411.9 248.3h0M441.6 250.2h0M366.8 257.7h0M359.8 246.2h0M395.4 242.6h0M433.8 251.8h0M403.7 251.4h0M407.6 256h0M398.5 250.8h0M368 246.4h0M417.4 246h0M408.4 254.7h0M434.4 262h0M425.6 245.1h0M434.3 244.8h0M390.2 246.8h0M431.6 259.2h0M400.5 236.9h0M430.8 260.7h0M413.9 258.1h0M440.4 251.3h0M431.4 243.8h0M382.8 240.4h0M415.2 254.3h0M447.8 246.1h0M442.6 251.9h0M414.9 248.8h0M412.3 252.6h0M446.5 248.6h0M401 249.8h0M410.6 257.7h0M444.2 260.2h0M370.2 251h0M400 238.6h0M372.4 243.2h0M424.9 245.4h0M446.8 250.2h0M416.7 248.7h0M360 255.3h0M409.1 239.2h0M417 251.6h0M427.2 256.3h0M426.1 253.3h0M446.9 255.3h0M391.1 248.9h0M402.2 260.5h0M445.2 245.8h0M431.9 257h0M405.6 244.9h0M418.9 248.6h0M383.1 257.4h0M416.1 253.7h0M440.1 248h0M468.7 248.2h0M400.4 259.5h0M427.4 254.8h0M443.2 254.3h0M452.7 245.3h0M417.2 256.6h0M450.4 253.9h0M407.9 251.7h0M445.2 245.1h0M434.9 240.8h0M442.7 260.9h0M420.3 263.1h0M423.2 247.6h0M399.4 235.6h0M418.5 248.8h0M434.1 244.5h0M433.7 257.6h0M390.3 251.2h0M426.6 248.2h0M416.2 249.3h0M402.9 254.8h0M459.7 258h0M433.4 247.4h0M458 258.4h0M438.4 253.1h0M440.8 253.3h0M412.8 248.7h0M404 257.2h0M391.5 250.3h0M394.6 248.1h0M389.1 234.8h0M426.3 254.3h0M437.3 259h0M414.2 243.9h0M411.8 245.6h0M436.1 256.9h0M439.7 255.8h0M438.3 249.7h0M375.2 254.3h0M394.7 248.5h0M395.1 245.3h0M453.6 240.5h0M415 256.5h0M424.7 252h0M412.6 249.4h0M404.5 242.7h0M410.5 252.6h0M431.7 258.1h0M382.3 258.7h0M378.3 246.3h0M427.1 254.3h0M393.5 247.7h0M454.4 259.6h0M428.6 247.3h0M435.5 257.7h0M433.6 242.8h0M466.1 251.6h0M414.4 255.6h0M411.8 252.4h0M426.2 254.8h0M379.3 246.5h0M414.5 254.5h0M432.3 252.7h0M415.1 248.5h0M417 259.8h0M392.4 242.3h0M429.3 244.6h0M438.1 247.7h0M387.8 246.3h0M434.9 247.9h0M402.4 260.8h0M462.2 250.9h0M403.3 240.3h0M443.9 250.5h0M401.6 252.3h0M397.4 240.3h0M428.4 244.9h0M431.4 248.3h0M401 253.6h0M426.7 256.9h0M425.5 252h0M423.3 240.3h0M437.3 259.2h0M433.4 255.2h0M361.7 244.3h0M426.6 258.6h0M446 246.6h0M412.1 253h0M392.6 238.9h0M389.7 251.5h0M421.3 245.4h0M378.9 245.2h0M402.6 246.6h0M370.5 248.8h0M368.1 246.1h0M392 248.7h0M406.9 239.8h0M425.1 262.3h0M406.4 249.4h0M428.4 256.3h0M419.9 250.7h0M425.4 251.7h0M420.3 251.2h0M430.6 251.6h0M427.4 245.5h0M406.5 248.8h0M436.8 260.6h0M426.9 248.4h0M400 260.1h0M463.6 258.4h0M466.8 248.5h0M411.5 240.8h0M434.4 253.8h0M369.5 234.2h0M398.7 243.2h0M414.7 257.5h0M418.7 246.5h0M427.6 253.6h0M389.1 239h0M439.4 247.1h0M430.8 240.1h0M391.1 238.3h0M414.5 244.9h0M431.6 249.2h0M407 241.1h0M413.2 248.2h0M448.2 250.4h0M406 248.9h0M414 243.9h0M429.5 258.1h0M399.5 253h0M421.4 244.3h0M469.6 251.8h0M410.5 245.4h0M392.5 251.8h0M392.1 257.9h0M410.1 242.8h0M433.5 249.8h0M391.7 251.5h0M397.5 246.7h0M439.9 253.7h0M436.9 256.3h0M434.1 254.5h0M382.1 263.4h0M442.2 253.2h0M421.7 255.2h0M459.6 259.2h0M434.4 262.1h0M430 248.4h0M426.2 244.5h0M419.6 249.2h0M388 251.3h0M412.5 249.2h0M451 260.5h0M422.6 255h0M413.6 245h0M389.8 255h0M417.5 257.7h0M430.4 248.4h0M388.6 258h0M399.4 245.5h0M406 256.7h0M396.5 258.2h0M402.6 244.7h0M413 253.6h0M447.9 256.9h0M400 256.6h0M426.2 250.7h0M428.8 259.2h0M382.5 262.7h0M469.7 252.6h0M445.6 253.8h0M442.7 256.2h0M430.9 260h0M424.2 242.4h0M418.1 250.9h0M439.8 257.3h0M399.6 241h0M438.7 256.2h0M418.4 253.4h0M430.6 251.8h0M434.2 248.6h0M399.2 243.7h0M434.6 254h0M409.8 247.5h0M407 255.7h0M429.2 254.6h0M389.7 241.8h0M424.7 249h0M392.5 259.5h0M462.6 258.6h0M442.2 256.3h0M418.9 249.7h0M395 241.6h0M384 262.1h0M388.2 245.1h0M387.2 251.2h0M399.3 246.8h0M448.8 250.6h0M399.2 238h0M419.9 259.1h0M408.5 252.6h0M383.1 249.4h0M439.7 248.2h0M403.2 246h0M415.6 248.7h0M437.6 243.8h0M358.5 249.7h0M407.5 247h0M465.6 259.7h0M402.2 244.2h0M447.1 249.8h0M468.1 251.3h0M447.6 249.1h0M427.2 246.6h0M441.2 245.4h0M427.3 257.3h0M400.6 254.1h0M393.9 260.7h0M421.1 258.2h0M434.2 258.7h0M402.2 239.8h0M384 244.5h0M429.4 253.3h0M397.8 247.7h0M443.6 251.2h0M452.8 257h0M422.8 261.8h0M417.6 252.3h0M438.9 262.1h0M445.4 246.7h0M414.7 257.6h0M407.4 255.6h0M453 252.2h0M415.6 241.4h0M407.2 247.6h0M388.6 249.4h0M393.1 259.3h0M451 244.7h0M443.5 250.4h0M437.9 253h0M435.2 258.4h0M447.1 246.1h0M411.2 248.6h0M391.1 252.9h0M423.3 242.7h0M427.8 245.6h0M416.7 255.4h0M417.9 242.7h0M405.2 237.5h0M418.2 262.2h0M419.2 251.1h0M373.6 242.1h0M457 259.2h0M465.5 252.3h0M372.4 244.3h0M423.4 241.7h0M391.4 245.3h0M378.5 237.7h0M430.7 246.7h0M389.1 257.8h0M409.1 249.5h0M404.2 250.4h0M411.6 251.7h0M425.9 243.1h0M409.7 251.1h0M395.7 239.5h0M385.3 259.8h0M431.3 251.4h0M404 238.8h0M418.1 259.5h0M429.3 251.9h0M437.9 252.5h0M396.6 250.3h0M460 249.6h0M440.9 247.3h0M397.9 261.6h0M425.1 247.2h0M395.8 241.4h0M442 253.7h0M404 238.2h0M409 256.3h0M398.7 248.4h0M431.1 248.9h0M440.5 247.8h0M441.3 254.7h0M420 263h0M445.9 252.8h0M399.5 242h0M392.6 240.6h0M382 246.9h0M439.6 242.7h0M418.5 257.2h0M390.4 257.4h0M397.6 253.9h0M380 244.3h0M424.1 253.4h0M405.4 248h0M449.7 253.1h0M403.7 247.5h0M419.5 239.8h0M399 243.4h0M381.8 256.7h0M429.1 259.8h0M369.4 255.8h0M390.8 256.9h0M406.1 240.4h0M359.4 252h0M415.1 244.2h0M418.2 242.3h0M388.8 245h0M391 241.3h0M390.2 251.6h0M447.9 254.6h0M430.2 243.9h0M411.9 243.9h0M391.1 238.2h0M404 260.2h0M371.6 246.1h0M452.8 254.7h0M433.4 251h0M396.3 251h0M412.5 250.8h0M418.3 250.9h0M446.3 261.2h0M438.7 261.2h0M446.3 246.6h0M405.8 253.8h0M405 238.9h0M396.6 252.7h0M392.9 239.5h0M387.9 238.8h0M432.8 257.6h0M426.2 238.5h0M429.5 242.5h0M423.2 246h0M373.5 252.9h0M388.6 253.8h0M401.4 258h0M372.9 231.4h0M444.9 255.1h0M449.3 256.3h0M396.6 249.7h0M376.6 252.5h0M404.5 255.6h0M414.9 254.5h0M430.9 260.5h0M399.8 240.6h0M396.7 247.2h0M447.5 255.5h0M420.1 246.4h0M399.1 249.8h0M429.8 246.7h0M431.5 250.1h0M405 235.6h0M387 236.3h0M432.8 249.6h0M419.2 250.8h0M386.4 244.6h0M421.6 257.4h0M416.9 252h0M457.3 251h0M422.8 244h0M405.6 259.7h0M429.1 256.5h0M408.3 244.7h0M455.4 247.4h0M395.1 244.4h0M449.6 246.1h0M414.3 248.8h0M452.2 246.4h0M388.4 246.6h0M454.6 253.7h0M380.1 230.1h0M421.9 251.8h0M415.7 244.1h0M417.2 262.1h0M396.6 251.7h0M414.8 252.1h0M422.9 257.5h0M447.8 258.4h0M393.9 250.4h0M419 240.5h0M404.3 257.1h0M440.2 255.4h0M407.8 243.8h0M429.2 240.8h0M394.7 251.4h0M410.1 248.7h0M404.5 262.2h0M442.6 248.4h0M410.6 263.2h0M443 260.5h0M399.4 248.5h0M414.1 258.1h0M432 245.7h0M447.9 250.2h0M434.8 257.1h0M405.7 244.8h0M427.8 250.4h0M423.2 243.9h0M427.3 247.2h0M378.5 239.7h0M393.9 240.4h0M463.6 248.2h0M369.6 240.4h0M420.8 255.2h0M424.6 239.1h0M376.6 244.2h0M401.3 240.8h0M393.7 254.3h0M395 246.1h0M406.9 260h0M437.2 244.3h0M447.7 252.5h0M384.1 252.7h0M399.6 248.9h0M438.3 246.3h0M418.8 259h0M418.4 251.6h0M377.9 255.1h0M447 260.3h0M374.2 252.8h0M404.6 259h0M404.4 239h0M385.4 241.3h0M410.6 256.7h0M414.1 248.2h0M452.6 249.8h0M421 241.4h0M402.1 247.2h0M428.8 260.6h0M413.3 250.6h0M393 254.6h0M396.4 236.8h0M423 257.4h0M436 249.1h0M445.3 256.7h0M386 251.9h0M428.4 251.4h0M397.5 243.2h0M427.5 243.4h0M439.1 258.5h0M404.5 240.1h0M403.5 245.2h0M434.3 242.6h0M386.9 248.8h0M407.8 252.7h0M454.2 248.8h0M405.3 246.1h0M387.4 262.3h0M466 248h0M443.9 248.5h0M449.5 248.3h0M409.3 253.4h0M401.4 246.4h0M358.3 245.6h0M397.5 241.4h0M442.4 248.3h0M448.5 243.9h0M435.1 258.9h0M447 257.5h0M391.4 245.4h0M431.8 253.7h0M393.7 238.2h0M408.7 237.5h0M378.9 259.2h0M416.7 242.3h0M377 243.6h0M417.8 239.9h0M374.6 252.2h0M427.4 242.4h0M446.3 258.6h0M420.7 249.5h0M401.1 240.5h0M453.4 248.4h0M397.2 236.6h0M426.8 256.5h0M393.7 258.5h0M403 249h0M408.1 246.5h0M406.9 259.3h0M413.2 241.7h0M440.3 257.7h0M417.4 254.4h0M372 255.3h0M439.5 252.9h0M443.3 248.7h0M423.1 256h0M428.8 261.3h0M390.9 258.7h0M413.6 243.8h0M434 241.9h0M398.7 260.4h0M411.4 246h0M372.1 259.1h0M389.2 236.2h0M395.7 251.3h0M451.9 259.1h0M427.5 258.5h0M439.2 250.6h0M426.8 252.3h0M389.9 249.2h0M442.4 247.6h0M386.8 249h0M397.6 256.2h0M390.6 253h0M391.2 236.6h0M432 241.5h0M412.2 256.9h0M401.9 255h0M466.4 249.7h0M452.1 251.3h0M409.9 256.8h0M433.6 255.1h0M455.2 251.8h0M407.3 262.6h0M439.8 254.2h0M372.5 243.9h0M390.2 243.9h0M413 236.9h0M387.6 246.5h0M431.8 256.1h0M432.9 246.2h0M398.4 233.9h0M417.6 255.4h0M409.4 251.8h0M435.3 253h0M417.7 248.7h0M434.8 249.3h0M386.1 243.4h0M411.8 247h0M396.1 240.7h0M376.6 257.6h0M441.9 248.1h0M436 258h0M421.7 256.7h0M457.7 257.6h0M411.2 255h0M451.8 249.6h0M422.5 246.4h0M400.3 250.1h0M402.5 248h0M420.3 244.2h0M419.9 253h0M418.2 243.1h0M455 253.2h0M449.7 248.2h0M378.9 258.6h0M440.7 244.7h0M401.9 241.6h0M430.2 248h0M392.1 240.4h0M424.4 237.1h0M423.4 255.6h0M416.6 261.9h0M402.7 260h0M410.6 239.8h0M391 255.1h0M389.9 257.1h0M444.2 255.4h0M385.4 244.5h0M392.9 237.4h0M418.8 247.8h0M403.3 255.3h0M425.1 260.5h0M387.9 244.9h0M450.2 259.1h0M435.2 247.7h0M426.4 252.6h0M463.2 255.2h0M455.2 247h0M395.9 262.7h0M412 239.1h0M370.3 253.4h0M407.6 242.7h0M406.8 256.2h0M402.3 247.4h0M441.8 252.7h0M414.6 251.8h0M410.5 244.9h0M421.1 245.2h0M412 243.6h0M371.3 250.6h0M399 244.1h0M416 252.5h0M434 254.2h0M427.2 257h0M401 251.2h0M382.9 250.2h0M414.8 246h0M380.3 245.3h0M468.8 246.1h0M435.9 255.6h0M443.7 258.6h0M390.1 250.5h0M454.5 252.2h0M441.4 247.8h0M423.8 254.8h0M371.9 262.8h0M390.4 253.2h0M431.5 243.3h0M436.9 251.7h0M440.3 239.9h0M414.7 254.4h0M373.4 234.4h0M436.9 258h0M454.8 247.5h0M365.3 251.5h0M405.6 244.6h0M439.4 257.1h0M458.1 247.3h0M425.9 249.1h0M425.9 259.2h0M416.1 261.8h0M409.6 242.5h0M388.2 259.9h0M402.7 260.2h0M389.4 253h0M420.7 241.8h0M385.7 259.3h0M437.3 243.8h0M399.6 238.7h0M445.7 245.8h0M411.9 243h0M466.3 249.5h0M403.4 236.8h0M368.7 261.4h0M460.7 247.1h0M388.6 245.7h0M452.8 251.7h0M379 238.9h0M419.8 250.6h0M455 248.4h0M396.3 255.5h0M401.7 246.1h0M411 249.2h0M372.8 232.3h0M416.3 259.3h0M445.8 253.3h0M445 260h0M375.4 238.7h0M467.9 256.6h0M468.7 258.1h0M403.1 246.9h0M426 253.1h0M440.6 254.3h0M400.1 239.2h0M416.9 252.6h0M409.1 251.9h0M432.9 259.8h0M426 255.7h0M398.4 242.4h0M411.6 246.3h0M409.1 250.8h0M402.4 254.3h0M394.1 244.3h0M458.9 248.8h0M427 247.6h0M439.6 252.6h0M455.7 255.6h0M411.9 245.5h0M426.8 249.2h0M429.6 253.4h0M465.4 249.2h0M410.7 255.2h0M428.9 248.7h0M442.6 241.7h0M446 250.9h0M402.4 249.3h0M451.1 255.9h0M420.6 242h0M471 257.4h0M405 240.7h0M421.8 259.1h0M426.7 251.1h0M423.7 250.6h0M429.5 249.2h0M424.1 259.2h0M456.3 257.3h0M434.7 259.8h0M443 256.7h0M418.4 251.2h0M419.4 249.1h0M418.3 253.9h0M404.1 246.4h0M422.9 259.8h0M430.4 244.6h0M422.6 244.3h0M409.3 241.9h0M434 256h0M396.7 259.7h0M454.7 252.2h0M430 251h0M427 253.7h0M413.4 258.4h0M406 244.2h0M433.4 251.3h0M413.6 262.5h0M403.3 242.5h0M437.5 244.3h0M393.3 239.6h0M439.6 247.3h0M401 243.7h0M415 261h0M374.6 266.4h0M412.4 269.9h0M396.7 264.4h0M358.7 272.4h0M386.1 254.4h0M374 261.6h0M412 251.1h0M408.5 268.5h0M407.8 259.8h0M403.9 256.4h0M367.3 262.7h0M363.1 257.1h0M352.4 247.4h0M414.5 267.7h0M391.4 257.4h0M396.3 247.9h0M377.5 253.6h0M371.8 257.3h0M377 268.7h0M356.8 256.5h0M415.5 268.5h0M402.7 261.3h0M417.5 251.7h0M353.2 264.7h0M395.2 253.9h0M373.7 259h0M360.1 267.3h0M412.1 261h0M376.1 263.5h0M395.3 272.3h0M390.9 250.9h0M398.4 251.9h0M369.2 265.3h0M384.7 266.4h0M369.8 265.8h0M409.8 250.8h0M396.1 271.6h0M359.1 252.7h0M381.6 250.7h0M354.3 272.3h0M376.4 254.9h0M408.8 250.8h0M366.5 249h0M371.8 271.9h0M416.4 261.7h0M404.3 260.1h0M368.3 272.3h0M376.5 268.8h0M396 260.3h0M413.6 258.7h0M413.1 256.9h0M355.9 253.8h0M411.9 248.2h0M403.2 255.1h0M385.5 266.4h0M390.4 260.6h0M375.2 260h0M404.4 255.8h0M399.4 259.8h0M374.7 254.8h0M364.4 264h0M399.6 263.3h0M408.3 260.1h0M395.8 262.6h0M403.5 271.1h0M409.4 247.8h0M370.1 265.8h0M388 259.9h0M404.5 268.6h0M371.3 252.8h0M384.9 262.6h0M396.6 271.6h0M380.7 260.8h0M379.2 259.7h0M360.9 253.4h0M386.9 255h0M389 251.8h0M378.2 263.1h0M373.6 265.4h0M408.9 261.1h0M361.3 254.4h0M406.9 264.1h0M414.1 266.6h0M406.6 254h0M374.3 252.9h0M408.8 265.3h0M388.1 255.3h0M389.3 271.7h0M374.6 247.8h0M369.1 253.4h0M356.7 248.7h0M361.8 253.3h0M394.7 268.7h0M394.9 252.5h0M419.4 271.1h0M413.5 258h0M371.4 268.1h0M372.1 262.2h0M362.6 267.5h0M379.3 264.8h0M371.5 256.1h0M387.1 247.7h0M352.6 257.7h0M353.4 255.9h0M410.9 256.6h0M392.9 251.8h0M393.4 252.8h0M406.2 268.3h0M406.6 253.8h0M396.5 250.8h0M407.6 263.1h0M361.2 250.1h0M372.3 261.4h0M393.4 250.7h0M418.4 263.9h0M372.7 253.1h0M353.3 269.9h0M372.7 257.8h0M383.9 270h0M387.6 259.1h0M377.5 265.5h0M357 268.1h0M366.9 260.1h0M393.1 269.6h0M354.9 255.4h0M405.2 267.7h0M410.3 257.6h0M389.5 248.9h0M376.4 259.2h0M399.7 266.6h0M373.6 259.9h0M413.7 266.9h0M380.9 253h0M359 261.8h0M381.6 272h0M357.8 273.1h0M386 268.4h0M386.5 255h0M411.7 269.4h0M398.6 258.5h0M413.1 264.2h0M402.5 255h0M394.5 258.6h0M405.5 268h0M378.1 249.7h0M363.5 268.1h0M387.6 261.3h0M408.9 249h0M366 272.6h0M376.7 250.9h0M389.9 251.2h0M388.1 263.3h0M409.4 250.2h0M362.3 266h0M374.1 248.1h0M399.8 263.9h0M406 261.3h0M378.1 260.4h0M378.4 261.7h0M409.9 255.9h0M390.3 248.3h0M413.4 264.7h0M408.6 249.7h0M418 256.4h0M355.5 263.1h0M409.8 257.6h0M382.5 254.8h0M403 254.1h0M367 269.7h0M361 237.6h0M376.9 246h0M376 248.9h0M381 254.1h0M383.7 249.7h0M366.7 240h0M383.7 244.2h0M385 253h0M360.2 254.8h0M371.8 255.7h0M364.5 234.3h0M369.9 249.1h0M373.6 232.9h0M360 236.4h0M360.5 233.4h0M376.7 236.1h0M380 245.2h0M363.6 240.9h0M371.6 238.6h0M369.7 233.9h0M366.9 254.5h0M373.8 246.9h0M390.3 242.6h0M384.1 256.9h0M369.6 245.2h0M374.6 237.3h0M379 256.5h0M372.2 235.6h0M372.4 250.1h0M367.1 251.6h0M358 256.5h0M382.3 257.9h0M384.3 249.4h0M383.2 238.4h0M385.4 242.5h0M384.5 236.4h0M369.9 242.3h0M380.7 255.5h0M375.8 255.2h0M369 234.7h0M374.9 256.8h0M383.4 240.1h0M363.8 232.3h0M380.4 255.7h0M387 244.1h0M382.5 246.9h0M377.2 256.1h0M379.8 239.9h0M365.2 255.6h0M358.2 247.5h0M363.5 240.7h0M368.9 239.4h0M358.3 255.6h0M380.2 237.3h0M360.7 241.8h0M363.3 239.7h0M378.4 254.6h0M390.2 237.2h0M386 252.5h0M386.6 241.8h0M367.3 240.6h0M367.9 257h0M381.2 238.5h0M376.4 234.8h0M371.1 233.5h0M382.5 248.6h0M363.8 244.9h0M367.8 259h0M368.2 236.4h0M387.9 236.9h0M360.9 243.7h0M382.2 242.7h0M363.3 251.4h0M365.9 233h0M390.5 238.9h0M386.3 249.6h0M375.5 246.7h0M358.6 239.4h0M368.5 252h0M368.5 256.5h0M363.7 248h0M379.6 248.1h0M372.6 235.5h0M384.2 247.7h0M359.5 257.3h0M364.5 236.5h0M366.7 254.6h0M363.9 250.6h0M376.1 250h0M385.8 251.6h0M386.4 233.2h0M370.8 235.4h0M385.2 248.7h0M371.4 247.6h0M388.4 242.8h0M377.8 258.5h0M362.6 254.4h0M361.5 250h0M386.8 256.5h0M380.5 248.1h0M380.2 244.4h0M372.4 245.1h0M366.8 242.6h0M373.6 233.4h0M371.7 237.8h0M390.4 237.8h0M372.3 243.2h0M387.3 257.7h0M379.2 242.2h0M382.5 237.7h0M375.4 234.6h0M360.9 229.8h0M387.3 247.1h0M382.5 257h0M388.6 247.5h0M384.6 243.3h0M381.3 241.6h0M383 237.1h0M379.2 253.1h0M371.3 256.8h0M362.5 235.5h0M358.1 255.8h0M384.9 254.6h0M380.2 249.6h0M379.4 246.9h0M365.6 234.3h0M367.7 253.5h0M385 235.2h0M382.6 257.7h0M384.2 240.7h0M371.6 252.3h0M370.9 256.8h0M364.7 239.9h0M379 253.1h0M362.6 235.7h0M379.6 254.8h0M374.6 233.2h0M380 255h0M359.8 240.6h0M388.8 242.4h0M372.8 239.9h0M373.8 240.9h0M373.2 250.3h0M359.8 254.3h0M386.5 258.3h0M382.1 253.8h0M377.3 239.1h0M362.3 237.5h0M379.2 255.7h0M358.3 234.7h0M389.2 245.6h0M362 246.8h0M369.6 231.2h0M375.7 244.5h0M390 247.9h0M373.3 236.4h0M369.9 244.3h0M368.7 256.1h0M362.2 243.2h0M369.6 236.4h0M372.9 245.5h0M374.2 236h0M388.1 241.5h0M388.2 255.4h0M381.4 249.3h0M382.1 234.4h0M369 246.5h0M378.9 249.7h0M358.5 231.2h0M370.9 252.8h0M366.6 230.5h0M385.4 242.4h0M387.8 232.8h0M389.3 253.5h0M376.8 239.2h0M366.2 240.1h0M375.6 241.1h0M358.5 242.8h0M387 246.8h0M374.5 244.5h0M372 230.1h0M375.8 247.5h0M369.1 235.8h0M358 235.9h0M358.1 258h0M364.5 247.2h0M386.7 244.3h0M380.4 248.7h0M381.5 246.9h0M382.9 256.3h0M358.3 239.5h0M385.7 255.7h0M380.1 238h0M359.6 231.3h0M360.5 230.5h0M372.2 233h0M384.9 245.8h0M384.6 248.7h0M382.2 258.6h0M362 240.6h0M368.5 252.6h0M361.4 255.5h0M360.8 231.6h0M370.6 248.1h0M382 234.5h0M377.1 259h0M379 246.2h0M370.1 237.7h0M363.8 248.4h0M377.7 236.6h0M360.2 247.1h0M381.1 251.7h0M382.9 258.2h0M387.4 240.7h0M364.9 248.4h0M373.2 244.2h0M374.1 246.1h0M375.5 244.7h0M388.9 241.6h0M364.3 250.7h0M383.5 257.8h0M387.1 251.5h0M384.1 253.1h0M366.3 236.7h0M387 250.1h0M372.6 256.1h0M361.8 243.4h0M387.5 250.7h0M375.5 250.3h0M359.4 242.6h0M382.4 252.2h0M371.1 232h0M388.5 253.1h0M368.7 245.7h0M370.9 255.2h0M382.9 252.7h0M369.9 257.2h0M389 251.5h0M386.3 252.1h0M377.7 237.7h0M374.1 253.2h0M389.5 257.3h0M386.5 242.8h0M388.6 236.8h0M374.2 248h0M377 253.8h0M363.5 248.2h0M386.7 244.1h0M389.5 240.2h0M389.1 254.1h0M389.4 254.2h0M366.7 230.8h0M384.8 239.2h0M387.9 248h0M390.1 236.3h0M375.1 234.4h0M386.2 258.2h0M378.2 239.3h0M387.5 252.6h0M386.4 250.8h0M478 250.6h0M465.4 245h0M471.8 247.7h0M485.8 251.1h0M472.3 249.6h0M480.3 246.3h0M483.5 252.3h0M479.2 247.2h0M476.8 250.1h0M476.6 244.4h0M479.5 249.7h0M473 245.1h0M488.2 251.7h0M467.2 247.7h0M474.3 251.7h0M468.9 244.6h0M482.2 247.2h0M478.6 247.5h0M469 245.6h0M486.9 248.9h0M481.4 249.1h0M480.2 246.3h0M348.5 263.8h0M367.7 286.8h0M371.2 291.9h0M359.6 296.5h0M354.3 301.8h0M364.9 298.4h0M367.2 299.5h0M371.2 302.3h0M372.3 304.6h0M372.8 308.1h0M388.9 298.4h0M369.8 197.7h0M367.5 287.1h0M401.5 306h0M402.5 308h0" stroke="#8c8c8c" stroke-width="1.75" stroke-linecap="round" fill="none"/>
<path d="M429.1 236.7h0M423.4 234.2h0M370.3 232h0M389.3 226.4h0M438.9 240.9h0M397.1 229.7h0M404.2 235.7h0M409.1 234.8h0M362.6 227h0M389.2 230.3h0M411.2 216.4h0M376.2 233.7h0M450 232.8h0M404.9 234.1h0M381 232.1h0M371.7 221h0M390 218.1h0M410.7 228.5h0M368.6 218.6h0M415.5 236.2h0M408.6 236.6h0M393.7 218h0M408.2 228.4h0M393.7 218.7h0M434.3 238h0M391.1 226.9h0M373.1 230.8h0M430 235.8h0M406.5 225.3h0M393.8 229.4h0M381.9 234.1h0M425.8 237.9h0M420.2 236.2h0M405.2 236.8h0M375.2 227.2h0M373.6 218.6h0M392.2 232.5h0M400.9 231.2h0M423.4 224.6h0M367 228.5h0M413.6 238h0M389.3 229.9h0M396.2 218.6h0M359.7 223.2h0M406.3 225.6h0M384.9 231.7h0M410.1 217.8h0M404.3 218.1h0M454.9 244.8h0M394 223.4h0M378.4 230.9h0M421.2 236.9h0M393.1 231.4h0M402.7 221.2h0M392.9 216.5h0M410.1 235.5h0M404.8 237h0M369.1 229.4h0M371.1 218.8h0M393.8 229.9h0M387.7 225.8h0M423.6 231.9h0M398.7 234.4h0M379 234h0M420.4 234.9h0M396.3 236.4h0M379.3 231.1h0M417.5 229.5h0M447.2 240.8h0M421.9 236.1h0M433.9 241.2h0M391.2 230.8h0M411.8 223.9h0M382.1 222.6h0M393.2 235h0M380.2 227.8h0M366.2 217.8h0M425.4 240h0M392.9 232.4h0M415.1 216.8h0M388.3 234.9h0M416.4 218.2h0M438.3 238.3h0M359.7 229.1h0M400 232.3h0M379.6 212.9h0M364.7 227.7h0M390.8 233.2h0M407 226.1h0M391.9 230.5h0M394.8 232.3h0M390.7 227.1h0M417 229.9h0M389.9 223h0M409.4 235.9h0M408.2 237.2h0M395.9 227.2h0M391.2 224.8h0M387 212.8h0M375.1 227.2h0M404.3 234.2h0M427.8 237.7h0M429.1 220.3h0M386.4 231.7h0M447.8 229h0M427.7 224.7h0M394.5 225.5h0M386.4 226.9h0M409.3 236.3h0M373.2 229.4h0M408.4 235.1h0M395.7 224.3h0M401.1 215h0M451.8 236.2h0M420.1 237.6h0M379.5 224.5h0M398.8 232.2h0M432.4 220.8h0M409.2 225.9h0M368.6 233.1h0M366.8 228.7h0M414.7 236.7h0M434.9 240.5h0M398 232.2h0M384.7 228.4h0M407 222.6h0M411.2 233.1h0M377.9 235h0M402.5 234.2h0M412.5 222.8h0M380.6 230.3h0M399.6 234.9h0M393.6 232.8h0M409.8 228h0M430.6 232.6h0M417.8 235.3h0M409.9 228.8h0M372.8 229.7h0M375.4 228.9h0M372 218.1h0M393.8 232.8h0M419.4 225.6h0M410.1 233.5h0M440.9 224.3h0M373.4 229.9h0M370.8 230.4h0M396.9 236.2h0M444.8 239.1h0M387.8 233.6h0M427.4 224h0M401.1 224.1h0M371.7 226.7h0M390.8 216.9h0M364.7 215.8h0M381.9 234.2h0M368.8 224.3h0M375.6 217.1h0M402.9 224.9h0M371 228.4h0M368.5 229.7h0M387.6 231h0M389.6 229h0M395.4 237.5h0M419.3 231.9h0M390.4 233.6h0M376.5 229.3h0M431 232.5h0M419.7 215.1h0M406.5 214.6h0M399.5 235.7h0M419.6 230.6h0M410.3 227h0M406.5 232.9h0M413.5 224h0M430.6 231h0M366.9 227.2h0M396.6 226.7h0M399.8 235.7h0M408.4 233.7h0M392.1 233.1h0M388.2 233.7h0M384.6 222.6h0M432.7 223.2h0M371.3 231.5h0M367.2 231.4h0M398.3 237h0M444 241.8h0M395.2 228.7h0M417 219.9h0M409 232.6h0M417.4 226.2h0M382.8 234.1h0M434.2 224.2h0M422.1 221.5h0M421.1 235.6h0M409.2 219.1h0M415.8 236.7h0M371.9 225.9h0M399.4 225.9h0M378.6 233.4h0M375.1 232.2h0M428.9 227.1h0M391.9 231h0M414.3 230.5h0M413.9 214.6h0M408.1 219.6h0M375.6 233.4h0M403.9 235.5h0M419.5 226.1h0M428.8 226.2h0M433.3 231.5h0M418.7 236.6h0M400.1 234.9h0M432.8 238.7h0M402.4 232.6h0M438.7 238.3h0M399.2 235.2h0M429.3 233.1h0M453.9 237.6h0M404.9 224.8h0M445.5 239h0M375.7 226.3h0M412.3 220.9h0M426 238.2h0M394.2 234.8h0M436.4 239.2h0M401.5 234.7h0M435.9 225.1h0M442.7 233h0M397.3 234h0M401.1 227h0M408.4 234.1h0M411.7 226.6h0M452.1 239.1h0M405.4 230.7h0M384.2 220.4h0M396.6 230.2h0M415.1 237.2h0M372.2 225.8h0M446.8 240.1h0M366 228.4h0M368.6 216.9h0M423.7 221.2h0M397.7 235.7h0M392.1 226.6h0M397.1 214.5h0M418.8 217.3h0M421.8 224.4h0M392.4 218.5h0M363.2 228.9h0M398.1 229.2h0M439.7 234.2h0M427.7 237.3h0M431.3 236.7h0M390.7 230.2h0M358.9 227.6h0M390.8 234.5h0M390.9 228h0M441.3 227.4h0M388.8 219.1h0M372.3 224.1h0M400.4 222.6h0M428.7 239.4h0M400.5 225h0M420.6 224.8h0M457.9 243.2h0M379 230.7h0M424.1 230.7h0M373.7 231.1h0M366.9 228.9h0M402.7 214.7h0M400.3 215.8h0M415.3 236.3h0M436.6 239.2h0M398.9 234.4h0M383.6 216.1h0M418.8 237.6h0M398.4 218.9h0M385.4 220.6h0M394.3 236h0M449 235.8h0M369 231.5h0M385.4 233.9h0M392.3 220.7h0M421.5 238.1h0M387.4 215.4h0M434.6 239h0M422.2 236.9h0M414.4 235.7h0M411.9 230.8h0M463.1 240.2h0M377.7 232.4h0M420.9 220.6h0M373.2 230h0M377.1 226.7h0M430.7 232.6h0M414 218.6h0M407.5 237.6h0M419.4 227.1h0M383 223.9h0M395.2 213.5h0M384.9 230.1h0M366.9 228.4h0M387.1 228.5h0M402.5 213.6h0M394.5 233.8h0M395.7 234.3h0M391.4 231.3h0M449.2 242.6h0M439.3 237.2h0M416.5 226.3h0M369.3 221.6h0M378.3 232.2h0M420.9 229.9h0M384.5 233.2h0M449.9 238.7h0M407.2 225.3h0M395.7 228.4h0M426.1 235.1h0M407.5 233.2h0M444 236.3h0M419.8 238.9h0M439.7 241.6h0M405.1 230h0M457 243.5h0M424.1 237.1h0M424.6 225.7h0M398 229.6h0M386.8 217.1h0M405.2 226.2h0M421.3 229.2h0M420.4 217.1h0M409.1 239.8h0M401.5 237.7h0M396.6 235.5h0M409.8 235.8h0M375.9 214.8h0M450.8 240.1h0M388.2 217.5h0M382.9 225.6h0M392.7 214.3h0M388.5 231.6h0M384 228h0M427.3 224.2h0M417.9 234h0M399.6 229.4h0M436.5 221.2h0M384.2 231.6h0M405.8 234.8h0M455.3 237.8h0M419.1 236.6h0M362.4 226.4h0M385.3 227.7h0M390.3 233.6h0M372.6 226.2h0M411.7 234.5h0M393.1 234.9h0M384.4 233.3h0M383.2 220.4h0M386.6 233h0M418.9 231.7h0M404.6 226.8h0M378.3 232.8h0M387.5 234.4h0M382.3 234.7h0M432.4 240.7h0M395.2 235.2h0M423.4 240.2h0M402.2 235.7h0M412.4 230.6h0M414.5 235.6h0M409.5 231.8h0M358.6 231.1h0M384.6 228.7h0M392 228.2h0M365.5 231.3h0M410.6 229.4h0M414.8 236.4h0M435.8 242h0M415.6 234h0M433.1 237h0M378.5 229h0M384.2 214.4h0M397.7 228.1h0M393.2 235.1h0M424.7 236.4h0M389.6 229.3h0M426.6 238.2h0M409.4 216.5h0M435.1 235.6h0M394.5 234.7h0M397.3 231.3h0M383.8 232.9h0M384.4 233.9h0M410.2 235.6h0M395.7 215.5h0M406.7 235h0M388.5 229.7h0M367.7 216.6h0M403.2 231.7h0M404.3 231.1h0M381.4 212.1h0M377.6 218.4h0M388 232.7h0M418.5 223.1h0M366 229.4h0M374.6 231.4h0M438 230h0M359.3 229.8h0M455.6 241.1h0M363.9 221.9h0M359.5 228.1h0M405.8 230.8h0M423.8 222.2h0M403.4 234.3h0M456 245.9h0M399.9 237.5h0M416.5 233.4h0M385.5 229.7h0M407.7 229.1h0M390.8 230.4h0M397.9 233.7h0M407.3 224.4h0M414 236.4h0M402.3 214.2h0M397.4 235.5h0M440 240.9h0M393.1 224.4h0M440.4 235.2h0M382.2 230.7h0M394.6 233.4h0M391 225.5h0M379 221.1h0M405.5 227.1h0M425.3 239.5h0M442.4 229h0M418.7 233.6h0M395.4 216.3h0M441.1 232.2h0M359.9 223.3h0M415.5 238.4h0M415.4 233.5h0M396.6 228.1h0M398.9 235.1h0M456.2 240.9h0M434.5 240h0M380.5 217.3h0M409.3 217.3h0M395.7 228.5h0M397.1 223.4h0M414.7 229.7h0M359.6 226.3h0M395.5 234.1h0M414.1 234.8h0M419.4 236.4h0M410.7 235.4h0M397.3 233.9h0M407.3 218.5h0M426.1 240.3h0M399.5 231.3h0M379.5 232.8h0M397.3 221h0M391.7 232.9h0M422.8 234.7h0M416.2 237h0M372.2 228.9h0M365.9 229.8h0M420.3 235.6h0M419.9 215.8h0M383.5 227h0M416.9 231.5h0M395.1 213.6h0M381.4 227.9h0M393.1 229.2h0M424.5 231h0M438 238.1h0M392.2 224.3h0M409.6 235.8h0M446.8 238.3h0M431 238.3h0M408.1 236.7h0M422 229.7h0M410.5 235h0M421.4 230.5h0M380.7 229h0M403.6 214.2h0M407.4 237.8h0M455.2 234.7h0M391.7 226.8h0M421 226.9h0M392.8 231.5h0M396.6 232.8h0M394.3 234.6h0M403.6 216.6h0M423.5 222.1h0M372.3 224.2h0M431 224.1h0M375.6 233.5h0M392.1 219.4h0M435.3 240.2h0M381 221.4h0M425.6 235.2h0M358.9 227.6h0M399 229.6h0M405.8 235.6h0M396.3 219h0M450.6 242.1h0M393.5 231.9h0M409.2 232.7h0M445.7 238.6h0M412.8 237.8h0M414.6 234.6h0M423.2 237.7h0M426.1 231.5h0M401.4 236.6h0M389.6 228.1h0M375.1 218.7h0M402.4 229.8h0M405.4 226.6h0M385.2 231.4h0M390.1 230.8h0M408.3 237.2h0M398.7 227.6h0M369.7 228.9h0M393.6 230.2h0M413.8 238.6h0M371.2 228.9h0M384.5 223.1h0M461.7 245h0M376.5 233.2h0M406.1 234.7h0M396.6 223.3h0M414.9 238.8h0M382.2 231.6h0M386.4 231h0M416.6 240.6h0M421.3 235.1h0M407.2 237h0M396 235.9h0M362.5 229.6h0M398.1 225.1h0M435.5 237.7h0M409.3 229.5h0M368.8 230h0M409.5 237.1h0M380.1 221.8h0M410.5 235.1h0M424.1 233h0M378.9 221.7h0M402 234.8h0M433.4 228.5h0M425.3 223.7h0M419.4 227.5h0M416.7 238.9h0M425.7 229.8h0M400 225.1h0M370.8 219.2h0M432 229.4h0M413.9 238.2h0M453.2 242.6h0M385.2 229.6h0M416.6 235.9h0M438.3 235h0M418 231.9h0M390.6 218.2h0M403.8 235.1h0M404.5 226.7h0M399.5 228h0M451.7 240.2h0M409.3 235.4h0M382.3 228.1h0M398.9 230h0M404.4 230.8h0M422.7 240.7h0M434.2 238.1h0M425.3 235.3h0M375.6 216h0M411.3 234.8h0M415.9 238h0M430.2 240.7h0M403.9 226.6h0M433 231.7h0M410.8 232.3h0M408 233.6h0M424.1 217.3h0M415.9 227.3h0M423.7 233.1h0M388.1 221.1h0M362.6 218.2h0M397.4 235.9h0M370.5 220.3h0M405.3 234.9h0M400.9 235.1h0M425.7 235h0M398.6 235h0M400.5 232.3h0M403.7 234.2h0M410 231.8h0M372.1 230.1h0M391.3 233.8h0M381.3 226.8h0M403.7 231.1h0M370.9 231.7h0M408.4 236.6h0M378 232.5h0M395.1 225h0M420.7 217.7h0M419 234.4h0M409.2 236.1h0M361.8 230.3h0M443.1 239.9h0M375.9 223.1h0M454.3 239.1h0M389.5 231.5h0M408.4 236.3h0M415.6 224.2h0M358.8 221.4h0M418.5 233.2h0M444.3 235.3h0M380.5 231.6h0M375.8 227.7h0M391 234h0M384.6 231.9h0M369.9 224.3h0M411.4 232.3h0M413.3 235.2h0M372.9 225.8h0M398.1 222h0M380.3 233.2h0M440.2 237h0M416.6 221h0M415 216.4h0M402.7 235.2h0M362.8 217.5h0M394.6 221.3h0M387.6 232.4h0M383.9 217.7h0M387.7 222.6h0M398.8 214.4h0M380.8 230h0M444.1 227.1h0M384.6 224.9h0M388.9 221.8h0M384.6 233h0M397.3 236.7h0M422.3 237h0M359.4 227.9h0M366.2 227.2h0M380.4 232.8h0M422.4 228.8h0M365.1 228.7h0M382.6 227.2h0M399.4 219h0M396.7 216.4h0M387.6 225.1h0M397.2 236.5h0M446.1 243.3h0M408.4 229.7h0M399 230h0M404 234.8h0M409.6 232.1h0M406.6 225.2h0M409.6 227.5h0M382.2 231.6h0M405.1 235h0M413.5 224.2h0M371.9 226.2h0M418.1 238.5h0M387.7 233.2h0M407.7 234.3h0M422.8 237h0M380.1 225.4h0M441.3 237.4h0M412.1 230.9h0M377.4 222.6h0M411.5 236h0M396.6 232.3h0M362.9 229.9h0M360 225.2h0M363 230h0M398.7 228.7h0M438.1 234.4h0M399.6 222.4h0M409.6 226.8h0M437.4 228.6h0M373 228.9h0M404.8 229.3h0M385.2 232h0M418.2 237.8h0M366.3 230.1h0M380.1 231.6h0M387.7 231.7h0M427.4 230.5h0M368.7 225.4h0M409.2 238.9h0M446.9 242.1h0M380.2 221.2h0M387.4 235h0M359.7 226.5h0M406.5 235.2h0M362.9 228h0M379.5 217.4h0M439 237.9h0M427.7 237.8h0M384.5 231.5h0M445.8 228.3h0M398.6 229h0M395.3 222.8h0M389.8 215.8h0M445 236.7h0M403.1 235.3h0M389.2 227.8h0M448.4 241.1h0M441.3 240.4h0M399.6 224.9h0M431.8 222.3h0M376.7 229.6h0M410.4 238.1h0M409.5 236.9h0M395.7 214.3h0M373 230.1h0M388.3 226.4h0M414.8 229.2h0M396.3 233.8h0M400.7 235.6h0M405.8 232.4h0M437.6 237h0M405.6 217.3h0M419.3 237.6h0M416.8 238h0M407.2 220.3h0M395.8 235.3h0M383.7 228.8h0M388.2 230.4h0M410.5 236h0M400.9 236h0M388.8 221.5h0M409.9 225.4h0M399.9 231.3h0" stroke="#e3191b" stroke-width="2.3" stroke-linecap="round" fill="none"/>
<path d="M411.9 264.8h0M459.3 263.1h0M424.8 265.2h0M450.1 265.5h0M410.5 265.8h0M429 264.7h0M485.7 256.4h0M454.9 263.3h0M476.4 257.7h0M450.8 262.9h0M394.4 266.7h0M395.3 265.7h0M445.9 268.5h0M401 266.3h0M462.7 266.4h0M408.1 267.5h0M476.9 257.2h0M445.2 266h0M466.1 267h0M446.4 265.9h0M429.9 267.8h0M401.2 264.7h0M485.3 258.3h0M428.7 268.5h0M424.1 265.2h0M400 265.4h0M448.3 271.5h0M463.4 263.5h0M392.8 267.4h0M474.2 258.9h0M391.2 268.6h0M469.6 263.8h0M392.5 268h0M407.6 269.3h0M427.5 266.3h0M434.8 267.6h0M399.9 265.7h0M440.7 267.6h0M478.9 256.5h0M470.8 261.9h0M393.8 268.5h0M458.3 265.6h0M484.1 256.9h0M415 267.3h0M440 266.7h0M434.3 265.7h0M391.5 267h0M460.4 264.3h0M393.8 265.6h0M403.5 268h0M418.7 265.6h0M405.4 266.9h0M417.5 265h0M458.8 264.3h0M412.3 264.9h0M444.4 264.6h0M473.4 257.7h0M435.6 264.5h0M454.5 262.9h0M468.3 261.8h0M451.6 268.7h0M397.1 265.6h0M446.7 264.4h0M428.2 266.2h0M468.2 260.9h0M463.2 261.8h0M470.8 261.1h0M445.6 269.7h0M468.1 262h0M453.1 263.2h0M349.9 318h0M379.9 319.6h0M392.4 320.3h0" stroke="#7ed44f" stroke-width="2.1" stroke-linecap="round" fill="none"/>
<rect x="342.8" y="193.5" width="147.2" height="130.7" fill="none" stroke="#111" stroke-width="1.2"/>
<line x1="342.8" y1="251.1" x2="490" y2="251.1" stroke="#222" stroke-width="1.2"/>
<line x1="339.5" y1="216.1" x2="342.8" y2="216.1" stroke="#111" stroke-width="1"/>
<text x="337.5" y="218.7" font-size="7.2" stroke="#222" stroke-width="0.0" text-anchor="end">5</text>
<line x1="339.5" y1="250.7" x2="342.8" y2="250.7" stroke="#111" stroke-width="1"/>
<text x="337.5" y="253.3" font-size="7.2" stroke="#222" stroke-width="0.0" text-anchor="end">0</text>
<line x1="339.5" y1="285.7" x2="342.8" y2="285.7" stroke="#111" stroke-width="1"/>
<text x="337.5" y="288.3" font-size="7.2" stroke="#222" stroke-width="0.0" text-anchor="end">-5</text>
<line x1="339.5" y1="320.7" x2="342.8" y2="320.7" stroke="#111" stroke-width="1"/>
<text x="337.5" y="323.3" font-size="7.2" stroke="#222" stroke-width="0.0" text-anchor="end">-10</text>
<line x1="352.2" y1="324.2" x2="352.2" y2="327.5" stroke="#111" stroke-width="1"/>
<text x="352.2" y="337.9" font-size="7.2" stroke="#222" stroke-width="0.0" text-anchor="middle">3</text>
<line x1="371.4" y1="324.2" x2="371.4" y2="327.5" stroke="#111" stroke-width="1"/>
<text x="371.4" y="337.9" font-size="7.2" stroke="#222" stroke-width="0.0" text-anchor="middle">4</text>
<line x1="390.6" y1="324.2" x2="390.6" y2="327.5" stroke="#111" stroke-width="1"/>
<text x="390.6" y="337.9" font-size="7.2" stroke="#222" stroke-width="0.0" text-anchor="middle">5</text>
<line x1="409.8" y1="324.2" x2="409.8" y2="327.5" stroke="#111" stroke-width="1"/>
<text x="409.8" y="337.9" font-size="7.2" stroke="#222" stroke-width="0.0" text-anchor="middle">6</text>
<line x1="429" y1="324.2" x2="429" y2="327.5" stroke="#111" stroke-width="1"/>
<text x="429" y="337.9" font-size="7.2" stroke="#222" stroke-width="0.0" text-anchor="middle">7</text>
<line x1="448.1" y1="324.2" x2="448.1" y2="327.5" stroke="#111" stroke-width="1"/>
<text x="448.1" y="337.9" font-size="7.2" stroke="#222" stroke-width="0.0" text-anchor="middle">8</text>
<line x1="467.3" y1="324.2" x2="467.3" y2="327.5" stroke="#111" stroke-width="1"/>
<text x="467.3" y="337.9" font-size="7.2" stroke="#222" stroke-width="0.0" text-anchor="middle">9</text>
<line x1="486.5" y1="324.2" x2="486.5" y2="327.5" stroke="#111" stroke-width="1"/>
<text x="486.5" y="337.9" font-size="7.2" stroke="#222" stroke-width="0.0" text-anchor="middle">10</text>
<text x="348.8" y="351" font-size="8.4" stroke="#222" stroke-width="0.1" textLength="135.8" lengthAdjust="spacingAndGlyphs">Average peak enrichment (log2 IP/input)</text>
<text x="306" y="258.1" font-size="9.6" stroke="#222" stroke-width="0.2" text-anchor="middle" textLength="85" lengthAdjust="spacingAndGlyphs" transform="rotate(-90 306 254.6)">Differential peak enrichment</text>
<text x="318" y="262.3" font-size="9.6" stroke="#222" stroke-width="0.2" text-anchor="middle" textLength="60.5" lengthAdjust="spacingAndGlyphs" transform="rotate(-90 318 258.8)">(log2 WT/Obf1KO)</text>
<text x="435" y="200.1" font-size="5.8" stroke="#e31a1c" stroke-width="0.0" textLength="32" lengthAdjust="spacingAndGlyphs" fill="#e31a1c">WT (n=739)</text>
<text x="435.3" y="205.8" font-size="6" fill="#6cb04a" textLength="52.4" lengthAdjust="spacingAndGlyphs" stroke="#6cb04a" stroke-width="0.0"><tspan font-style="italic">Pou2af1</tspan><tspan font-size="3.8" dy="-2.2">KO/KO</tspan><tspan dy="2.2"> (n=73)</tspan></text>
<text x="435" y="212.1" font-size="5.8" stroke="#bdbdbd" stroke-width="0.0" textLength="41.6" lengthAdjust="spacingAndGlyphs" fill="#bdbdbd">Other (n=6331)</text>
<text x="7.3999999999999995" y="381" font-size="14" font-weight="bold" fill="#000" textLength="10.7" lengthAdjust="spacingAndGlyphs">G</text>
<text x="53" y="407" font-size="10.6" fill="#111" textLength="62" lengthAdjust="spacingAndGlyphs" stroke="#111" stroke-width="0.0">Oct1 ChIP-seq</text>
<text x="159.6" y="414.6" font-size="7.2" stroke="#222" stroke-width="0.0" textLength="32.4" lengthAdjust="spacingAndGlyphs">739 peaks</text>
<text x="292.3" y="414.6" font-size="7.2" stroke="#222" stroke-width="0.0" textLength="28.7" lengthAdjust="spacingAndGlyphs">73 peaks</text>
<line x1="306.8" y1="418.5" x2="306.8" y2="425" stroke="#333" stroke-width="0.9"/>
<rect x="53.8" y="424.9" width="240.8" height="3.7" fill="#dd0000"/>
<rect x="294.6" y="424.9" width="23.1" height="3.7" fill="#7ccf3f"/>
<g filter="url(#hblur)">
<rect x="53.8" y="429.8" width="2.2" height="12.8" fill="#aecae6"/>
<rect x="55.8" y="429.8" width="4.2" height="12.8" fill="#9bbce0"/>
<rect x="59.8" y="429.8" width="2.7" height="12.8" fill="#d3e5f1"/>
<rect x="62.3" y="429.8" width="2.2" height="12.8" fill="#81a6d6"/>
<rect x="64.3" y="429.8" width="1.2" height="12.8" fill="#a8c6e4"/>
<rect x="65.3" y="429.8" width="2.7" height="12.8" fill="#a3c2e3"/>
<rect x="67.8" y="429.8" width="1.2" height="12.8" fill="#80a4d5"/>
<rect x="68.8" y="429.8" width="2.2" height="12.8" fill="#95b6dd"/>
<rect x="70.8" y="429.8" width="1.2" height="12.8" fill="#93b5dd"/>
<rect x="71.8" y="429.8" width="1.2" height="12.8" fill="#92b4dd"/>
<rect x="72.8" y="429.8" width="1.2" height="12.8" fill="#759bd1"/>
<rect x="73.8" y="429.8" width="1.7" height="12.8" fill="#5c83c3"/>
<rect x="75.3" y="429.8" width="2.7" height="12.8" fill="#aecae6"/>
<rect x="77.8" y="429.8" width="1.2" height="12.8" fill="#83a7d7"/>
<rect x="78.8" y="429.8" width="1.7" height="12.8" fill="#9cbce0"/>
<rect x="80.3" y="429.8" width="4.2" height="12.8" fill="#91b3dc"/>
<rect x="84.3" y="429.8" width="4.2" height="12.8" fill="#84a8d7"/>
<rect x="88.3" y="429.8" width="1.2" height="12.8" fill="#9bbce0"/>
<rect x="89.3" y="429.8" width="1.2" height="12.8" fill="#aecae6"/>
<rect x="90.3" y="429.8" width="1.2" height="12.8" fill="#aecae6"/>
<rect x="91.3" y="429.8" width="1.2" height="12.8" fill="#87aad8"/>
<rect x="92.3" y="429.8" width="2.2" height="12.8" fill="#7ea3d5"/>
<rect x="94.3" y="429.8" width="1.2" height="12.8" fill="#8dafda"/>
<rect x="95.3" y="429.8" width="3.2" height="12.8" fill="#a2c1e2"/>
<rect x="98.3" y="429.8" width="1.7" height="12.8" fill="#94b5dd"/>
<rect x="99.8" y="429.8" width="1.2" height="12.8" fill="#f8efc9"/>
<rect x="100.8" y="429.8" width="1.2" height="12.8" fill="#acc9e5"/>
<rect x="101.8" y="429.8" width="1.2" height="12.8" fill="#94b5dd"/>
<rect x="102.8" y="429.8" width="2.7" height="12.8" fill="#acc9e5"/>
<rect x="105.3" y="429.8" width="1.2" height="12.8" fill="#8cafda"/>
<rect x="106.3" y="429.8" width="2.2" height="12.8" fill="#a3c2e3"/>
<rect x="108.3" y="429.8" width="1.7" height="12.8" fill="#aac7e5"/>
<rect x="109.8" y="429.8" width="2.7" height="12.8" fill="#83a7d7"/>
<rect x="112.3" y="429.8" width="1.2" height="12.8" fill="#b5cfe8"/>
<rect x="113.3" y="429.8" width="2.7" height="12.8" fill="#bcd4ea"/>
<rect x="115.8" y="429.8" width="1.2" height="12.8" fill="#82a6d6"/>
<rect x="116.8" y="429.8" width="4.2" height="12.8" fill="#93b5dd"/>
<rect x="120.8" y="429.8" width="2.2" height="12.8" fill="#acc9e5"/>
<rect x="122.8" y="429.8" width="2.7" height="12.8" fill="#88abd8"/>
<rect x="125.3" y="429.8" width="1.7" height="12.8" fill="#5f86c5"/>
<rect x="126.8" y="429.8" width="2.7" height="12.8" fill="#96b7de"/>
<rect x="129.3" y="429.8" width="4.2" height="12.8" fill="#8baeda"/>
<rect x="133.3" y="429.8" width="1.7" height="12.8" fill="#98b9df"/>
<rect x="134.8" y="429.8" width="1.2" height="12.8" fill="#98b9de"/>
<rect x="135.8" y="429.8" width="3.2" height="12.8" fill="#8cafda"/>
<rect x="138.8" y="429.8" width="2.2" height="12.8" fill="#92b4dc"/>
<rect x="140.8" y="429.8" width="2.2" height="12.8" fill="#bdd5ea"/>
<rect x="142.8" y="429.8" width="2.7" height="12.8" fill="#a8c5e4"/>
<rect x="145.3" y="429.8" width="3.2" height="12.8" fill="#6991cd"/>
<rect x="148.3" y="429.8" width="2.7" height="12.8" fill="#7fa4d5"/>
<rect x="150.8" y="429.8" width="3.2" height="12.8" fill="#a6c4e3"/>
<rect x="153.8" y="429.8" width="2.2" height="12.8" fill="#96b7de"/>
<rect x="155.8" y="429.8" width="2.7" height="12.8" fill="#bbd4ea"/>
<rect x="158.3" y="429.8" width="1.2" height="12.8" fill="#8baeda"/>
<rect x="159.3" y="429.8" width="2.2" height="12.8" fill="#759bd1"/>
<rect x="161.3" y="429.8" width="1.2" height="12.8" fill="#7da2d4"/>
<rect x="162.3" y="429.8" width="1.2" height="12.8" fill="#a2c2e2"/>
<rect x="163.3" y="429.8" width="2.2" height="12.8" fill="#b8d1e9"/>
<rect x="165.3" y="429.8" width="3.2" height="12.8" fill="#87aad8"/>
<rect x="168.3" y="429.8" width="2.7" height="12.8" fill="#a6c4e3"/>
<rect x="170.8" y="429.8" width="1.7" height="12.8" fill="#7298d0"/>
<rect x="172.3" y="429.8" width="1.2" height="12.8" fill="#8cafda"/>
<rect x="173.3" y="429.8" width="1.2" height="12.8" fill="#9abbdf"/>
<rect x="174.3" y="429.8" width="1.2" height="12.8" fill="#a0c0e2"/>
<rect x="175.3" y="429.8" width="3.2" height="12.8" fill="#c5daec"/>
<rect x="178.3" y="429.8" width="3.2" height="12.8" fill="#82a6d6"/>
<rect x="181.3" y="429.8" width="1.7" height="12.8" fill="#678fcb"/>
<rect x="182.8" y="429.8" width="1.2" height="12.8" fill="#e5ebe0"/>
<rect x="183.8" y="429.8" width="4.2" height="12.8" fill="#a5c4e3"/>
<rect x="187.8" y="429.8" width="1.2" height="12.8" fill="#8fb2db"/>
<rect x="188.8" y="429.8" width="2.7" height="12.8" fill="#b2cde7"/>
<rect x="191.3" y="429.8" width="1.2" height="12.8" fill="#7097cf"/>
<rect x="192.3" y="429.8" width="2.2" height="12.8" fill="#9cbce0"/>
<rect x="194.3" y="429.8" width="3.2" height="12.8" fill="#9dbde1"/>
<rect x="197.3" y="429.8" width="2.2" height="12.8" fill="#93b5dd"/>
<rect x="199.3" y="429.8" width="4.2" height="12.8" fill="#88abd8"/>
<rect x="203.3" y="429.8" width="1.2" height="12.8" fill="#9ebee1"/>
<rect x="204.3" y="429.8" width="3.2" height="12.8" fill="#b9d2e9"/>
<rect x="207.3" y="429.8" width="3.2" height="12.8" fill="#a8c5e4"/>
<rect x="210.3" y="429.8" width="1.2" height="12.8" fill="#a6c4e3"/>
<rect x="211.3" y="429.8" width="2.7" height="12.8" fill="#a1c1e2"/>
<rect x="213.8" y="429.8" width="1.7" height="12.8" fill="#a3c2e3"/>
<rect x="215.3" y="429.8" width="1.2" height="12.8" fill="#a6c4e3"/>
<rect x="216.3" y="429.8" width="1.2" height="12.8" fill="#7ca1d4"/>
<rect x="217.3" y="429.8" width="4.2" height="12.8" fill="#b0cbe6"/>
<rect x="221.3" y="429.8" width="2.2" height="12.8" fill="#a7c5e4"/>
<rect x="223.3" y="429.8" width="1.2" height="12.8" fill="#cee2ef"/>
<rect x="224.3" y="429.8" width="4.2" height="12.8" fill="#84a8d7"/>
<rect x="228.3" y="429.8" width="1.2" height="12.8" fill="#95b6dd"/>
<rect x="229.3" y="429.8" width="1.2" height="12.8" fill="#9cbce0"/>
<rect x="230.3" y="429.8" width="1.2" height="12.8" fill="#bad2e9"/>
<rect x="231.3" y="429.8" width="2.7" height="12.8" fill="#a1c1e2"/>
<rect x="233.8" y="429.8" width="4.2" height="12.8" fill="#b1cce7"/>
<rect x="237.8" y="429.8" width="1.7" height="12.8" fill="#a9c7e4"/>
<rect x="239.3" y="429.8" width="4.2" height="12.8" fill="#7da2d4"/>
<rect x="243.3" y="429.8" width="1.7" height="12.8" fill="#93b5dd"/>
<rect x="244.8" y="429.8" width="4.2" height="12.8" fill="#8baeda"/>
<rect x="248.8" y="429.8" width="2.2" height="12.8" fill="#86aad8"/>
<rect x="250.8" y="429.8" width="4.2" height="12.8" fill="#c3d9ec"/>
<rect x="254.8" y="429.8" width="4.2" height="12.8" fill="#abc8e5"/>
<rect x="258.8" y="429.8" width="2.2" height="12.8" fill="#b8d2e9"/>
<rect x="260.8" y="429.8" width="3.2" height="12.8" fill="#a2c1e2"/>
<rect x="263.8" y="429.8" width="3.2" height="12.8" fill="#a5c3e3"/>
<rect x="266.8" y="429.8" width="1.7" height="12.8" fill="#a0c0e2"/>
<rect x="268.3" y="429.8" width="2.2" height="12.8" fill="#97b8de"/>
<rect x="270.3" y="429.8" width="1.2" height="12.8" fill="#a0c0e2"/>
<rect x="271.3" y="429.8" width="3.2" height="12.8" fill="#b1cce7"/>
<rect x="274.3" y="429.8" width="4.2" height="12.8" fill="#afcbe6"/>
<rect x="278.3" y="429.8" width="3.2" height="12.8" fill="#7ea3d5"/>
<rect x="281.3" y="429.8" width="3.2" height="12.8" fill="#f3eecf"/>
<rect x="284.3" y="429.8" width="1.2" height="12.8" fill="#80a5d6"/>
<rect x="285.3" y="429.8" width="2.2" height="12.8" fill="#96b7de"/>
<rect x="287.3" y="429.8" width="2.7" height="12.8" fill="#7ea3d5"/>
<rect x="289.8" y="429.8" width="2.2" height="12.8" fill="#82a6d6"/>
<rect x="291.8" y="429.8" width="1.2" height="12.8" fill="#86a9d8"/>
<rect x="292.8" y="429.8" width="2" height="12.8" fill="#8cafda"/>
<rect x="53.8" y="429.8" width="8.2" height="12.8" fill="#8fb1db"/>
<rect x="68" y="429.8" width="2" height="12.8" fill="#e7925d"/>
<rect x="74" y="429.8" width="6" height="12.8" fill="#c2d9ec"/>
<rect x="80" y="429.8" width="4" height="12.8" fill="#9bbce0"/>
<rect x="84" y="429.8" width="16" height="12.8" fill="#93b5dd"/>
<rect x="122" y="429.8" width="13" height="12.8" fill="#c8dded"/>
<rect x="137" y="429.8" width="2" height="12.8" fill="#f9edc4"/>
<rect x="159" y="429.8" width="2" height="12.8" fill="#f9ecc1"/>
<rect x="197" y="429.8" width="9" height="12.8" fill="#d1e4f0"/>
<rect x="206" y="429.8" width="2" height="12.8" fill="#f9efc7"/>
<rect x="233" y="429.8" width="6" height="12.8" fill="#80a5d6"/>
<rect x="241" y="429.8" width="3" height="12.8" fill="#e3eae3"/>
<rect x="255" y="429.8" width="8" height="12.8" fill="#a8c6e4"/>
<rect x="53.8" y="442.6" width="2.2" height="12.7" fill="#c1d8eb"/>
<rect x="55.8" y="442.6" width="4.2" height="12.7" fill="#bad3e9"/>
<rect x="59.8" y="442.6" width="2.7" height="12.7" fill="#acc9e5"/>
<rect x="62.3" y="442.6" width="2.2" height="12.7" fill="#9ebee1"/>
<rect x="64.3" y="442.6" width="1.2" height="12.7" fill="#8aadd9"/>
<rect x="65.3" y="442.6" width="2.7" height="12.7" fill="#b6d0e8"/>
<rect x="67.8" y="442.6" width="1.2" height="12.7" fill="#9abbdf"/>
<rect x="68.8" y="442.6" width="2.2" height="12.7" fill="#84a8d7"/>
<rect x="70.8" y="442.6" width="1.2" height="12.7" fill="#88abd8"/>
<rect x="71.8" y="442.6" width="1.2" height="12.7" fill="#c0d7eb"/>
<rect x="72.8" y="442.6" width="1.2" height="12.7" fill="#bcd4ea"/>
<rect x="73.8" y="442.6" width="1.7" height="12.7" fill="#9abbe0"/>
<rect x="75.3" y="442.6" width="2.7" height="12.7" fill="#b4cee7"/>
<rect x="77.8" y="442.6" width="1.2" height="12.7" fill="#cadfee"/>
<rect x="78.8" y="442.6" width="1.7" height="12.7" fill="#cce0ee"/>
<rect x="80.3" y="442.6" width="4.2" height="12.7" fill="#d3e5f0"/>
<rect x="84.3" y="442.6" width="4.2" height="12.7" fill="#b9d2e9"/>
<rect x="88.3" y="442.6" width="1.2" height="12.7" fill="#9fbfe1"/>
<rect x="89.3" y="442.6" width="1.2" height="12.7" fill="#c4daec"/>
<rect x="90.3" y="442.6" width="1.2" height="12.7" fill="#95b7dd"/>
<rect x="91.3" y="442.6" width="1.2" height="12.7" fill="#c5daec"/>
<rect x="92.3" y="442.6" width="2.2" height="12.7" fill="#a7c5e4"/>
<rect x="94.3" y="442.6" width="1.2" height="12.7" fill="#c2d9ec"/>
<rect x="95.3" y="442.6" width="3.2" height="12.7" fill="#abc8e5"/>
<rect x="98.3" y="442.6" width="1.7" height="12.7" fill="#cee1ef"/>
<rect x="99.8" y="442.6" width="1.2" height="12.7" fill="#b8d1e9"/>
<rect x="100.8" y="442.6" width="1.2" height="12.7" fill="#e9ecdb"/>
<rect x="101.8" y="442.6" width="1.2" height="12.7" fill="#8fb2db"/>
<rect x="102.8" y="442.6" width="2.7" height="12.7" fill="#a1c1e2"/>
<rect x="105.3" y="442.6" width="1.2" height="12.7" fill="#9dbde1"/>
<rect x="106.3" y="442.6" width="2.2" height="12.7" fill="#b6d0e8"/>
<rect x="108.3" y="442.6" width="1.7" height="12.7" fill="#c6dced"/>
<rect x="109.8" y="442.6" width="2.7" height="12.7" fill="#97b8de"/>
<rect x="112.3" y="442.6" width="1.2" height="12.7" fill="#d9e8ef"/>
<rect x="113.3" y="442.6" width="2.7" height="12.7" fill="#abc8e5"/>
<rect x="115.8" y="442.6" width="1.2" height="12.7" fill="#b6d0e8"/>
<rect x="116.8" y="442.6" width="4.2" height="12.7" fill="#a8c6e4"/>
<rect x="120.8" y="442.6" width="2.2" height="12.7" fill="#bfd7eb"/>
<rect x="122.8" y="442.6" width="2.7" height="12.7" fill="#bcd4ea"/>
<rect x="125.3" y="442.6" width="1.7" height="12.7" fill="#96b7de"/>
<rect x="126.8" y="442.6" width="2.7" height="12.7" fill="#a9c7e4"/>
<rect x="129.3" y="442.6" width="4.2" height="12.7" fill="#bad2e9"/>
<rect x="133.3" y="442.6" width="1.7" height="12.7" fill="#acc8e5"/>
<rect x="134.8" y="442.6" width="1.2" height="12.7" fill="#c3d9ec"/>
<rect x="135.8" y="442.6" width="3.2" height="12.7" fill="#98b9df"/>
<rect x="138.8" y="442.6" width="2.2" height="12.7" fill="#b7d0e8"/>
<rect x="140.8" y="442.6" width="2.2" height="12.7" fill="#c0d7eb"/>
<rect x="142.8" y="442.6" width="2.7" height="12.7" fill="#acc8e5"/>
<rect x="145.3" y="442.6" width="3.2" height="12.7" fill="#97b8de"/>
<rect x="148.3" y="442.6" width="2.7" height="12.7" fill="#a8c5e4"/>
<rect x="150.8" y="442.6" width="3.2" height="12.7" fill="#d8e8ef"/>
<rect x="153.8" y="442.6" width="2.2" height="12.7" fill="#85a9d7"/>
<rect x="155.8" y="442.6" width="2.7" height="12.7" fill="#d5e6f1"/>
<rect x="158.3" y="442.6" width="1.2" height="12.7" fill="#bad3e9"/>
<rect x="159.3" y="442.6" width="2.2" height="12.7" fill="#f6efcc"/>
<rect x="161.3" y="442.6" width="1.2" height="12.7" fill="#c6dced"/>
<rect x="162.3" y="442.6" width="1.2" height="12.7" fill="#a6c4e3"/>
<rect x="163.3" y="442.6" width="2.2" height="12.7" fill="#cbdfee"/>
<rect x="165.3" y="442.6" width="3.2" height="12.7" fill="#759bd1"/>
<rect x="168.3" y="442.6" width="2.7" height="12.7" fill="#a7c5e4"/>
<rect x="170.8" y="442.6" width="1.7" height="12.7" fill="#92b4dc"/>
<rect x="172.3" y="442.6" width="1.2" height="12.7" fill="#8eb1db"/>
<rect x="173.3" y="442.6" width="1.2" height="12.7" fill="#b9d2e9"/>
<rect x="174.3" y="442.6" width="1.2" height="12.7" fill="#bed6ea"/>
<rect x="175.3" y="442.6" width="3.2" height="12.7" fill="#f8efc9"/>
<rect x="178.3" y="442.6" width="3.2" height="12.7" fill="#b1cce7"/>
<rect x="181.3" y="442.6" width="1.7" height="12.7" fill="#dde9e9"/>
<rect x="182.8" y="442.6" width="1.2" height="12.7" fill="#e4ebe1"/>
<rect x="183.8" y="442.6" width="4.2" height="12.7" fill="#dbe9ec"/>
<rect x="187.8" y="442.6" width="1.2" height="12.7" fill="#82a7d6"/>
<rect x="188.8" y="442.6" width="2.7" height="12.7" fill="#a0c0e2"/>
<rect x="191.3" y="442.6" width="1.2" height="12.7" fill="#84a8d7"/>
<rect x="192.3" y="442.6" width="2.2" height="12.7" fill="#b6d0e8"/>
<rect x="194.3" y="442.6" width="3.2" height="12.7" fill="#bfd6eb"/>
<rect x="197.3" y="442.6" width="2.2" height="12.7" fill="#c1d8eb"/>
<rect x="199.3" y="442.6" width="4.2" height="12.7" fill="#a1c1e2"/>
<rect x="203.3" y="442.6" width="1.2" height="12.7" fill="#aac7e5"/>
<rect x="204.3" y="442.6" width="3.2" height="12.7" fill="#f8efca"/>
<rect x="207.3" y="442.6" width="3.2" height="12.7" fill="#c2d8eb"/>
<rect x="210.3" y="442.6" width="1.2" height="12.7" fill="#9ebfe1"/>
<rect x="211.3" y="442.6" width="2.7" height="12.7" fill="#cfe2ef"/>
<rect x="213.8" y="442.6" width="1.7" height="12.7" fill="#b5cfe8"/>
<rect x="215.3" y="442.6" width="1.2" height="12.7" fill="#b0cbe6"/>
<rect x="216.3" y="442.6" width="1.2" height="12.7" fill="#bed5ea"/>
<rect x="217.3" y="442.6" width="4.2" height="12.7" fill="#eaecda"/>
<rect x="221.3" y="442.6" width="2.2" height="12.7" fill="#86aad8"/>
<rect x="223.3" y="442.6" width="1.2" height="12.7" fill="#c1d8eb"/>
<rect x="224.3" y="442.6" width="4.2" height="12.7" fill="#9abbe0"/>
<rect x="228.3" y="442.6" width="1.2" height="12.7" fill="#e1eae5"/>
<rect x="229.3" y="442.6" width="1.2" height="12.7" fill="#95b7dd"/>
<rect x="230.3" y="442.6" width="1.2" height="12.7" fill="#bbd4ea"/>
<rect x="231.3" y="442.6" width="2.7" height="12.7" fill="#c6dced"/>
<rect x="233.8" y="442.6" width="4.2" height="12.7" fill="#c8dded"/>
<rect x="237.8" y="442.6" width="1.7" height="12.7" fill="#cbdfee"/>
<rect x="239.3" y="442.6" width="4.2" height="12.7" fill="#9bbce0"/>
<rect x="243.3" y="442.6" width="1.7" height="12.7" fill="#9dbde0"/>
<rect x="244.8" y="442.6" width="4.2" height="12.7" fill="#ededd7"/>
<rect x="248.8" y="442.6" width="2.2" height="12.7" fill="#dbe9ec"/>
<rect x="250.8" y="442.6" width="4.2" height="12.7" fill="#95b7dd"/>
<rect x="254.8" y="442.6" width="4.2" height="12.7" fill="#afcbe6"/>
<rect x="258.8" y="442.6" width="2.2" height="12.7" fill="#a5c4e3"/>
<rect x="260.8" y="442.6" width="3.2" height="12.7" fill="#acc9e5"/>
<rect x="263.8" y="442.6" width="3.2" height="12.7" fill="#b6d0e8"/>
<rect x="266.8" y="442.6" width="1.7" height="12.7" fill="#aecae6"/>
<rect x="268.3" y="442.6" width="2.2" height="12.7" fill="#97b9de"/>
<rect x="270.3" y="442.6" width="1.2" height="12.7" fill="#cfe2ef"/>
<rect x="271.3" y="442.6" width="3.2" height="12.7" fill="#aecae6"/>
<rect x="274.3" y="442.6" width="4.2" height="12.7" fill="#c8dded"/>
<rect x="278.3" y="442.6" width="3.2" height="12.7" fill="#a2c1e2"/>
<rect x="281.3" y="442.6" width="3.2" height="12.7" fill="#88acd9"/>
<rect x="284.3" y="442.6" width="1.2" height="12.7" fill="#86aad8"/>
<rect x="285.3" y="442.6" width="2.2" height="12.7" fill="#6e95cf"/>
<rect x="287.3" y="442.6" width="2.7" height="12.7" fill="#cee1ef"/>
<rect x="289.8" y="442.6" width="2.2" height="12.7" fill="#b7d0e8"/>
<rect x="291.8" y="442.6" width="1.2" height="12.7" fill="#9dbde1"/>
<rect x="292.8" y="442.6" width="2" height="12.7" fill="#c8dded"/>
<rect x="53.8" y="442.6" width="8.2" height="12.7" fill="#e2eae4"/>
<rect x="68" y="442.6" width="2" height="12.7" fill="#c8dded"/>
<rect x="74" y="442.6" width="6" height="12.7" fill="#7ba0d4"/>
<rect x="80" y="442.6" width="4" height="12.7" fill="#e0eae6"/>
<rect x="84" y="442.6" width="16" height="12.7" fill="#9dbde1"/>
<rect x="122" y="442.6" width="13" height="12.7" fill="#95b7de"/>
<rect x="137" y="442.6" width="2" height="12.7" fill="#cadeee"/>
<rect x="159" y="442.6" width="2" height="12.7" fill="#6991cd"/>
<rect x="197" y="442.6" width="9" height="12.7" fill="#80a5d5"/>
<rect x="206" y="442.6" width="2" height="12.7" fill="#d4e6f1"/>
<rect x="233" y="442.6" width="6" height="12.7" fill="#91b3dc"/>
<rect x="241" y="442.6" width="3" height="12.7" fill="#9bbce0"/>
<rect x="255" y="442.6" width="8" height="12.7" fill="#cce0ee"/>
<rect x="53.8" y="455.3" width="2.2" height="13.2" fill="#e58e5b"/>
<rect x="55.8" y="455.3" width="4.2" height="13.2" fill="#e18454"/>
<rect x="59.8" y="455.3" width="2.7" height="13.2" fill="#d3623e"/>
<rect x="62.3" y="455.3" width="2.2" height="13.2" fill="#eba36b"/>
<rect x="64.3" y="455.3" width="1.2" height="13.2" fill="#e89660"/>
<rect x="65.3" y="455.3" width="2.7" height="13.2" fill="#e18453"/>
<rect x="67.8" y="455.3" width="1.2" height="13.2" fill="#dd784b"/>
<rect x="68.8" y="455.3" width="2.2" height="13.2" fill="#dd784c"/>
<rect x="70.8" y="455.3" width="1.2" height="13.2" fill="#e68e5b"/>
<rect x="71.8" y="455.3" width="1.2" height="13.2" fill="#e6905c"/>
<rect x="72.8" y="455.3" width="1.2" height="13.2" fill="#e7925d"/>
<rect x="73.8" y="455.3" width="1.7" height="13.2" fill="#e07f50"/>
<rect x="75.3" y="455.3" width="2.7" height="13.2" fill="#dc784b"/>
<rect x="77.8" y="455.3" width="1.2" height="13.2" fill="#e28655"/>
<rect x="78.8" y="455.3" width="1.7" height="13.2" fill="#e8945f"/>
<rect x="80.3" y="455.3" width="4.2" height="13.2" fill="#e18353"/>
<rect x="84.3" y="455.3" width="4.2" height="13.2" fill="#de7b4e"/>
<rect x="88.3" y="455.3" width="1.2" height="13.2" fill="#e7925e"/>
<rect x="89.3" y="455.3" width="1.2" height="13.2" fill="#e28655"/>
<rect x="90.3" y="455.3" width="1.2" height="13.2" fill="#de7c4e"/>
<rect x="91.3" y="455.3" width="1.2" height="13.2" fill="#e28655"/>
<rect x="92.3" y="455.3" width="2.2" height="13.2" fill="#e18252"/>
<rect x="94.3" y="455.3" width="1.2" height="13.2" fill="#d76941"/>
<rect x="95.3" y="455.3" width="3.2" height="13.2" fill="#e38857"/>
<rect x="98.3" y="455.3" width="1.7" height="13.2" fill="#eead72"/>
<rect x="99.8" y="455.3" width="1.2" height="13.2" fill="#e28655"/>
<rect x="100.8" y="455.3" width="1.2" height="13.2" fill="#dc774b"/>
<rect x="101.8" y="455.3" width="1.2" height="13.2" fill="#e28554"/>
<rect x="102.8" y="455.3" width="2.7" height="13.2" fill="#dc764a"/>
<rect x="105.3" y="455.3" width="1.2" height="13.2" fill="#e7925e"/>
<rect x="106.3" y="455.3" width="2.2" height="13.2" fill="#db7448"/>
<rect x="108.3" y="455.3" width="1.7" height="13.2" fill="#eca66d"/>
<rect x="109.8" y="455.3" width="2.7" height="13.2" fill="#d3623e"/>
<rect x="112.3" y="455.3" width="1.2" height="13.2" fill="#ce593b"/>
<rect x="113.3" y="455.3" width="2.7" height="13.2" fill="#e48a58"/>
<rect x="115.8" y="455.3" width="1.2" height="13.2" fill="#e8945f"/>
<rect x="116.8" y="455.3" width="4.2" height="13.2" fill="#de7b4d"/>
<rect x="120.8" y="455.3" width="2.2" height="13.2" fill="#e38856"/>
<rect x="122.8" y="455.3" width="2.7" height="13.2" fill="#e38857"/>
<rect x="125.3" y="455.3" width="1.7" height="13.2" fill="#df7d4f"/>
<rect x="126.8" y="455.3" width="2.7" height="13.2" fill="#dd7a4c"/>
<rect x="129.3" y="455.3" width="4.2" height="13.2" fill="#db7449"/>
<rect x="133.3" y="455.3" width="1.7" height="13.2" fill="#e7935e"/>
<rect x="134.8" y="455.3" width="1.2" height="13.2" fill="#e6915d"/>
<rect x="135.8" y="455.3" width="3.2" height="13.2" fill="#e38957"/>
<rect x="138.8" y="455.3" width="2.2" height="13.2" fill="#e58e5b"/>
<rect x="140.8" y="455.3" width="2.2" height="13.2" fill="#e08051"/>
<rect x="142.8" y="455.3" width="2.7" height="13.2" fill="#e08151"/>
<rect x="145.3" y="455.3" width="3.2" height="13.2" fill="#de7a4d"/>
<rect x="148.3" y="455.3" width="2.7" height="13.2" fill="#e08051"/>
<rect x="150.8" y="455.3" width="3.2" height="13.2" fill="#e08252"/>
<rect x="153.8" y="455.3" width="2.2" height="13.2" fill="#e7935e"/>
<rect x="155.8" y="455.3" width="2.7" height="13.2" fill="#de7b4d"/>
<rect x="158.3" y="455.3" width="1.2" height="13.2" fill="#e08051"/>
<rect x="159.3" y="455.3" width="2.2" height="13.2" fill="#ea9d66"/>
<rect x="161.3" y="455.3" width="1.2" height="13.2" fill="#db7549"/>
<rect x="162.3" y="455.3" width="1.2" height="13.2" fill="#e38756"/>
<rect x="163.3" y="455.3" width="2.2" height="13.2" fill="#e48a58"/>
<rect x="165.3" y="455.3" width="3.2" height="13.2" fill="#dc774b"/>
<rect x="168.3" y="455.3" width="2.7" height="13.2" fill="#e18353"/>
<rect x="170.8" y="455.3" width="1.7" height="13.2" fill="#ea9e67"/>
<rect x="172.3" y="455.3" width="1.2" height="13.2" fill="#dd794c"/>
<rect x="173.3" y="455.3" width="1.2" height="13.2" fill="#e68f5b"/>
<rect x="174.3" y="455.3" width="1.2" height="13.2" fill="#db7549"/>
<rect x="175.3" y="455.3" width="3.2" height="13.2" fill="#df7d4f"/>
<rect x="178.3" y="455.3" width="3.2" height="13.2" fill="#e18353"/>
<rect x="181.3" y="455.3" width="1.7" height="13.2" fill="#e18253"/>
<rect x="182.8" y="455.3" width="1.2" height="13.2" fill="#e7925d"/>
<rect x="183.8" y="455.3" width="4.2" height="13.2" fill="#ce593b"/>
<rect x="187.8" y="455.3" width="1.2" height="13.2" fill="#e99b64"/>
<rect x="188.8" y="455.3" width="2.7" height="13.2" fill="#e28454"/>
<rect x="191.3" y="455.3" width="1.2" height="13.2" fill="#e99a64"/>
<rect x="192.3" y="455.3" width="2.2" height="13.2" fill="#e18252"/>
<rect x="194.3" y="455.3" width="3.2" height="13.2" fill="#e08152"/>
<rect x="197.3" y="455.3" width="2.2" height="13.2" fill="#da7247"/>
<rect x="199.3" y="455.3" width="4.2" height="13.2" fill="#dc764a"/>
<rect x="203.3" y="455.3" width="1.2" height="13.2" fill="#e7935e"/>
<rect x="204.3" y="455.3" width="3.2" height="13.2" fill="#db7348"/>
<rect x="207.3" y="455.3" width="3.2" height="13.2" fill="#e48957"/>
<rect x="210.3" y="455.3" width="1.2" height="13.2" fill="#e08051"/>
<rect x="211.3" y="455.3" width="2.7" height="13.2" fill="#df7e4f"/>
<rect x="213.8" y="455.3" width="1.7" height="13.2" fill="#eca76e"/>
<rect x="215.3" y="455.3" width="1.2" height="13.2" fill="#dc764a"/>
<rect x="216.3" y="455.3" width="1.2" height="13.2" fill="#e58e5b"/>
<rect x="217.3" y="455.3" width="4.2" height="13.2" fill="#e48b58"/>
<rect x="221.3" y="455.3" width="2.2" height="13.2" fill="#dd7a4d"/>
<rect x="223.3" y="455.3" width="1.2" height="13.2" fill="#dc764a"/>
<rect x="224.3" y="455.3" width="4.2" height="13.2" fill="#e6905c"/>
<rect x="228.3" y="455.3" width="1.2" height="13.2" fill="#d05d3c"/>
<rect x="229.3" y="455.3" width="1.2" height="13.2" fill="#e58e5b"/>
<rect x="230.3" y="455.3" width="1.2" height="13.2" fill="#de7b4e"/>
<rect x="231.3" y="455.3" width="2.7" height="13.2" fill="#e89762"/>
<rect x="233.8" y="455.3" width="4.2" height="13.2" fill="#e48c59"/>
<rect x="237.8" y="455.3" width="1.7" height="13.2" fill="#e38856"/>
<rect x="239.3" y="455.3" width="4.2" height="13.2" fill="#e6905c"/>
<rect x="243.3" y="455.3" width="1.7" height="13.2" fill="#e28655"/>
<rect x="244.8" y="455.3" width="4.2" height="13.2" fill="#e08152"/>
<rect x="248.8" y="455.3" width="2.2" height="13.2" fill="#de7b4e"/>
<rect x="250.8" y="455.3" width="4.2" height="13.2" fill="#d97045"/>
<rect x="254.8" y="455.3" width="4.2" height="13.2" fill="#e6915d"/>
<rect x="258.8" y="455.3" width="2.2" height="13.2" fill="#e08152"/>
<rect x="260.8" y="455.3" width="3.2" height="13.2" fill="#e89762"/>
<rect x="263.8" y="455.3" width="3.2" height="13.2" fill="#d56640"/>
<rect x="266.8" y="455.3" width="1.7" height="13.2" fill="#e38957"/>
<rect x="268.3" y="455.3" width="2.2" height="13.2" fill="#dd794c"/>
<rect x="270.3" y="455.3" width="1.2" height="13.2" fill="#e18353"/>
<rect x="271.3" y="455.3" width="3.2" height="13.2" fill="#e18353"/>
<rect x="274.3" y="455.3" width="4.2" height="13.2" fill="#dd794c"/>
<rect x="278.3" y="455.3" width="3.2" height="13.2" fill="#e48b59"/>
<rect x="281.3" y="455.3" width="3.2" height="13.2" fill="#d97046"/>
<rect x="284.3" y="455.3" width="1.2" height="13.2" fill="#e38856"/>
<rect x="285.3" y="455.3" width="2.2" height="13.2" fill="#e48b59"/>
<rect x="287.3" y="455.3" width="2.7" height="13.2" fill="#eba069"/>
<rect x="289.8" y="455.3" width="2.2" height="13.2" fill="#d5653f"/>
<rect x="291.8" y="455.3" width="1.2" height="13.2" fill="#e48c59"/>
<rect x="292.8" y="455.3" width="2" height="13.2" fill="#e48a58"/>
<rect x="53.8" y="455.3" width="8.2" height="13.2" fill="#e99862"/>
<rect x="68" y="455.3" width="2" height="13.2" fill="#f9ecc2"/>
<rect x="74" y="455.3" width="6" height="13.2" fill="#edaa70"/>
<rect x="80" y="455.3" width="4" height="13.2" fill="#d96f45"/>
<rect x="84" y="455.3" width="16" height="13.2" fill="#da7146"/>
<rect x="122" y="455.3" width="13" height="13.2" fill="#e6905c"/>
<rect x="137" y="455.3" width="2" height="13.2" fill="#f7dba4"/>
<rect x="159" y="455.3" width="2" height="13.2" fill="#f0b679"/>
<rect x="197" y="455.3" width="9" height="13.2" fill="#de7c4e"/>
<rect x="206" y="455.3" width="2" height="13.2" fill="#efb176"/>
<rect x="233" y="455.3" width="6" height="13.2" fill="#e89560"/>
<rect x="241" y="455.3" width="3" height="13.2" fill="#f8e6b7"/>
<rect x="255" y="455.3" width="8" height="13.2" fill="#e48a58"/>
<rect x="53.8" y="468.5" width="2.2" height="12.5" fill="#e89761"/>
<rect x="55.8" y="468.5" width="4.2" height="12.5" fill="#e28655"/>
<rect x="59.8" y="468.5" width="2.7" height="12.5" fill="#d96e44"/>
<rect x="62.3" y="468.5" width="2.2" height="12.5" fill="#e7925d"/>
<rect x="64.3" y="468.5" width="1.2" height="12.5" fill="#e48a58"/>
<rect x="65.3" y="468.5" width="2.7" height="12.5" fill="#f1bc7e"/>
<rect x="67.8" y="468.5" width="1.2" height="12.5" fill="#eca66d"/>
<rect x="68.8" y="468.5" width="2.2" height="12.5" fill="#e99862"/>
<rect x="70.8" y="468.5" width="1.2" height="12.5" fill="#eca56c"/>
<rect x="71.8" y="468.5" width="1.2" height="12.5" fill="#e99b64"/>
<rect x="72.8" y="468.5" width="1.2" height="12.5" fill="#eca56c"/>
<rect x="73.8" y="468.5" width="1.7" height="12.5" fill="#e7915d"/>
<rect x="75.3" y="468.5" width="2.7" height="12.5" fill="#de7b4d"/>
<rect x="77.8" y="468.5" width="1.2" height="12.5" fill="#e58e5b"/>
<rect x="78.8" y="468.5" width="1.7" height="12.5" fill="#dc774b"/>
<rect x="80.3" y="468.5" width="4.2" height="12.5" fill="#e28755"/>
<rect x="84.3" y="468.5" width="4.2" height="12.5" fill="#d96e44"/>
<rect x="88.3" y="468.5" width="1.2" height="12.5" fill="#eca66d"/>
<rect x="89.3" y="468.5" width="1.2" height="12.5" fill="#e08252"/>
<rect x="90.3" y="468.5" width="1.2" height="12.5" fill="#eda86f"/>
<rect x="91.3" y="468.5" width="1.2" height="12.5" fill="#eead72"/>
<rect x="92.3" y="468.5" width="2.2" height="12.5" fill="#e7925d"/>
<rect x="94.3" y="468.5" width="1.2" height="12.5" fill="#da7247"/>
<rect x="95.3" y="468.5" width="3.2" height="12.5" fill="#e99a63"/>
<rect x="98.3" y="468.5" width="1.7" height="12.5" fill="#dd794c"/>
<rect x="99.8" y="468.5" width="1.2" height="12.5" fill="#eca66d"/>
<rect x="100.8" y="468.5" width="1.2" height="12.5" fill="#df7d4f"/>
<rect x="101.8" y="468.5" width="1.2" height="12.5" fill="#e99962"/>
<rect x="102.8" y="468.5" width="2.7" height="12.5" fill="#e7925d"/>
<rect x="105.3" y="468.5" width="1.2" height="12.5" fill="#df7e4f"/>
<rect x="106.3" y="468.5" width="2.2" height="12.5" fill="#e08051"/>
<rect x="108.3" y="468.5" width="1.7" height="12.5" fill="#f3c283"/>
<rect x="109.8" y="468.5" width="2.7" height="12.5" fill="#df7e4f"/>
<rect x="112.3" y="468.5" width="1.2" height="12.5" fill="#dd794c"/>
<rect x="113.3" y="468.5" width="2.7" height="12.5" fill="#e99a64"/>
<rect x="115.8" y="468.5" width="1.2" height="12.5" fill="#e18453"/>
<rect x="116.8" y="468.5" width="4.2" height="12.5" fill="#eead73"/>
<rect x="120.8" y="468.5" width="2.2" height="12.5" fill="#e99c65"/>
<rect x="122.8" y="468.5" width="2.7" height="12.5" fill="#eda96f"/>
<rect x="125.3" y="468.5" width="1.7" height="12.5" fill="#f9e9bc"/>
<rect x="126.8" y="468.5" width="2.7" height="12.5" fill="#e18353"/>
<rect x="129.3" y="468.5" width="4.2" height="12.5" fill="#ea9d66"/>
<rect x="133.3" y="468.5" width="1.7" height="12.5" fill="#e89761"/>
<rect x="134.8" y="468.5" width="1.2" height="12.5" fill="#e89762"/>
<rect x="135.8" y="468.5" width="3.2" height="12.5" fill="#e58e5a"/>
<rect x="138.8" y="468.5" width="2.2" height="12.5" fill="#ea9e67"/>
<rect x="140.8" y="468.5" width="2.2" height="12.5" fill="#ea9c65"/>
<rect x="142.8" y="468.5" width="2.7" height="12.5" fill="#f8deaa"/>
<rect x="145.3" y="468.5" width="3.2" height="12.5" fill="#e89761"/>
<rect x="148.3" y="468.5" width="2.7" height="12.5" fill="#de7b4d"/>
<rect x="150.8" y="468.5" width="3.2" height="12.5" fill="#e48a58"/>
<rect x="153.8" y="468.5" width="2.2" height="12.5" fill="#eba36b"/>
<rect x="155.8" y="468.5" width="2.7" height="12.5" fill="#e6905c"/>
<rect x="158.3" y="468.5" width="1.2" height="12.5" fill="#f2bf81"/>
<rect x="159.3" y="468.5" width="2.2" height="12.5" fill="#f1bc7f"/>
<rect x="161.3" y="468.5" width="1.2" height="12.5" fill="#ea9e67"/>
<rect x="162.3" y="468.5" width="1.2" height="12.5" fill="#eba26a"/>
<rect x="163.3" y="468.5" width="2.2" height="12.5" fill="#eba26a"/>
<rect x="165.3" y="468.5" width="3.2" height="12.5" fill="#eeae74"/>
<rect x="168.3" y="468.5" width="2.7" height="12.5" fill="#e89660"/>
<rect x="170.8" y="468.5" width="1.7" height="12.5" fill="#f4c787"/>
<rect x="172.3" y="468.5" width="1.2" height="12.5" fill="#eba36b"/>
<rect x="173.3" y="468.5" width="1.2" height="12.5" fill="#edaa70"/>
<rect x="174.3" y="468.5" width="1.2" height="12.5" fill="#df7e4f"/>
<rect x="175.3" y="468.5" width="3.2" height="12.5" fill="#e38756"/>
<rect x="178.3" y="468.5" width="3.2" height="12.5" fill="#f3c283"/>
<rect x="181.3" y="468.5" width="1.7" height="12.5" fill="#e7935e"/>
<rect x="182.8" y="468.5" width="1.2" height="12.5" fill="#eca56c"/>
<rect x="183.8" y="468.5" width="4.2" height="12.5" fill="#f0b77a"/>
<rect x="187.8" y="468.5" width="1.2" height="12.5" fill="#e7925d"/>
<rect x="188.8" y="468.5" width="2.7" height="12.5" fill="#e08051"/>
<rect x="191.3" y="468.5" width="1.2" height="12.5" fill="#f2bc7f"/>
<rect x="192.3" y="468.5" width="2.2" height="12.5" fill="#eca76e"/>
<rect x="194.3" y="468.5" width="3.2" height="12.5" fill="#e89560"/>
<rect x="197.3" y="468.5" width="2.2" height="12.5" fill="#f0b67a"/>
<rect x="199.3" y="468.5" width="4.2" height="12.5" fill="#efb176"/>
<rect x="203.3" y="468.5" width="1.2" height="12.5" fill="#e7925e"/>
<rect x="204.3" y="468.5" width="3.2" height="12.5" fill="#e28756"/>
<rect x="207.3" y="468.5" width="3.2" height="12.5" fill="#e28655"/>
<rect x="210.3" y="468.5" width="1.2" height="12.5" fill="#ea9e67"/>
<rect x="211.3" y="468.5" width="2.7" height="12.5" fill="#e38957"/>
<rect x="213.8" y="468.5" width="1.7" height="12.5" fill="#eeaf74"/>
<rect x="215.3" y="468.5" width="1.2" height="12.5" fill="#eeb075"/>
<rect x="216.3" y="468.5" width="1.2" height="12.5" fill="#efb075"/>
<rect x="217.3" y="468.5" width="4.2" height="12.5" fill="#eda970"/>
<rect x="221.3" y="468.5" width="2.2" height="12.5" fill="#dd7a4c"/>
<rect x="223.3" y="468.5" width="1.2" height="12.5" fill="#e48a58"/>
<rect x="224.3" y="468.5" width="4.2" height="12.5" fill="#e28655"/>
<rect x="228.3" y="468.5" width="1.2" height="12.5" fill="#e58c59"/>
<rect x="229.3" y="468.5" width="1.2" height="12.5" fill="#db7549"/>
<rect x="230.3" y="468.5" width="1.2" height="12.5" fill="#eca56d"/>
<rect x="231.3" y="468.5" width="2.7" height="12.5" fill="#eaa068"/>
<rect x="233.8" y="468.5" width="4.2" height="12.5" fill="#eeb075"/>
<rect x="237.8" y="468.5" width="1.7" height="12.5" fill="#e99963"/>
<rect x="239.3" y="468.5" width="4.2" height="12.5" fill="#ea9d66"/>
<rect x="243.3" y="468.5" width="1.7" height="12.5" fill="#dd784b"/>
<rect x="244.8" y="468.5" width="4.2" height="12.5" fill="#edab71"/>
<rect x="248.8" y="468.5" width="2.2" height="12.5" fill="#f5ca89"/>
<rect x="250.8" y="468.5" width="4.2" height="12.5" fill="#e99b64"/>
<rect x="254.8" y="468.5" width="4.2" height="12.5" fill="#db7549"/>
<rect x="258.8" y="468.5" width="2.2" height="12.5" fill="#ea9d66"/>
<rect x="260.8" y="468.5" width="3.2" height="12.5" fill="#e99963"/>
<rect x="263.8" y="468.5" width="3.2" height="12.5" fill="#ea9d66"/>
<rect x="266.8" y="468.5" width="1.7" height="12.5" fill="#e18353"/>
<rect x="268.3" y="468.5" width="2.2" height="12.5" fill="#e68f5c"/>
<rect x="270.3" y="468.5" width="1.2" height="12.5" fill="#e18453"/>
<rect x="271.3" y="468.5" width="3.2" height="12.5" fill="#eeaf74"/>
<rect x="274.3" y="468.5" width="4.2" height="12.5" fill="#e08051"/>
<rect x="278.3" y="468.5" width="3.2" height="12.5" fill="#eead73"/>
<rect x="281.3" y="468.5" width="3.2" height="12.5" fill="#e28454"/>
<rect x="284.3" y="468.5" width="1.2" height="12.5" fill="#e89660"/>
<rect x="285.3" y="468.5" width="2.2" height="12.5" fill="#e58d5a"/>
<rect x="287.3" y="468.5" width="2.7" height="12.5" fill="#efb176"/>
<rect x="289.8" y="468.5" width="2.2" height="12.5" fill="#e6905c"/>
<rect x="291.8" y="468.5" width="1.2" height="12.5" fill="#efb277"/>
<rect x="292.8" y="468.5" width="2" height="12.5" fill="#ea9f68"/>
<rect x="53.8" y="468.5" width="8.2" height="12.5" fill="#f0b478"/>
<rect x="68" y="468.5" width="2" height="12.5" fill="#a9c6e4"/>
<rect x="74" y="468.5" width="6" height="12.5" fill="#f6d092"/>
<rect x="80" y="468.5" width="4" height="12.5" fill="#f7daa3"/>
<rect x="84" y="468.5" width="16" height="12.5" fill="#f7dba4"/>
<rect x="122" y="468.5" width="13" height="12.5" fill="#eca66d"/>
<rect x="137" y="468.5" width="2" height="12.5" fill="#f6d091"/>
<rect x="159" y="468.5" width="2" height="12.5" fill="#f1b97c"/>
<rect x="197" y="468.5" width="9" height="12.5" fill="#e8945f"/>
<rect x="206" y="468.5" width="2" height="12.5" fill="#f4c888"/>
<rect x="233" y="468.5" width="6" height="12.5" fill="#e99b64"/>
<rect x="241" y="468.5" width="3" height="12.5" fill="#eba26a"/>
<rect x="255" y="468.5" width="8" height="12.5" fill="#eba36b"/>
<rect x="294.6" y="429.8" width="2.2" height="12.8" fill="#e68f5b"/>
<rect x="294.6" y="442.6" width="2.2" height="12.7" fill="#eba36b"/>
<rect x="294.6" y="455.3" width="2.2" height="13.2" fill="#b2cde7"/>
<rect x="294.6" y="468.5" width="2.2" height="12.5" fill="#b0cbe6"/>
<rect x="296.6" y="429.8" width="1.7" height="12.8" fill="#e99862"/>
<rect x="296.6" y="442.6" width="1.7" height="12.7" fill="#e7935e"/>
<rect x="296.6" y="455.3" width="1.7" height="13.2" fill="#a2c1e2"/>
<rect x="296.6" y="468.5" width="1.7" height="12.5" fill="#acc8e5"/>
<rect x="298.1" y="429.8" width="1.7" height="12.8" fill="#e89560"/>
<rect x="298.1" y="442.6" width="1.7" height="12.7" fill="#e48a58"/>
<rect x="298.1" y="455.3" width="1.7" height="13.2" fill="#a2c1e2"/>
<rect x="298.1" y="468.5" width="1.7" height="12.5" fill="#aac7e5"/>
<rect x="299.6" y="429.8" width="3.2" height="12.8" fill="#e99b64"/>
<rect x="299.6" y="442.6" width="3.2" height="12.7" fill="#e89761"/>
<rect x="299.6" y="455.3" width="3.2" height="13.2" fill="#9dbee1"/>
<rect x="299.6" y="468.5" width="3.2" height="12.5" fill="#afcbe6"/>
<rect x="302.6" y="429.8" width="1.7" height="12.8" fill="#e48a58"/>
<rect x="302.6" y="442.6" width="1.7" height="12.7" fill="#eba26a"/>
<rect x="302.6" y="455.3" width="1.7" height="13.2" fill="#a2c1e2"/>
<rect x="302.6" y="468.5" width="1.7" height="12.5" fill="#aecae6"/>
<rect x="304.1" y="429.8" width="3.2" height="12.8" fill="#e48c59"/>
<rect x="304.1" y="442.6" width="3.2" height="12.7" fill="#e99b64"/>
<rect x="304.1" y="455.3" width="3.2" height="13.2" fill="#a5c3e3"/>
<rect x="304.1" y="468.5" width="3.2" height="12.5" fill="#b6d0e8"/>
<rect x="307.1" y="429.8" width="1.7" height="12.8" fill="#e18454"/>
<rect x="307.1" y="442.6" width="1.7" height="12.7" fill="#e28454"/>
<rect x="307.1" y="455.3" width="1.7" height="13.2" fill="#a7c5e4"/>
<rect x="307.1" y="468.5" width="1.7" height="12.5" fill="#9fbfe1"/>
<rect x="308.6" y="429.8" width="1.7" height="12.8" fill="#e28756"/>
<rect x="308.6" y="442.6" width="1.7" height="12.7" fill="#f0b579"/>
<rect x="308.6" y="455.3" width="1.7" height="13.2" fill="#a2c2e2"/>
<rect x="308.6" y="468.5" width="1.7" height="12.5" fill="#bcd4ea"/>
<rect x="310.1" y="429.8" width="1.7" height="12.8" fill="#e99b65"/>
<rect x="310.1" y="442.6" width="1.7" height="12.7" fill="#e99862"/>
<rect x="310.1" y="455.3" width="1.7" height="13.2" fill="#b5cfe8"/>
<rect x="310.1" y="468.5" width="1.7" height="12.5" fill="#b9d2e9"/>
<rect x="311.6" y="429.8" width="2.2" height="12.8" fill="#e68f5c"/>
<rect x="311.6" y="442.6" width="2.2" height="12.7" fill="#e28555"/>
<rect x="311.6" y="455.3" width="2.2" height="13.2" fill="#b1cce7"/>
<rect x="311.6" y="468.5" width="2.2" height="12.5" fill="#b2cde7"/>
<rect x="313.6" y="429.8" width="2.2" height="12.8" fill="#ea9f68"/>
<rect x="313.6" y="442.6" width="2.2" height="12.7" fill="#e7935e"/>
<rect x="313.6" y="455.3" width="2.2" height="13.2" fill="#b0cbe6"/>
<rect x="313.6" y="468.5" width="2.2" height="12.5" fill="#a8c6e4"/>
<rect x="315.6" y="429.8" width="2.3" height="12.8" fill="#e7925d"/>
<rect x="315.6" y="442.6" width="2.3" height="12.7" fill="#e58e5a"/>
<rect x="315.6" y="455.3" width="2.3" height="13.2" fill="#9dbee1"/>
<rect x="315.6" y="468.5" width="2.3" height="12.5" fill="#b3cee7"/>
</g>
<path d="M53.8 477.8V481.4H294.6V477.8" fill="none" stroke="#333" stroke-width="1"/>
<rect x="325" y="428.8" width="5.4" height="52.4" fill="url(#hm)" stroke="#666" stroke-width="0.4"/>
<text x="333.4" y="438.4" font-size="7.2" stroke="#222" stroke-width="0.0">1</text>
<text x="333.4" y="457.6" font-size="7.2" stroke="#222" stroke-width="0.0">0</text>
<text x="333.4" y="476.9" font-size="7.2" stroke="#222" stroke-width="0.0">-1</text>
<text x="8" y="444.9" font-size="7.8" font-style="italic" textLength="42" lengthAdjust="spacingAndGlyphs" stroke="#222" stroke-width="0.0">Pou2af1<tspan font-size="5" dy="-3.2">KO/KO</tspan></text>
<text x="23" y="470.8" font-size="7.8" stroke="#222" stroke-width="0.08" textLength="10.5" lengthAdjust="spacingAndGlyphs">WT</text>
<text x="64.6" y="494.2" font-size="7.4" stroke="#222" stroke-width="0.1" textLength="36.9" lengthAdjust="spacingAndGlyphs">GO analysis</text>
<line x1="106.2" y1="484.8" x2="106.2" y2="540.8" stroke="#555" stroke-width="1.4"/>
<text x="110.2" y="494.3" font-size="7.7" stroke="#2a2a2a" stroke-width="0.0" textLength="80.5" lengthAdjust="spacingAndGlyphs" fill="#2a2a2a">leukocyte differentiation</text>
<text x="265.2" y="494.3" font-size="7.7" stroke="#2a2a2a" stroke-width="0.1" textLength="24.6" lengthAdjust="spacingAndGlyphs" fill="#2a2a2a">1.2E-14</text>
<text x="110.2" y="505.3" font-size="7.7" stroke="#2a2a2a" stroke-width="0.1" textLength="67.5" lengthAdjust="spacingAndGlyphs" fill="#2a2a2a">lymphocyte activation</text>
<text x="265.2" y="505.3" font-size="7.7" stroke="#2a2a2a" stroke-width="0.1" textLength="24.6" lengthAdjust="spacingAndGlyphs" fill="#2a2a2a">2.4E-13</text>
<text x="110.2" y="516.3" font-size="7.7" stroke="#2a2a2a" stroke-width="0.1" textLength="87.3" lengthAdjust="spacingAndGlyphs" fill="#2a2a2a">immune system development</text>
<text x="265.2" y="516.3" font-size="7.7" stroke="#2a2a2a" stroke-width="0.1" textLength="24.6" lengthAdjust="spacingAndGlyphs" fill="#2a2a2a">3.5E-12</text>
<text x="110.2" y="527.3" font-size="7.7" stroke="#2a2a2a" stroke-width="0.1" textLength="49.5" lengthAdjust="spacingAndGlyphs" fill="#2a2a2a">B cell activation</text>
<text x="265.2" y="527.3" font-size="7.7" stroke="#2a2a2a" stroke-width="0.1" textLength="24.6" lengthAdjust="spacingAndGlyphs" fill="#2a2a2a">1.4E-11</text>
<text x="110.2" y="538.3" font-size="7.7" stroke="#2a2a2a" stroke-width="0.1" textLength="146.1" lengthAdjust="spacingAndGlyphs" fill="#2a2a2a">positive regulation of immune system process</text>
<text x="265.2" y="538.3" font-size="7.7" stroke="#2a2a2a" stroke-width="0.1" textLength="24.6" lengthAdjust="spacingAndGlyphs" fill="#2a2a2a">4.9E-10</text>
<text x="357.2" y="381" font-size="14" font-weight="bold" fill="#000" textLength="9.5" lengthAdjust="spacingAndGlyphs">H</text>
<text x="457.3" y="381.5" font-size="9.6" stroke="#111" stroke-width="0.0" text-anchor="middle" textLength="99.3" lengthAdjust="spacingAndGlyphs" fill="#111">OCT1 peaks decreased</text>
<text x="408.6" y="393.2" font-size="9.6" fill="#111" textLength="98.4" lengthAdjust="spacingAndGlyphs" stroke="#111" stroke-width="0.0">in <tspan font-style="italic">Pou2af1</tspan><tspan font-style="italic" font-size="6.4" dy="-3.6">KO/KO</tspan><tspan dy="3.6"> B cells</tspan></text>
<text x="426" y="404.6" font-size="9.6" fill="#111" textLength="62.6" lengthAdjust="spacingAndGlyphs" stroke="#111" stroke-width="0.0"><tspan font-style="italic">P</tspan> = 0.0005715</text>
<line x1="410.4" y1="410.4" x2="410.4" y2="512.9" stroke="#111" stroke-width="1.2"/>
<line x1="409.8" y1="512.4" x2="503.9" y2="512.4" stroke="#111" stroke-width="1.2"/>
<line x1="457.2" y1="410.4" x2="457.2" y2="512.4" stroke="#111" stroke-width="1"/>
<line x1="407" y1="509" x2="410.4" y2="509" stroke="#111" stroke-width="1"/>
<text x="405.5" y="511.6" font-size="7.2" stroke="#222" stroke-width="0.0" text-anchor="end">2</text>
<line x1="407" y1="485.4" x2="410.4" y2="485.4" stroke="#111" stroke-width="1"/>
<text x="405.5" y="488" font-size="7.2" stroke="#222" stroke-width="0.0" text-anchor="end">4</text>
<line x1="407" y1="461.8" x2="410.4" y2="461.8" stroke="#111" stroke-width="1"/>
<text x="405.5" y="464.4" font-size="7.2" stroke="#222" stroke-width="0.0" text-anchor="end">6</text>
<line x1="407" y1="438" x2="410.4" y2="438" stroke="#111" stroke-width="1"/>
<text x="405.5" y="440.6" font-size="7.2" stroke="#222" stroke-width="0.0" text-anchor="end">8</text>
<line x1="407" y1="414.3" x2="410.4" y2="414.3" stroke="#111" stroke-width="1"/>
<text x="405.5" y="416.9" font-size="7.2" stroke="#222" stroke-width="0.0" text-anchor="end">10</text>
<line x1="414.3" y1="512.4" x2="414.3" y2="515.6" stroke="#111" stroke-width="1"/>
<text x="414.3" y="525.3" font-size="7.2" stroke="#222" stroke-width="0.0" text-anchor="middle">-3000</text>
<line x1="457.2" y1="512.4" x2="457.2" y2="515.6" stroke="#111" stroke-width="1"/>
<text x="457.2" y="525.3" font-size="7.2" stroke="#222" stroke-width="0.0" text-anchor="middle">0</text>
<line x1="500.4" y1="512.4" x2="500.4" y2="515.6" stroke="#111" stroke-width="1"/>
<text x="500.4" y="525.3" font-size="7.2" stroke="#222" stroke-width="0.0" text-anchor="middle">3000</text>
<text x="416.3" y="538.1" font-size="8.6" stroke="#222" stroke-width="0.1" textLength="81.2" lengthAdjust="spacingAndGlyphs">Distance to peak summit</text>
<text x="375.4" y="465.8" font-size="8.6" stroke="#222" stroke-width="0.1" text-anchor="middle" textLength="31" lengthAdjust="spacingAndGlyphs" transform="rotate(-90 375.4 462.7)">H3K27ac</text>
<text x="387.4" y="465.8" font-size="8.6" stroke="#222" stroke-width="0.1" text-anchor="middle" textLength="80" lengthAdjust="spacingAndGlyphs" transform="rotate(-90 387.4 462.7)">norm. number of reads</text>
<path d="M414.3 507.8L414.7 508L415.2 508L415.8 507.6L416.4 507.5L417.1 507.3L417.8 507.3L418.5 507.3L419.1 506.9L419.7 506.6L420.4 506.9L421.1 506.9L421.7 507L422.4 506.5L423.1 506.4L423.7 506.5L424.2 506L424.8 506.1L425.4 506L426 505.2L426.5 504.6L427.1 504.4L427.7 504.5L428.3 504L428.8 503.6L429.4 503.3L430 502.8L430.6 502.5L431.2 502.2L431.7 501.9L432.3 501.2L432.7 500.8L433 500.4L433.4 500.1L433.7 499.7L434.1 499.1L434.4 499.1L434.8 498.7L435.2 498.2L435.5 497.4L435.9 497.2L436.2 496.6L436.6 495.4L436.9 494.5L437.1 494.3L437.3 494L437.4 493.7L437.6 493L437.8 492.7L437.9 492.2L438.1 491.4L438.3 490.9L438.4 490.6L438.6 490.2L438.8 489.4L439 488.8L439.1 487.8L439.3 487.1L439.5 486.8L439.6 486.2L439.8 485.3L440 484.8L440.1 484.3L440.3 483.7L440.5 483.1L440.6 482.4L440.8 481.7L440.9 481.2L441.1 480.5L441.2 479.8L441.4 479.1L441.5 478.4L441.7 477.8L441.8 477.4L441.9 476.9L442 476.4L442.1 475.8L442.2 475.1L442.3 474.6L442.4 474.2L442.5 473.6L442.6 473L442.7 472.5L442.8 471.8L442.9 471.2L443 470.7L443.1 470.1L443.2 469.5L443.3 468.8L443.4 468.2L443.5 467.7L443.6 467L443.7 466.4L443.8 465.9L443.9 465.3L444 464.7L444.1 464.1L444.2 463.4L444.3 462.8L444.4 462.1L444.5 461.4L444.6 460.9L444.6 460.2L444.7 459.5L444.8 458.9L444.9 458.3L445 457.7L445.1 457.1L445.2 456.5L445.2 455.9L445.3 455.3L445.4 454.7L445.5 454L445.6 453.3L445.6 452.7L445.7 452.1L445.8 451.6L445.9 451L445.9 450.4L446 449.8L446.1 449L446.2 448.4L446.2 447.8L446.3 447L446.4 446.2L446.4 445.5L446.5 445L446.6 444.4L446.7 443.7L446.7 443.1L446.8 442.5L446.9 441.8L446.9 441.2L447 440.6L447.1 440L447.1 439.4L447.2 438.9L447.3 438.3L447.4 437.7L447.4 437.2L447.5 436.5L447.6 436L447.6 435.5L447.7 435L447.8 434.5L447.9 433.8L448 433L448.1 432.2L448.2 431.5L448.3 430.9L448.5 430L448.6 429.2L448.7 428.6L448.8 428L448.9 427.3L449 426.8L449.1 426.2L449.2 425.6L449.3 425L449.5 424.5L449.6 424L449.7 423.5L449.8 422.9L449.9 422.5L450 422L450.1 421.6L450.2 421.1L450.3 420.8L450.7 419.4L451.1 418.5L451.5 417.9L451.9 417.6L452.3 417.3L452.6 417.4L452.9 417.5L453.1 417.9L453.4 418.4L453.6 418.9L453.8 419.5L454 420.1L454.2 421.1L454.5 421.8L454.6 422.4L454.7 423.1L454.8 423.6L454.9 424.2L455 424.9L455.2 425.7L455.3 426.4L455.4 427L455.5 427.7L455.6 428.3L455.7 428.9L455.8 429.6L455.9 430.2L456 430.6L456.1 431L456.3 432.1L456.5 433.1L456.7 433.9L456.8 434.4L457 434.8L457.2 434.7L457.4 434.4L457.5 433.9L457.6 433.5L457.8 433L457.9 432.4L458.1 431.6L458.2 430.8L458.4 430L458.6 429.3L458.7 428.6L458.9 427.7L459 427.2L459.1 426.6L459.2 426L459.3 425.4L459.4 424.6L459.5 424L459.6 423.2L459.7 422.5L459.8 421.9L459.9 421.2L460.1 420.6L460.2 420.1L460.3 419.6L460.4 419L460.5 418.4L460.7 417.5L460.9 416.7L461.1 415.9L461.3 415.4L461.4 414.9L461.6 414.4L461.9 414.3L462.1 414.4L462.3 414.6L462.5 415.1L462.7 415.9L463 416.7L463.2 417.6L463.5 418.5L463.6 419L463.7 419.5L463.8 419.9L463.9 420.3L464 420.8L464.1 421.2L464.3 421.8L464.4 422.5L464.5 423.1L464.6 423.8L464.7 424.5L464.9 425.2L465 426L465.2 426.9L465.3 427.7L465.4 428.2L465.5 428.6L465.5 429L465.6 429.7L465.7 430.1L465.8 430.6L465.9 431.3L465.9 431.9L466 432.4L466.1 433L466.2 433.6L466.3 434.3L466.4 434.9L466.5 435.6L466.6 436.2L466.6 437L466.7 437.7L466.8 438.2L466.9 438.8L467 439.5L467.1 440L467.2 440.7L467.3 441.3L467.4 441.9L467.5 442.7L467.6 443.2L467.7 443.9L467.8 444.5L467.9 445L468 445.5L468.1 446.2L468.2 446.9L468.3 447.7L468.5 448.2L468.6 448.8L468.7 449.4L468.9 450.2L469 450.8L469.1 451.5L469.3 452.1L469.4 452.6L469.6 453.3L469.7 453.8L469.8 454.4L470 454.9L470.1 455.5L470.3 456.3L470.4 456.8L470.6 457.4L470.7 458L470.8 458.6L471 459.1L471.1 459.6L471.3 460.1L471.4 460.6L471.5 461.2L471.7 461.9L471.9 462.5L472.1 463.1L472.3 463.7L472.5 464.3L472.7 464.9L472.8 465.4L473 465.8L473.2 466.4L473.4 466.9L473.6 467.5L473.8 467.9L474 468.4L474.2 469.1L474.4 469.6L474.6 470.3L474.8 470.9L475 471.8L475.2 472L475.4 472.6L475.6 473.4L475.8 473.6L476 474.5L476.2 474.8L476.3 475.7L476.6 476.6L476.8 477.2L477 477.5L477.2 477.8L477.4 478.5L477.6 479.4L477.8 479.8L478 480.6L478.2 480.9L478.5 481.8L478.7 481.9L478.9 482.4L479.2 483.3L479.4 484L479.6 484.7L479.9 485.4L480.2 485.9L480.5 486.4L480.8 486.6L481.1 487.1L481.4 487.4L481.7 488.2L482 488.9L482.4 489.2L482.7 489.4L483 490.4L483.3 491.1L483.7 491.5L484 491.9L484.3 492.5L484.7 492.8L485 493.1L485.4 493.4L485.8 493.7L486.3 494L486.7 494.7L487.2 495.2L487.7 495.7L488.2 495.8L488.7 496.2L489.2 496.5L489.7 496.7L490.1 497.1L490.6 497.9L491.1 498.2L491.5 498.5L491.9 498.9L492.3 499.1L492.9 499.3L493.5 499.9L494.1 500.4L494.6 500.9L495.1 501.3L495.6 501.7L496 502.2L496.5 502.3L496.9 502.7L497.4 503.1L498 503.4L498.5 504L498.9 504.6L499.4 505.4L499.8 506L500.1 506L500.4 506.3" fill="none" stroke="#d42a2a" stroke-width="1.35"/>
<path d="M414.3 508.8L414.7 508.9L415.2 508.3L415.8 507.8L416.4 508L417.1 508L417.8 507.9L418.5 507.6L419.1 507.5L419.7 507.5L420.4 507.4L421.1 507.1L421.7 507L422.4 506.9L423.1 506.9L423.7 507.1L424.2 507L424.8 506.6L425.4 506.2L426 505.8L426.5 505.2L427.1 504.7L427.7 504.7L428.3 504.4L428.8 504.2L429.4 504.3L430 503.9L430.6 503.6L431.2 503L431.7 502.3L432.3 501.9L432.7 501.4L433.1 501.3L433.6 501.4L434 501.1L434.4 500.4L434.8 500.3L435.2 499.9L435.7 499.4L436.1 499L436.5 498.2L436.9 497.4L437.1 496.7L437.3 496.5L437.5 496.2L437.7 495.3L437.9 494.9L438.1 494.5L438.3 493.8L438.5 493.2L438.7 492.6L438.9 492.3L439.1 491.6L439.3 491.2L439.5 490.3L439.7 489.9L439.9 489.5L440.1 488.4L440.3 487.8L440.5 487.2L440.7 486.5L440.8 485.8L441 485.1L441.2 484.4L441.4 483.8L441.5 483L441.7 482.6L441.8 482L441.9 481.5L442 480.9L442.2 480.4L442.3 479.9L442.4 479.2L442.5 478.6L442.7 478L442.8 477.4L442.9 476.7L443 476L443.1 475.5L443.2 474.9L443.3 474.3L443.4 473.6L443.6 473L443.7 472.4L443.8 471.9L443.9 471.1L444 470.5L444.1 469.8L444.2 469.3L444.3 468.6L444.4 468L444.5 467.5L444.6 466.8L444.7 466.3L444.8 465.8L444.9 465.1L445 464.5L445.1 464L445.2 463.3L445.4 462.7L445.5 461.9L445.6 461.3L445.7 460.6L445.8 460L445.9 459.3L446.1 458.8L446.2 458.1L446.3 457.5L446.4 456.8L446.5 456.2L446.6 455.7L446.7 455L446.8 454.4L446.9 453.9L447 453.3L447.1 452.7L447.2 452.3L447.4 451.7L447.5 451.1L447.6 450.5L447.7 450.1L447.8 449.6L447.9 448.8L448.1 448.1L448.2 447.3L448.4 446.6L448.5 446L448.7 445.4L448.8 444.8L449 444.1L449.1 443.5L449.3 442.9L449.4 442.3L449.6 441.6L449.7 441.1L449.9 440.6L450 440L450.2 439.6L450.3 439.3L450.7 438.1L451.1 437.3L451.5 436.5L451.9 436.1L452.3 435.7L452.6 435.8L452.9 435.9L453.2 436.3L453.4 436.8L453.7 437.3L454 438.1L454.2 438.8L454.5 439.5L454.7 440.2L454.9 440.8L455 441.4L455.2 442.1L455.3 442.8L455.5 443.6L455.7 444.4L455.8 445.1L455.9 445.7L456.1 446.3L456.2 446.8L456.3 447.3L456.5 448.4L456.7 449.4L456.9 450.2L457 450.7L457.2 450.8L457.4 450.6L457.5 450.2L457.7 449.6L457.9 449.1L458 448.3L458.2 447.7L458.4 446.9L458.6 446L458.7 445.5L458.9 444.9L459 444.3L459.2 443.7L459.3 443.1L459.4 442.4L459.6 441.8L459.7 441.1L459.9 440.5L460 439.9L460.2 439.3L460.3 438.7L460.5 438.1L460.7 437.4L460.9 436.5L461.1 435.8L461.3 435.1L461.5 434.4L461.7 433.8L461.9 433.4L462.1 433.1L462.3 433L462.6 433.1L462.8 433.4L463.1 433.8L463.4 434.5L463.6 435.2L463.9 435.9L464.2 436.9L464.3 437.3L464.4 437.8L464.5 438.4L464.7 438.9L464.8 439.4L464.9 440L465.1 440.6L465.2 441.2L465.3 441.8L465.5 442.5L465.6 443.1L465.8 443.8L465.9 444.6L466.1 445.4L466.2 446.1L466.3 446.7L466.5 447.1L466.6 447.7L466.7 448.3L466.8 448.9L466.9 449.5L467.1 450.1L467.2 450.6L467.3 451.2L467.5 451.8L467.6 452.6L467.7 453.3L467.9 454L468 454.6L468.1 455.1L468.3 455.8L468.4 456.5L468.5 457.1L468.7 457.7L468.8 458.3L469 458.9L469.1 459.5L469.2 460L469.4 460.6L469.6 461.3L469.7 462L469.9 462.6L470 463.2L470.2 463.8L470.4 464.3L470.5 464.8L470.7 465.4L470.9 465.9L471 466.5L471.2 467.1L471.4 467.8L471.6 468.3L471.7 468.9L471.9 469.3L472.1 469.9L472.3 470.5L472.5 471L472.7 471.5L472.9 472L473.2 472.6L473.4 473.3L473.6 474L473.9 474.6L474.1 475.1L474.4 475.6L474.6 476.1L474.9 476.8L475.1 477.5L475.4 478L475.6 478.5L475.9 478.8L476.2 479.5L476.5 480.5L476.7 481.1L477 481.3L477.3 481.9L477.6 482.6L477.9 482.9L478.1 483.8L478.4 484.3L478.7 485L478.9 485.4L479.2 486.3L479.5 486.9L479.8 487.4L480.1 487.6L480.4 488.1L480.7 488.4L481 489.1L481.3 490L481.6 490.2L482 490.8L482.3 491.3L482.7 491.8L483.1 492.4L483.5 493.1L483.9 493.6L484.4 493.8L484.9 494.5L485.4 494.6L485.9 495.1L486.4 495.5L487 496L487.5 496.5L488 496.4L488.6 496.8L489.1 497.1L489.6 497.5L490.1 498.1L490.6 498.4L491.1 498.2L491.5 498.5L491.9 499L492.3 499.6L493 500.1L493.6 500.6L494.1 500.6L494.5 501.3L495 501.7L495.4 502L495.8 502.6L496.2 503L496.5 502.8L496.9 503.4L497.4 504L498 504.1L498.5 504.8L498.9 505.3L499.4 505.5L499.8 506.2L500.1 506.2L500.4 506.6" fill="none" stroke="#6fb83a" stroke-width="1.35"/>
<line x1="468.8" y1="416.3" x2="475" y2="416.3" stroke="#d42a2a" stroke-width="1.7"/>
<line x1="468.8" y1="422.7" x2="475" y2="422.7" stroke="#74b84a" stroke-width="1.7"/>
<text x="478.5" y="418.4" font-size="6.2" stroke="#d42a2a" stroke-width="0.0" textLength="9.5" lengthAdjust="spacingAndGlyphs" fill="#d42a2a">WT</text>
<text x="478.5" y="425" font-size="6.6" fill="#74b84a" font-style="italic" textLength="33.5" lengthAdjust="spacingAndGlyphs" stroke="#74b84a" stroke-width="0.0">Pou2af1<tspan font-size="4.4" dy="-2.2">KO/KO</tspan></text>
<text x="7.8999999999999995" y="568.3" font-size="14" font-weight="bold" fill="#000" textLength="3.4000000000000004" lengthAdjust="spacingAndGlyphs">I</text>
<text x="123" y="569" font-size="7" stroke="#222" stroke-width="0.0" text-anchor="end" textLength="13.5" lengthAdjust="spacingAndGlyphs">5 kb</text>
<path d="M126.8 566.5H198.2M126.8 565.3V567.7M198.2 565.3V567.7" stroke="#333" stroke-width="0.8" fill="none"/>
<text x="201.5" y="568.9" font-size="7" stroke="#222" stroke-width="0.0" textLength="16.5" lengthAdjust="spacingAndGlyphs">mm9</text>
<text x="128.5" y="579" font-size="7" stroke="#222" stroke-width="0.0" text-anchor="end" textLength="22.3" lengthAdjust="spacingAndGlyphs" font-style="italic">Txnrd1</text>
<line x1="131.5" y1="576.4" x2="239.9" y2="576.4" stroke="#6a6a6a" stroke-width="1.4"/>
<circle cx="131.8" cy="576.4" r="1.1" fill="#111"/>
<text x="8" y="596.6" font-size="7.8" font-style="italic" textLength="42" lengthAdjust="spacingAndGlyphs" stroke="#222" stroke-width="0.0">Pou2af1<tspan font-size="5.2" dy="-3">KO/KO</tspan></text>
<text x="23" y="623.3" font-size="7.8" stroke="#222" stroke-width="0.08" textLength="10.6" lengthAdjust="spacingAndGlyphs">WT</text>
<path d="M56.4 582.6H52.7 M53.2 582.6V599.3" fill="none" stroke="#111" stroke-width="1"/>
<path d="M56.4 605.6H52.7 M53.2 605.6V636.3" fill="none" stroke="#111" stroke-width="1"/>
<text x="56.7" y="587.6" font-size="7.2" stroke="#5b7db3" stroke-width="0.1" textLength="17.8" lengthAdjust="spacingAndGlyphs" fill="#5b7db3">OCT1</text>
<text x="56.7" y="599.2" font-size="7.2" stroke="#9ab33a" stroke-width="0.1" textLength="27.9" lengthAdjust="spacingAndGlyphs" fill="#9ab33a">H3K27ac</text>
<text x="56.7" y="610.6" font-size="7.2" stroke="#5b7db3" stroke-width="0.1" textLength="17.8" lengthAdjust="spacingAndGlyphs" fill="#5b7db3">OCT1</text>
<text x="56.7" y="622.4" font-size="7.2" stroke="#8e3b9f" stroke-width="0.1" textLength="17.3" lengthAdjust="spacingAndGlyphs" fill="#8e3b9f">OBF1</text>
<text x="56.7" y="634.3" font-size="7.2" stroke="#9ab33a" stroke-width="0.1" textLength="27.9" lengthAdjust="spacingAndGlyphs" fill="#9ab33a">H3K27ac</text>
<path d="M85.2 589.7L85.2 588.9L85.9 588.9L86.6 588.9L87.3 589L88 589.1L88.7 589.1L89.4 589.2L90.1 589.2L90.8 589.2L91.5 589.2L92.2 589.2L92.9 589.2L93.6 589.2L94.3 589.2L95 589.2L95.7 589.2L96.4 589.2L97.1 589.2L97.8 589.2L98.5 589.2L99.2 589.2L99.9 589.2L100.6 589.2L101.3 589.2L102 589.2L102.7 589.2L103.4 589.2L104.1 589.2L104.8 589.2L105.5 589.1L106.2 589L106.9 588.9L107.6 588.9L108.3 588.9L109 588.9L109.7 588.7L110.4 588.8L111.1 589.1L111.8 589.1L112.5 589.1L113.2 589L113.9 588.9L114.6 588.9L115.3 589L116 589.1L116.7 589.1L117.4 589.2L118.1 589.2L118.8 589.2L119.5 589.2L120.2 589.2L120.9 589.2L121.6 589.2L122.3 589.2L123 589.2L123.7 589.2L124.4 589.2L125.1 589.2L125.8 589.2L126.5 589.2L127.2 589.2L127.9 589.2L128.6 589.2L129.3 589.2L130 589.2L130.7 589.2L131.4 589.2L132.1 589.2L132.8 589.2L133.5 589.2L134.2 589.2L134.9 589.2L135.6 589.2L136.3 589.2L137 589.2L137.7 589.2L138.4 589.2L139.1 589.2L139.8 589.2L140.5 589.2L141.2 589.2L141.9 589.2L142.6 589.2L143.3 589.2L144 589.2L144.7 589.2L145.4 589.2L146.1 589.2L146.8 589.2L147.5 589.2L148.2 589.2L148.9 589.2L149.6 589.2L150.3 589.2L151 589.2L151.7 589.2L152.4 589.2L153.1 589.1L153.8 589.1L154.5 589L155.2 589L155.9 589L156.6 589L157.3 589.1L158 589.1L158.7 589.2L159.4 589.2L160.1 589.2L160.8 589.2L161.5 589.2L162.2 589.2L163 589.2L163.7 589.2L164.4 589.2L165.1 589.2L165.8 589.2L166.5 589.2L167.2 589.2L167.9 589.2L168.6 589.1L169.3 589L170 588.8L170.7 588.7L171.4 588.6L172.1 588.6L172.8 588.7L173.5 588.8L174.2 589L174.9 589.1L175.6 589.1L176.3 589.2L177 589.2L177.7 589.2L178.4 589.2L179.1 589.2L179.8 589.2L180.5 589.2L181.2 589.2L181.9 589.2L182.6 589.2L183.3 589.2L184 589.2L184.7 589.2L185.4 589.2L186.1 589.2L186.8 589.2L187.5 589.2L188.2 589.2L188.9 589.2L189.6 589.2L190.3 589.2L191 589.2L191.7 589.2L192.4 589.1L193.1 589L193.8 588.9L194.5 588.8L195.2 588.9L195.9 589.1L196.6 589.2L197.3 589.2L198 589.2L198.7 589.2L199.4 589.2L200.1 589.2L200.8 589.2L201.5 589.2L202.2 589.2L202.9 589.1L203.6 589L204.3 589L205 589.1L205.7 589.2L206.4 589.2L207.1 589.2L207.8 589.2L208.5 589L209.2 588.9L209.9 589.1L210.6 589.2L211.3 589.2L212 589.2L212.7 589.2L213.4 589.2L214.1 589.2L214.8 589.2L215.5 589.2L216.2 589.2L216.9 589.2L217.6 589.2L218.3 589.2L219 589.2L219.7 589.2L220.4 589.2L221.1 589.2L221.8 589.2L222.5 589.2L223.2 589.2L223.9 589.2L224.6 589.2L225.3 589.2L226 589.2L226.7 589.2L227.4 589.2L228.1 589.2L228.8 589.2L229.5 589.2L230.2 589.1L230.9 589L231.6 588.8L232.3 588.8L233 588.9L233.7 588.9L234.4 588.9L235.1 589L235.8 589L236.5 589.1L237.2 589.1L237.9 589.2L238.6 589.2L239.3 589.2L240 589.2L240 589.7Z" fill="#4d6ea6" stroke="#4d6ea6" stroke-width="0.25"/>
<line x1="85.2" y1="589.2" x2="240" y2="589.2" stroke="#4d6ea6" stroke-width="0.8" stroke-opacity="0.22"/>
<path d="M85.2 601.5L85.2 601L85.9 601L86.6 601L87.3 601L88 601L88.7 601L89.4 601L90.1 601L90.8 601L91.5 601L92.2 601L92.9 601L93.6 601L94.3 601L95 600.9L95.7 600.8L96.4 600.7L97.1 600.9L97.8 601L98.5 601L99.2 601L99.9 600.9L100.6 600.7L101.3 600.5L102 600.4L102.7 600.4L103.4 600.5L104.1 600.7L104.8 600.9L105.5 601L106.2 601L106.9 601L107.6 601L108.3 600.8L109 600.8L109.7 600.9L110.4 601L111.1 601L111.8 601L112.5 601L113.2 601L113.9 601L114.6 601L115.3 601L116 600.9L116.7 600.7L117.4 600.4L118.1 600.4L118.8 600.6L119.5 600.8L120.2 601L120.9 601L121.6 601L122.3 601L123 601L123.7 601L124.4 601L125.1 601L125.8 601L126.5 601L127.2 601L127.9 601L128.6 601L129.3 601L130 601L130.7 601L131.4 601L132.1 601L132.8 601L133.5 600.9L134.2 600.8L134.9 600.6L135.6 600.5L136.3 600.6L137 600.8L137.7 600.9L138.4 601L139.1 601L139.8 601L140.5 601L141.2 601L141.9 600.9L142.6 600.8L143.3 600.6L144 600.6L144.7 600.6L145.4 600.8L146.1 600.8L146.8 600.7L147.5 600.6L148.2 600.5L148.9 600.3L149.6 600.1L150.3 600L151 599.8L151.7 599.8L152.4 599.7L153.1 599.7L153.8 599.7L154.5 599.6L155.2 599.3L155.9 599L156.6 598.5L157.3 598.1L158 597.9L158.7 597.9L159.4 598.2L160.1 598.7L160.8 599.3L161.5 599.8L162.2 600.3L163 600.6L163.7 600.7L164.4 600.7L165.1 600.4L165.8 600.1L166.5 599.9L167.2 599.7L167.9 599.6L168.6 600.1L169.3 600.6L170 600.8L170.7 600.9L171.4 601L172.1 600.9L172.8 600.9L173.5 600.8L174.2 600.7L174.9 600.7L175.6 600.7L176.3 600.8L177 600.8L177.7 600.9L178.4 600.9L179.1 601L179.8 601L180.5 601L181.2 601L181.9 601L182.6 601L183.3 601L184 601L184.7 601L185.4 601L186.1 600.9L186.8 600.7L187.5 600.4L188.2 600.2L188.9 600.3L189.6 600.5L190.3 600.7L191 600.7L191.7 600.7L192.4 600.6L193.1 600.6L193.8 600.6L194.5 600.6L195.2 600.8L195.9 600.9L196.6 600.9L197.3 601L198 601L198.7 601L199.4 601L200.1 601L200.8 601L201.5 601L202.2 600.9L202.9 600.8L203.6 600.7L204.3 600.6L205 600.7L205.7 600.8L206.4 600.9L207.1 601L207.8 601L208.5 601L209.2 601L209.9 601L210.6 601L211.3 601L212 601L212.7 601L213.4 601L214.1 601L214.8 601L215.5 601L216.2 601L216.9 601L217.6 601L218.3 601L219 601L219.7 601L220.4 601L221.1 601L221.8 601L222.5 601L223.2 601L223.9 601L224.6 601L225.3 601L226 600.9L226.7 600.8L227.4 600.6L228.1 600.6L228.8 600.6L229.5 600.7L230.2 600.8L230.9 600.9L231.6 601L232.3 601L233 601L233.7 601L234.4 601L235.1 601L235.8 601L236.5 601L237.2 601L237.9 601L238.6 601L239.3 601L240 601L240 601.5Z" fill="#95b036" stroke="#95b036" stroke-width="0.25"/>
<line x1="85.2" y1="601" x2="240" y2="601" stroke="#95b036" stroke-width="0.8" stroke-opacity="0.22"/>
<path d="M85.2 612.8L85.2 612.3L85.9 612.3L86.6 612.3L87.3 612.3L88 612.3L88.7 612.3L89.4 612.3L90.1 612.3L90.8 612.3L91.5 612.3L92.2 612.3L92.9 612.3L93.6 612.3L94.3 612.3L95 612.3L95.7 612.3L96.4 612.3L97.1 612.3L97.8 612.3L98.5 612.3L99.2 612.3L99.9 612.3L100.6 612.3L101.3 612.3L102 612.3L102.7 612.3L103.4 612.3L104.1 612.3L104.8 612.3L105.5 612.2L106.2 612.1L106.9 611.9L107.6 611.7L108.3 611.6L109 611.9L109.7 612.2L110.4 612.3L111.1 612.3L111.8 612.3L112.5 612.3L113.2 612.3L113.9 612.3L114.6 612.3L115.3 612.3L116 612.3L116.7 612.3L117.4 612.3L118.1 612.2L118.8 612.2L119.5 612.1L120.2 612.1L120.9 612.1L121.6 612.1L122.3 612.2L123 612.2L123.7 612.3L124.4 612.3L125.1 612.3L125.8 612.3L126.5 612.3L127.2 612.3L127.9 612.3L128.6 612.3L129.3 612.3L130 612.3L130.7 612.3L131.4 612.3L132.1 612.3L132.8 612.3L133.5 612.3L134.2 612.3L134.9 612.2L135.6 612.1L136.3 612L137 611.9L137.7 612L138.4 612.2L139.1 612.3L139.8 612.3L140.5 612.3L141.2 612.3L141.9 612.3L142.6 612.3L143.3 612.3L144 612.3L144.7 612.3L145.4 612.3L146.1 612.3L146.8 612.3L147.5 612.3L148.2 612.3L148.9 612.3L149.6 612.3L150.3 612.3L151 612.3L151.7 612.3L152.4 612.3L153.1 612.3L153.8 612.3L154.5 612.3L155.2 612.3L155.9 612.3L156.6 612.3L157.3 612.3L158 612.3L158.7 612.3L159.4 612.2L160.1 612L160.8 611L161.5 608.6L162.2 605.3L163 603.6L163.7 605L164.4 608.2L165.1 610.7L165.8 611.8L166.5 612L167.2 611.9L167.9 612L168.6 612.1L169.3 612.2L170 612.3L170.7 612.3L171.4 612.3L172.1 612.3L172.8 612.3L173.5 612.3L174.2 612.3L174.9 612.3L175.6 612.3L176.3 612.3L177 612.3L177.7 612.3L178.4 612.3L179.1 612.3L179.8 612.2L180.5 612L181.2 612L181.9 612.2L182.6 612.3L183.3 612.3L184 612.3L184.7 612.3L185.4 612.3L186.1 612.3L186.8 612.3L187.5 612.3L188.2 612.2L188.9 612L189.6 612.1L190.3 612.2L191 612.1L191.7 612L192.4 612L193.1 612.1L193.8 612.1L194.5 612.1L195.2 612L195.9 612L196.6 612.1L197.3 612.2L198 612.3L198.7 612.3L199.4 612.2L200.1 612.1L200.8 612L201.5 612L202.2 612.2L202.9 612.3L203.6 612.3L204.3 612.3L205 612.3L205.7 612.3L206.4 612.3L207.1 612.3L207.8 612.3L208.5 612.3L209.2 612.3L209.9 612.3L210.6 612.3L211.3 612.3L212 612.3L212.7 612.3L213.4 612.3L214.1 612.3L214.8 612.3L215.5 612.3L216.2 612.3L216.9 612.3L217.6 612.3L218.3 612.3L219 612.3L219.7 612.2L220.4 612.1L221.1 611.9L221.8 612L222.5 612.1L223.2 612.2L223.9 612.3L224.6 612.3L225.3 612.3L226 612.3L226.7 612.3L227.4 612.3L228.1 612.3L228.8 612.3L229.5 612.3L230.2 612.3L230.9 612.3L231.6 612.3L232.3 612.3L233 612.3L233.7 612.3L234.4 612.3L235.1 612.3L235.8 612.3L236.5 612.3L237.2 612.3L237.9 612.3L238.6 612.3L239.3 612.3L240 612.3L240 612.8Z" fill="#4d6ea6" stroke="#4d6ea6" stroke-width="0.25"/>
<line x1="85.2" y1="612.3" x2="240" y2="612.3" stroke="#4d6ea6" stroke-width="0.8" stroke-opacity="0.22"/>
<path d="M85.2 624.7L85.2 624.2L85.9 624.2L86.6 624.2L87.3 624.2L88 624.1L88.7 623.9L89.4 623.9L90.1 624.1L90.8 624.2L91.5 624.2L92.2 624.2L92.9 624.2L93.6 624.2L94.3 624L95 623.7L95.7 623.7L96.4 623.9L97.1 623.9L97.8 623.8L98.5 623.9L99.2 623.9L99.9 624L100.6 624.1L101.3 624.2L102 624.2L102.7 624.2L103.4 624.1L104.1 623.9L104.8 623.6L105.5 623.8L106.2 624.1L106.9 624.2L107.6 624.2L108.3 624.2L109 624.2L109.7 624.2L110.4 624.2L111.1 624.2L111.8 624.2L112.5 624.2L113.2 624.2L113.9 624.2L114.6 624.2L115.3 624.1L116 623.9L116.7 623.7L117.4 623.5L118.1 623.3L118.8 623.3L119.5 623.4L120.2 623.6L120.9 623.9L121.6 624L122.3 624.1L123 624.2L123.7 624.2L124.4 624.2L125.1 624.2L125.8 624.2L126.5 624.2L127.2 624.2L127.9 624.2L128.6 624.2L129.3 624.2L130 624L130.7 623.7L131.4 623.7L132.1 624L132.8 624.2L133.5 624.2L134.2 624.2L134.9 624.2L135.6 624.2L136.3 624.2L137 624.2L137.7 624.2L138.4 624.2L139.1 624.2L139.8 624.2L140.5 624.2L141.2 624.2L141.9 624.2L142.6 624.2L143.3 624.2L144 624.2L144.7 624.2L145.4 624.1L146.1 624L146.8 623.8L147.5 623.4L148.2 623L148.9 622.8L149.6 622.7L150.3 622.9L151 623.5L151.7 624L152.4 624.1L153.1 624.2L153.8 624.2L154.5 624.2L155.2 624.2L155.9 624.2L156.6 624.2L157.3 624.1L158 623.9L158.7 623.8L159.4 623.7L160.1 623.2L160.8 621.6L161.5 618.7L162.2 615.6L163 614L163.7 615.2L164.4 618.3L165.1 621.3L165.8 623.1L166.5 623.9L167.2 624.1L167.9 624.2L168.6 624.1L169.3 623.8L170 623.6L170.7 623.6L171.4 623.8L172.1 624L172.8 624L173.5 623.8L174.2 623.5L174.9 623.3L175.6 623.4L176.3 623.6L177 623.8L177.7 623.9L178.4 623.9L179.1 623.9L179.8 624.1L180.5 624.2L181.2 624.2L181.9 624.2L182.6 624.1L183.3 624L184 623.8L184.7 623.5L185.4 623.4L186.1 623.5L186.8 623.8L187.5 624L188.2 624.1L188.9 624.2L189.6 624.2L190.3 624.2L191 624.2L191.7 624.1L192.4 624L193.1 624L193.8 623.9L194.5 624L195.2 624.1L195.9 624.2L196.6 624.2L197.3 624.2L198 624.1L198.7 623.9L199.4 623.9L200.1 624.1L200.8 624.2L201.5 624.2L202.2 624.2L202.9 624.1L203.6 623.9L204.3 623.6L205 623.5L205.7 623.8L206.4 624.1L207.1 624.2L207.8 624.2L208.5 624.2L209.2 624.1L209.9 624L210.6 623.9L211.3 623.7L212 623.5L212.7 623.4L213.4 623.5L214.1 623.8L214.8 624L215.5 624.1L216.2 624.2L216.9 624.2L217.6 624.2L218.3 624.2L219 624.2L219.7 624.2L220.4 624.2L221.1 624.1L221.8 623.8L222.5 623.1L223.2 622.9L223.9 623.3L224.6 623.7L225.3 623.8L226 623.9L226.7 623.9L227.4 623.9L228.1 623.9L228.8 624L229.5 624.1L230.2 624.1L230.9 624.2L231.6 624.2L232.3 624.2L233 624.2L233.7 624.1L234.4 624.1L235.1 623.9L235.8 623.8L236.5 623.6L237.2 623.5L237.9 623.4L238.6 623.2L239.3 623.2L240 623.4L240 624.7Z" fill="#8a1c9e" stroke="#8a1c9e" stroke-width="0.25"/>
<line x1="85.2" y1="624.2" x2="240" y2="624.2" stroke="#8a1c9e" stroke-width="0.8" stroke-opacity="0.22"/>
<path d="M85.2 635.9L85.2 635.4L85.9 635.4L86.6 635.4L87.3 635.4L88 635.4L88.7 635.4L89.4 635.4L90.1 635.4L90.8 635.4L91.5 635.4L92.2 635.4L92.9 635.4L93.6 635.4L94.3 635.4L95 635.4L95.7 635.4L96.4 635.4L97.1 635.4L97.8 635.2L98.5 635.1L99.2 635.3L99.9 635.4L100.6 635.4L101.3 635.4L102 635.4L102.7 635.4L103.4 635.4L104.1 635.4L104.8 635.4L105.5 635.3L106.2 635.2L106.9 635.1L107.6 635.1L108.3 635.1L109 635.2L109.7 635.3L110.4 635.4L111.1 635.4L111.8 635.3L112.5 635L113.2 634.9L113.9 635.2L114.6 635.4L115.3 635.4L116 635.4L116.7 635.4L117.4 635.4L118.1 635.3L118.8 635.2L119.5 635.1L120.2 635L120.9 635L121.6 635L122.3 635L123 635L123.7 634.9L124.4 634.9L125.1 635L125.8 635.1L126.5 635.2L127.2 635.3L127.9 635.4L128.6 635.4L129.3 635.4L130 635.4L130.7 635.4L131.4 635.4L132.1 635.4L132.8 635.3L133.5 635.3L134.2 635.1L134.9 635L135.6 634.9L136.3 634.8L137 634.9L137.7 634.9L138.4 634.8L139.1 634.5L139.8 634.7L140.5 635.1L141.2 635.4L141.9 635.4L142.6 635.4L143.3 635.4L144 635.4L144.7 635.4L145.4 635.4L146.1 635.4L146.8 635.4L147.5 635.4L148.2 635.4L148.9 635.3L149.6 635.3L150.3 635.2L151 635.1L151.7 635L152.4 634.8L153.1 634.5L153.8 634.2L154.5 633.9L155.2 633.6L155.9 633.3L156.6 632.9L157.3 632.6L158 632.7L158.7 633L159.4 633.3L160.1 633.4L160.8 633.5L161.5 633.5L162.2 633.5L163 633.5L163.7 633.5L164.4 633.5L165.1 633.4L165.8 633.4L166.5 633.5L167.2 633.7L167.9 634L168.6 634.2L169.3 634.4L170 634.6L170.7 634.7L171.4 634.9L172.1 635L172.8 635.1L173.5 635.1L174.2 635L174.9 634.8L175.6 634.7L176.3 634.7L177 634.7L177.7 634.7L178.4 634.8L179.1 634.9L179.8 634.9L180.5 634.9L181.2 634.8L181.9 634.9L182.6 635.1L183.3 635.3L184 635.4L184.7 635.4L185.4 635.4L186.1 635.4L186.8 635.4L187.5 635.4L188.2 635.4L188.9 635.4L189.6 635.4L190.3 635.4L191 635.4L191.7 635.4L192.4 635.4L193.1 635.4L193.8 635.4L194.5 635.4L195.2 635.4L195.9 635.4L196.6 635.4L197.3 635.4L198 635.4L198.7 635.4L199.4 635.4L200.1 635.4L200.8 635.4L201.5 635.4L202.2 635.4L202.9 635.4L203.6 635.4L204.3 635.4L205 635.4L205.7 635.4L206.4 635.4L207.1 635.3L207.8 635.3L208.5 635.1L209.2 634.8L209.9 634.7L210.6 634.8L211.3 635L212 635.2L212.7 635.3L213.4 635.3L214.1 635.2L214.8 635.2L215.5 635.2L216.2 635.2L216.9 635.3L217.6 635.3L218.3 635.4L219 635.4L219.7 635.4L220.4 635.4L221.1 635.4L221.8 635.3L222.5 635.2L223.2 635.2L223.9 635.1L224.6 635.2L225.3 635.1L226 634.8L226.7 634.6L227.4 634.9L228.1 635.3L228.8 635.4L229.5 635.4L230.2 635.4L230.9 635.3L231.6 635.2L232.3 635L233 634.8L233.7 634.7L234.4 634.7L235.1 634.9L235.8 635.1L236.5 635.3L237.2 635.4L237.9 635.4L238.6 635.4L239.3 635.4L240 635.4L240 635.9Z" fill="#95b036" stroke="#95b036" stroke-width="0.25"/>
<line x1="85.2" y1="635.4" x2="240" y2="635.4" stroke="#95b036" stroke-width="0.8" stroke-opacity="0.22"/>
<text x="370.8" y="566" font-size="7" stroke="#222" stroke-width="0.0" text-anchor="end" textLength="13.8" lengthAdjust="spacingAndGlyphs">5 kb</text>
<path d="M373.8 563.5H449.2M373.8 562.3V564.7M449.2 562.3V564.7" stroke="#333" stroke-width="0.8" fill="none"/>
<text x="452.3" y="565.9" font-size="7" stroke="#222" stroke-width="0.0" textLength="16.3" lengthAdjust="spacingAndGlyphs">mm9</text>
<text x="349.4" y="576.1" font-size="7" stroke="#222" stroke-width="0.0" text-anchor="end" textLength="32.6" lengthAdjust="spacingAndGlyphs" font-style="italic">Adamts14</text>
<line x1="352.5" y1="574" x2="489.2" y2="574" stroke="#6a6a6a" stroke-width="1.4"/>
<line x1="352.5" y1="574" x2="380" y2="574" stroke="#111" stroke-width="2.2"/>
<rect x="373.5" y="572.2" width="6.5" height="3.6" fill="#111"/>
<ellipse cx="402.5" cy="574" rx="0.9" ry="1.5" fill="#111"/>
<ellipse cx="414.8" cy="574" rx="0.9" ry="1.5" fill="#111"/>
<ellipse cx="440" cy="574" rx="1.6" ry="1.5" fill="#111"/>
<ellipse cx="469.8" cy="574" rx="0.9" ry="1.5" fill="#111"/>
<ellipse cx="477.8" cy="574" rx="1.1" ry="1.5" fill="#111"/>
<text x="257" y="596.6" font-size="7.8" font-style="italic" textLength="42" lengthAdjust="spacingAndGlyphs" stroke="#222" stroke-width="0.0">Pou2af1<tspan font-size="5.2" dy="-3">KO/KO</tspan></text>
<text x="273" y="623.3" font-size="7.8" stroke="#222" stroke-width="0.08" textLength="10.6" lengthAdjust="spacingAndGlyphs">WT</text>
<path d="M305.9 582.6H302.2 M302.7 582.6V599.3" fill="none" stroke="#111" stroke-width="1"/>
<path d="M305.9 605.6H302.2 M302.7 605.6V636.3" fill="none" stroke="#111" stroke-width="1"/>
<text x="306.2" y="587.6" font-size="7.2" stroke="#5b7db3" stroke-width="0.1" textLength="17.8" lengthAdjust="spacingAndGlyphs" fill="#5b7db3">OCT1</text>
<text x="306.2" y="599.2" font-size="7.2" stroke="#9ab33a" stroke-width="0.1" textLength="27.9" lengthAdjust="spacingAndGlyphs" fill="#9ab33a">H3K27ac</text>
<text x="306.2" y="610.6" font-size="7.2" stroke="#5b7db3" stroke-width="0.1" textLength="17.8" lengthAdjust="spacingAndGlyphs" fill="#5b7db3">OCT1</text>
<text x="306.2" y="622.4" font-size="7.2" stroke="#8e3b9f" stroke-width="0.1" textLength="17.3" lengthAdjust="spacingAndGlyphs" fill="#8e3b9f">OBF1</text>
<text x="306.2" y="634.3" font-size="7.2" stroke="#9ab33a" stroke-width="0.1" textLength="27.9" lengthAdjust="spacingAndGlyphs" fill="#9ab33a">H3K27ac</text>
<path d="M334.7 590L334.7 589.5L335.4 589.3L336.1 589.1L336.8 589L337.5 589.1L338.2 589.3L338.9 589.4L339.6 589.4L340.3 589.3L341 589.3L341.7 589.2L342.4 589.3L343.1 589.3L343.8 589.4L344.5 589.5L345.2 589.5L345.9 589.5L346.6 589.5L347.3 589.5L348 589.5L348.7 589.5L349.4 589.5L350.1 589.5L350.8 589.5L351.5 589.5L352.2 589.4L352.9 589.3L353.6 589.3L354.3 589.2L355 589.1L355.7 589L356.4 588.9L357.1 589L357.8 589.2L358.5 589.4L359.2 589.5L359.9 589.5L360.6 589.5L361.3 589.5L362 589.5L362.7 589.5L363.4 589.3L364.1 589.1L364.8 589.1L365.5 589.3L366.2 589.4L366.9 589.4L367.6 589.3L368.3 589.2L369 589.2L369.7 589.1L370.4 589.2L371.1 589.3L371.8 589.4L372.5 589.4L373.2 589.5L373.9 589.5L374.6 589.5L375.3 589.5L376 589.5L376.7 589.5L377.4 589.5L378.1 589.5L378.8 589.5L379.5 589.5L380.2 589.5L380.9 589.5L381.6 589.5L382.3 589.5L383 589.5L383.7 589.5L384.4 589.5L385.1 589.5L385.8 589.5L386.5 589.5L387.2 589.5L387.9 589.5L388.6 589.5L389.3 589.5L390 589.4L390.7 589.1L391.4 588.8L392.1 588.7L392.8 588.9L393.5 588.9L394.2 589.1L394.9 589.3L395.6 589.5L396.3 589.5L397 589.5L397.7 589.5L398.4 589.5L399.1 589.5L399.8 589.4L400.5 589.3L401.2 589.2L401.9 589.1L402.6 589.2L403.3 589.3L404 589.4L404.7 589.5L405.4 589.5L406.1 589.5L406.8 589.5L407.5 589.5L408.2 589.5L408.9 589.5L409.6 589.5L410.3 589.5L411 589.5L411.7 589.5L412.5 589.5L413.2 589.5L413.9 589.5L414.6 589.5L415.3 589.5L416 589.5L416.7 589.5L417.4 589.5L418.1 589.5L418.8 589.5L419.5 589.5L420.2 589.5L420.9 589.5L421.6 589.5L422.3 589.5L423 589.5L423.7 589.5L424.4 589.5L425.1 589.5L425.8 589.5L426.5 589.5L427.2 589.5L427.9 589.5L428.6 589.5L429.3 589.5L430 589.5L430.7 589.5L431.4 589.5L432.1 589.5L432.8 589.5L433.5 589.4L434.2 589.3L434.9 589.4L435.6 589.5L436.3 589.5L437 589.5L437.7 589.5L438.4 589.5L439.1 589.5L439.8 589.5L440.5 589.5L441.2 589.5L441.9 589.5L442.6 589.3L443.3 589.2L444 589.4L444.7 589.5L445.4 589.5L446.1 589.5L446.8 589.5L447.5 589.5L448.2 589.5L448.9 589.5L449.6 589.5L450.3 589.5L451 589.5L451.7 589.5L452.4 589.5L453.1 589.5L453.8 589.5L454.5 589.5L455.2 589.5L455.9 589.4L456.6 589.3L457.3 589.3L458 589.3L458.7 589.3L459.4 589.4L460.1 589.5L460.8 589.5L461.5 589.5L462.2 589.5L462.9 589.5L463.6 589.5L464.3 589.5L465 589.5L465.7 589.5L466.4 589.5L467.1 589.5L467.8 589.5L468.5 589.5L469.2 589.5L469.9 589.5L470.6 589.5L471.3 589.5L472 589.5L472.7 589.5L473.4 589.5L474.1 589.5L474.8 589.5L475.5 589.5L476.2 589.5L476.9 589.5L477.6 589.5L478.3 589.5L479 589.5L479.7 589.5L480.4 589.5L481.1 589.5L481.8 589.5L482.5 589.5L483.2 589.5L483.9 589.5L484.6 589.5L485.3 589.5L486 589.5L486.7 589.5L487.4 589.5L488.1 589.5L488.8 589.5L489.5 589.5L489.5 590Z" fill="#4d6ea6" stroke="#4d6ea6" stroke-width="0.25"/>
<line x1="334.7" y1="589.5" x2="489.5" y2="589.5" stroke="#4d6ea6" stroke-width="0.8" stroke-opacity="0.22"/>
<path d="M334.7 601.8L334.7 601.3L335.4 601.3L336.1 601.3L336.8 601.3L337.5 601.3L338.2 601.2L338.9 601L339.6 600.8L340.3 601.1L341 601.3L341.7 601.3L342.4 601.3L343.1 601.3L343.8 601.3L344.5 601.1L345.2 600.9L345.9 601.2L346.6 601.3L347.3 601.3L348 601.3L348.7 601.3L349.4 601.3L350.1 601.3L350.8 601.3L351.5 601.3L352.2 601.3L352.9 601.3L353.6 601.3L354.3 601.3L355 601.3L355.7 601.3L356.4 601.3L357.1 601.3L357.8 601.3L358.5 601.3L359.2 601.3L359.9 601.2L360.6 601.1L361.3 600.9L362 600.6L362.7 600.4L363.4 600.4L364.1 600.6L364.8 600.8L365.5 601L366.2 601.2L366.9 601.1L367.6 600.8L368.3 600.8L369 601.1L369.7 601.3L370.4 601.3L371.1 601.3L371.8 601.3L372.5 601.3L373.2 601.3L373.9 601.3L374.6 601.3L375.3 601.3L376 601.2L376.7 601L377.4 600.8L378.1 600.7L378.8 600.6L379.5 600.6L380.2 600.6L380.9 600.7L381.6 600.9L382.3 601.1L383 601.3L383.7 601.3L384.4 601.3L385.1 601.3L385.8 601.3L386.5 601.3L387.2 601.2L387.9 601.2L388.6 601.2L389.3 601.1L390 601L390.7 600.9L391.4 600.7L392.1 600.5L392.8 600.3L393.5 600.1L394.2 599.9L394.9 599.7L395.6 599.4L396.3 599.3L397 599.2L397.7 599.1L398.4 599L399.1 598.6L399.8 598.7L400.5 599.3L401.2 599.6L401.9 599.7L402.6 599.9L403.3 600L404 600.1L404.7 600.1L405.4 600L406.1 599.8L406.8 599.5L407.5 599.4L408.2 599.4L408.9 599.6L409.6 599.7L410.3 599.8L411 599.8L411.7 599.9L412.5 600L413.2 600.2L413.9 600.3L414.6 600.4L415.3 600.4L416 600.4L416.7 600.3L417.4 600.4L418.1 600.5L418.8 600.7L419.5 600.9L420.2 601L420.9 601L421.6 600.9L422.3 600.8L423 600.9L423.7 601L424.4 601.2L425.1 601.3L425.8 601.3L426.5 601.3L427.2 601.3L427.9 601.3L428.6 601.3L429.3 601.3L430 601.3L430.7 601.3L431.4 601.3L432.1 601.2L432.8 601.1L433.5 601L434.2 600.9L434.9 600.9L435.6 601.1L436.3 601.2L437 601.3L437.7 601.3L438.4 601.3L439.1 601.3L439.8 601.3L440.5 601.3L441.2 601.3L441.9 601.3L442.6 601.3L443.3 601.3L444 601.3L444.7 601.3L445.4 601.3L446.1 601.3L446.8 601.3L447.5 601.3L448.2 601.3L448.9 601.3L449.6 601.2L450.3 601.2L451 601L451.7 600.8L452.4 600.7L453.1 600.7L453.8 600.9L454.5 601.1L455.2 601.2L455.9 601.3L456.6 601.3L457.3 601.3L458 601.3L458.7 601.3L459.4 601.3L460.1 601.3L460.8 601.3L461.5 601.3L462.2 601.3L462.9 601.3L463.6 601.3L464.3 601.3L465 601.3L465.7 601.3L466.4 601.3L467.1 601.2L467.8 601L468.5 600.8L469.2 601L469.9 601.2L470.6 601.3L471.3 601.3L472 601.3L472.7 601.3L473.4 601.3L474.1 601.3L474.8 601.3L475.5 601.3L476.2 601.3L476.9 601.3L477.6 601.3L478.3 601.3L479 601.3L479.7 601.3L480.4 601.3L481.1 601.3L481.8 601.3L482.5 601.3L483.2 601.3L483.9 601.3L484.6 601.3L485.3 601.3L486 601.3L486.7 601.3L487.4 601.3L488.1 601.3L488.8 601.3L489.5 601.3L489.5 601.8Z" fill="#95b036" stroke="#95b036" stroke-width="0.25"/>
<line x1="334.7" y1="601.3" x2="489.5" y2="601.3" stroke="#95b036" stroke-width="0.8" stroke-opacity="0.22"/>
<path d="M334.7 613L334.7 612.5L335.4 612.5L336.1 612.5L336.8 612.5L337.5 612.5L338.2 612.5L338.9 612.4L339.6 612.2L340.3 612L341 611.9L341.7 612L342.4 612.1L343.1 612.2L343.8 612.3L344.5 612.4L345.2 612.5L345.9 612.5L346.6 612.5L347.3 612.5L348 612.5L348.7 612.5L349.4 612.5L350.1 612.5L350.8 612.5L351.5 612.5L352.2 612.5L352.9 612.5L353.6 612.5L354.3 612.5L355 612.5L355.7 612.5L356.4 612.5L357.1 612.5L357.8 612.5L358.5 612.5L359.2 612.5L359.9 612.5L360.6 612.5L361.3 612.2L362 612L362.7 612.1L363.4 612.2L364.1 612.2L364.8 612.1L365.5 612.1L366.2 612.2L366.9 612.3L367.6 612.3L368.3 612.4L369 612.5L369.7 612.5L370.4 612.5L371.1 612.5L371.8 612.5L372.5 612.5L373.2 612.5L373.9 612.5L374.6 612.5L375.3 612.5L376 612.5L376.7 612.5L377.4 612.5L378.1 612.5L378.8 612.5L379.5 612.5L380.2 612.5L380.9 612.5L381.6 612.5L382.3 612.5L383 612.5L383.7 612.5L384.4 612.5L385.1 612.5L385.8 612.5L386.5 612.5L387.2 612.5L387.9 612.5L388.6 612.5L389.3 612.5L390 612.5L390.7 612.5L391.4 612.5L392.1 612.5L392.8 612.5L393.5 612.5L394.2 612.5L394.9 612.5L395.6 612.5L396.3 612.5L397 612.5L397.7 612.5L398.4 612.5L399.1 612.5L399.8 612.4L400.5 612.2L401.2 612.2L401.9 612.4L402.6 612.1L403.3 610.9L404 607.8L404.7 604.2L405.4 603.5L406.1 606.3L406.8 609.6L407.5 611.2L408.2 611.9L408.9 612.2L409.6 612.4L410.3 612.5L411 612.5L411.7 612.5L412.5 612.5L413.2 612.5L413.9 612.5L414.6 612.4L415.3 612.3L416 612.3L416.7 612.3L417.4 612.3L418.1 612.4L418.8 612.5L419.5 612.5L420.2 612.5L420.9 612.5L421.6 612.5L422.3 612.5L423 612.5L423.7 612.5L424.4 612.5L425.1 612.5L425.8 612.5L426.5 612.5L427.2 612.4L427.9 612.3L428.6 612.2L429.3 612.1L430 612.1L430.7 612.3L431.4 612.4L432.1 612.5L432.8 612.5L433.5 612.4L434.2 612.4L434.9 612.2L435.6 612L436.3 611.8L437 611.7L437.7 611.8L438.4 612L439.1 612.2L439.8 612.4L440.5 612.4L441.2 612.5L441.9 612.5L442.6 612.5L443.3 612.5L444 612.5L444.7 612.5L445.4 612.5L446.1 612.5L446.8 612.5L447.5 612.5L448.2 612.5L448.9 612.5L449.6 612.5L450.3 612.5L451 612.4L451.7 612.3L452.4 612.2L453.1 612L453.8 612L454.5 612.2L455.2 612.4L455.9 612.5L456.6 612.5L457.3 612.5L458 612.5L458.7 612.5L459.4 612.5L460.1 612.5L460.8 612.5L461.5 612.5L462.2 612.5L462.9 612.5L463.6 612.5L464.3 612.5L465 612.5L465.7 612.5L466.4 612.5L467.1 612.5L467.8 612.5L468.5 612.3L469.2 612.2L469.9 612.3L470.6 612.5L471.3 612.5L472 612.5L472.7 612.5L473.4 612.5L474.1 612.5L474.8 612.5L475.5 612.5L476.2 612.5L476.9 612.5L477.6 612.5L478.3 612.5L479 612.5L479.7 612.5L480.4 612.5L481.1 612.5L481.8 612.5L482.5 612.5L483.2 612.5L483.9 612.5L484.6 612.5L485.3 612.5L486 612.5L486.7 612.5L487.4 612.5L488.1 612.5L488.8 612.5L489.5 612.5L489.5 613Z" fill="#4d6ea6" stroke="#4d6ea6" stroke-width="0.25"/>
<line x1="334.7" y1="612.5" x2="489.5" y2="612.5" stroke="#4d6ea6" stroke-width="0.8" stroke-opacity="0.22"/>
<path d="M334.7 624.9L334.7 624.4L335.4 624.4L336.1 624.4L336.8 624.4L337.5 624.4L338.2 624.4L338.9 624.4L339.6 624.4L340.3 624.3L341 623.9L341.7 623.7L342.4 624.1L343.1 624.4L343.8 624.4L344.5 624.4L345.2 624.4L345.9 624.3L346.6 624.2L347.3 624L348 623.7L348.7 623.6L349.4 623.7L350.1 624L350.8 624.2L351.5 624.3L352.2 624.4L352.9 624.4L353.6 624.4L354.3 624.4L355 624.4L355.7 624.4L356.4 624.4L357.1 624.4L357.8 624.4L358.5 624.4L359.2 624.4L359.9 624.4L360.6 624.4L361.3 624.4L362 624.4L362.7 624.4L363.4 624.4L364.1 624.4L364.8 624.3L365.5 624.2L366.2 624L366.9 623.8L367.6 623.7L368.3 623.8L369 624L369.7 624.2L370.4 624.3L371.1 624.4L371.8 624.4L372.5 624.3L373.2 624.3L373.9 624.1L374.6 623.8L375.3 623.8L376 624L376.7 624.1L377.4 624.2L378.1 624.3L378.8 624.3L379.5 624.2L380.2 624.2L380.9 624.1L381.6 624.2L382.3 624.3L383 624.3L383.7 624.4L384.4 624.4L385.1 624.4L385.8 624.4L386.5 624.4L387.2 624.4L387.9 624.4L388.6 624.4L389.3 624.4L390 624.4L390.7 624.4L391.4 624.2L392.1 624L392.8 623.6L393.5 623.3L394.2 623.3L394.9 623.6L395.6 624L396.3 624.2L397 624.2L397.7 624.1L398.4 623.9L399.1 623.7L399.8 623.7L400.5 623.7L401.2 623.7L401.9 623.7L402.6 623.4L403.3 621.9L404 618.6L404.7 615.2L405.4 614.6L406.1 617.3L406.8 620.8L407.5 622.8L408.2 623.2L408.9 622.8L409.6 623.2L410.3 623.7L411 624L411.7 624.1L412.5 624.1L413.2 624.1L413.9 624.3L414.6 624.4L415.3 624.4L416 624.4L416.7 624.4L417.4 624.4L418.1 624.4L418.8 624.4L419.5 624.4L420.2 624.4L420.9 624.4L421.6 624.4L422.3 624.3L423 624.2L423.7 624.1L424.4 624L425.1 623.9L425.8 624L426.5 624.1L427.2 624.2L427.9 624.3L428.6 624.4L429.3 624.4L430 624.4L430.7 624.4L431.4 624.2L432.1 623.9L432.8 623.6L433.5 623.8L434.2 624.2L434.9 624.3L435.6 624.4L436.3 624.4L437 624.4L437.7 624.4L438.4 624.4L439.1 624.4L439.8 624.4L440.5 624.4L441.2 624.4L441.9 624.4L442.6 624.4L443.3 624.4L444 624.4L444.7 624.4L445.4 624.4L446.1 624.4L446.8 624.4L447.5 624.4L448.2 624.4L448.9 624.4L449.6 624.4L450.3 624.4L451 624.4L451.7 624.4L452.4 624.4L453.1 624.2L453.8 623.7L454.5 622.9L455.2 622.9L455.9 623.4L456.6 623.8L457.3 624.1L458 624.3L458.7 624.4L459.4 624.4L460.1 624.3L460.8 624.2L461.5 624L462.2 623.8L462.9 623.6L463.6 623.5L464.3 623.6L465 623.7L465.7 624L466.4 624.2L467.1 624.3L467.8 624.4L468.5 624.4L469.2 624.4L469.9 624.4L470.6 624.4L471.3 624.4L472 624.3L472.7 624.2L473.4 624.1L474.1 624.1L474.8 624.2L475.5 624.3L476.2 624.4L476.9 624.4L477.6 624.3L478.3 624.2L479 624L479.7 623.7L480.4 623.4L481.1 623.2L481.8 623.2L482.5 623.4L483.2 623.7L483.9 623.9L484.6 624.1L485.3 624.1L486 623.9L486.7 623.7L487.4 623.4L488.1 623.3L488.8 623.7L489.5 624.1L489.5 624.9Z" fill="#8a1c9e" stroke="#8a1c9e" stroke-width="0.25"/>
<line x1="334.7" y1="624.4" x2="489.5" y2="624.4" stroke="#8a1c9e" stroke-width="0.8" stroke-opacity="0.22"/>
<path d="M334.7 636.5L334.7 636L335.4 636L336.1 636L336.8 636L337.5 636L338.2 636L338.9 636L339.6 636L340.3 636L341 636L341.7 636L342.4 636L343.1 636L343.8 635.9L344.5 635.9L345.2 635.8L345.9 635.8L346.6 635.8L347.3 635.9L348 635.9L348.7 636L349.4 636L350.1 636L350.8 636L351.5 636L352.2 636L352.9 636L353.6 635.9L354.3 635.7L355 635.5L355.7 635.6L356.4 635.7L357.1 635.8L357.8 635.7L358.5 635.7L359.2 635.9L359.9 636L360.6 636L361.3 636L362 636L362.7 636L363.4 636L364.1 636L364.8 636L365.5 636L366.2 636L366.9 636L367.6 636L368.3 636L369 636L369.7 635.9L370.4 635.8L371.1 635.7L371.8 635.7L372.5 635.9L373.2 636L373.9 636L374.6 636L375.3 636L376 636L376.7 636L377.4 636L378.1 636L378.8 636L379.5 636L380.2 636L380.9 636L381.6 636L382.3 636L383 636L383.7 636L384.4 636L385.1 635.9L385.8 635.9L386.5 635.8L387.2 635.7L387.9 635.5L388.6 635.3L389.3 634.9L390 634.4L390.7 633.7L391.4 632.9L392.1 631.9L392.8 631L393.5 630L394.2 629L394.9 628L395.6 627.1L396.3 626.7L397 626.8L397.7 627.1L398.4 627.4L399.1 627.9L399.8 628.5L400.5 629L401.2 629.4L401.9 629.8L402.6 630.2L403.3 630.5L404 630.7L404.7 631L405.4 631.1L406.1 631.3L406.8 631.3L407.5 631.3L408.2 631.3L408.9 631.2L409.6 631L410.3 630.8L411 630.5L411.7 630.3L412.5 630.1L413.2 630.2L413.9 630.3L414.6 630.6L415.3 631L416 631.3L416.7 631.6L417.4 631.8L418.1 632L418.8 632.1L419.5 632.3L420.2 632.3L420.9 632.3L421.6 632.2L422.3 632.1L423 632.2L423.7 632.4L424.4 632.6L425.1 632.7L425.8 632.8L426.5 632.9L427.2 633L427.9 633.1L428.6 633.1L429.3 633.2L430 633.3L430.7 633.4L431.4 633.4L432.1 633.5L432.8 633.5L433.5 633.6L434.2 633.6L434.9 633.7L435.6 633.7L436.3 633.8L437 633.9L437.7 634.1L438.4 634.2L439.1 634.3L439.8 634.5L440.5 634.6L441.2 634.7L441.9 634.8L442.6 634.9L443.3 635.1L444 635.3L444.7 635.4L445.4 635.5L446.1 635.6L446.8 635.6L447.5 635.6L448.2 635.7L448.9 635.8L449.6 635.8L450.3 635.9L451 635.9L451.7 636L452.4 636L453.1 636L453.8 636L454.5 636L455.2 636L455.9 636L456.6 636L457.3 636L458 636L458.7 636L459.4 636L460.1 636L460.8 636L461.5 636L462.2 635.9L462.9 635.8L463.6 635.7L464.3 635.7L465 635.7L465.7 635.7L466.4 635.7L467.1 635.7L467.8 635.8L468.5 635.9L469.2 635.9L469.9 636L470.6 636L471.3 636L472 636L472.7 635.8L473.4 635.7L474.1 635.5L474.8 635.5L475.5 635.5L476.2 635.6L476.9 635.5L477.6 635.3L478.3 635.3L479 635.4L479.7 635.6L480.4 635.7L481.1 635.7L481.8 635.7L482.5 635.7L483.2 635.7L483.9 635.8L484.6 635.8L485.3 635.6L486 635.4L486.7 635.3L487.4 635.3L488.1 635.4L488.8 635.6L489.5 635.8L489.5 636.5Z" fill="#95b036" stroke="#95b036" stroke-width="0.25"/>
<line x1="334.7" y1="636" x2="489.5" y2="636" stroke="#95b036" stroke-width="0.8" stroke-opacity="0.22"/>
<text x="125" y="656.8" font-size="7" stroke="#222" stroke-width="0.0" text-anchor="end" textLength="15" lengthAdjust="spacingAndGlyphs">5 kb</text>
<path d="M126.8 654.3H198.2M126.8 653.1V655.5M198.2 653.1V655.5" stroke="#333" stroke-width="0.8" fill="none"/>
<text x="201.5" y="656.7" font-size="7" stroke="#222" stroke-width="0.0" textLength="16.5" lengthAdjust="spacingAndGlyphs">mm9</text>
<text x="98" y="667.1" font-size="7" stroke="#222" stroke-width="0.0" text-anchor="end" textLength="19.3" lengthAdjust="spacingAndGlyphs" font-style="italic">Rsph1</text>
<line x1="101.5" y1="665" x2="239.9" y2="665" stroke="#555" stroke-width="1.4"/>
<path d="M100.8 665L104.5 663.2V666.8Z" fill="#111"/>
<circle cx="146.2" cy="665" r="1.4" fill="#111"/>
<circle cx="156.3" cy="665" r="1.4" fill="#111"/>
<circle cx="197.8" cy="665" r="1.4" fill="#111"/>
<text x="8" y="686.8" font-size="7.8" font-style="italic" textLength="42" lengthAdjust="spacingAndGlyphs" stroke="#222" stroke-width="0.0">Pou2af1<tspan font-size="5.2" dy="-3">KO/KO</tspan></text>
<text x="23" y="713.5" font-size="7.8" stroke="#222" stroke-width="0.08" textLength="10.6" lengthAdjust="spacingAndGlyphs">WT</text>
<path d="M56.4 672.8H52.7 M53.2 672.8V689.5" fill="none" stroke="#111" stroke-width="1"/>
<path d="M56.4 695.8H52.7 M53.2 695.8V726.5" fill="none" stroke="#111" stroke-width="1"/>
<text x="56.7" y="677.8" font-size="7.2" stroke="#5b7db3" stroke-width="0.1" textLength="17.8" lengthAdjust="spacingAndGlyphs" fill="#5b7db3">OCT1</text>
<text x="56.7" y="689.4" font-size="7.2" stroke="#9ab33a" stroke-width="0.1" textLength="27.9" lengthAdjust="spacingAndGlyphs" fill="#9ab33a">H3K27ac</text>
<text x="56.7" y="700.8" font-size="7.2" stroke="#5b7db3" stroke-width="0.1" textLength="17.8" lengthAdjust="spacingAndGlyphs" fill="#5b7db3">OCT1</text>
<text x="56.7" y="712.6" font-size="7.2" stroke="#8e3b9f" stroke-width="0.1" textLength="17.3" lengthAdjust="spacingAndGlyphs" fill="#8e3b9f">OBF1</text>
<text x="56.7" y="724.5" font-size="7.2" stroke="#9ab33a" stroke-width="0.1" textLength="27.9" lengthAdjust="spacingAndGlyphs" fill="#9ab33a">H3K27ac</text>
<path d="M85.2 681L85.2 680.5L85.9 680.5L86.6 680.5L87.3 680.5L88 680.5L88.7 680.5L89.4 680.5L90.1 680.5L90.8 680.5L91.5 680.5L92.2 680.5L92.9 680.4L93.6 680.4L94.3 680.2L95 680.1L95.7 680.1L96.4 680.2L97.1 680.3L97.8 680.3L98.5 680.2L99.2 680.1L99.9 680.1L100.6 680.2L101.3 680.3L102 680.4L102.7 680.5L103.4 680.5L104.1 680.5L104.8 680.5L105.5 680.5L106.2 680.5L106.9 680.5L107.6 680.5L108.3 680.5L109 680.5L109.7 680.5L110.4 680.5L111.1 680.5L111.8 680.5L112.5 680.5L113.2 680.5L113.9 680.5L114.6 680.5L115.3 680.5L116 680.5L116.7 680.5L117.4 680.5L118.1 680.5L118.8 680.5L119.5 680.5L120.2 680.5L120.9 680.5L121.6 680.5L122.3 680.5L123 680.5L123.7 680.5L124.4 680.5L125.1 680.5L125.8 680.5L126.5 680.5L127.2 680.5L127.9 680.5L128.6 680.4L129.3 680.4L130 680.2L130.7 680.1L131.4 680L132.1 680L132.8 680L133.5 679.9L134.2 679.9L134.9 680.1L135.6 680.3L136.3 680.4L137 680.4L137.7 680.3L138.4 680.1L139.1 680.1L139.8 680.2L140.5 680.4L141.2 680.4L141.9 680.3L142.6 680.3L143.3 680.4L144 680.5L144.7 680.5L145.4 680.5L146.1 680.5L146.8 680.5L147.5 680.5L148.2 680.5L148.9 680.5L149.6 680.5L150.3 680.5L151 680.5L151.7 680.5L152.4 680.5L153.1 680.5L153.8 680.5L154.5 680.5L155.2 680.5L155.9 680.5L156.6 680.5L157.3 680.5L158 680.5L158.7 680.5L159.4 680.5L160.1 680.5L160.8 680.5L161.5 680.5L162.2 680.4L163 680.4L163.7 680.2L164.4 680.1L165.1 680.1L165.8 680.2L166.5 680.3L167.2 680.4L167.9 680.5L168.6 680.5L169.3 680.5L170 680.5L170.7 680.5L171.4 680.5L172.1 680.5L172.8 680.5L173.5 680.4L174.2 680.3L174.9 680.3L175.6 680.3L176.3 680.4L177 680.4L177.7 680.2L178.4 680.4L179.1 680.5L179.8 680.5L180.5 680.5L181.2 680.5L181.9 680.5L182.6 680.5L183.3 680.5L184 680.5L184.7 680.5L185.4 680.5L186.1 680.5L186.8 680.5L187.5 680.5L188.2 680.5L188.9 680.5L189.6 680.5L190.3 680.5L191 680.5L191.7 680.5L192.4 680.5L193.1 680.5L193.8 680.5L194.5 680.5L195.2 680.5L195.9 680.5L196.6 680.5L197.3 680.5L198 680.5L198.7 680.5L199.4 680.5L200.1 680.5L200.8 680.3L201.5 680.1L202.2 680.3L202.9 680.5L203.6 680.5L204.3 680.5L205 680.5L205.7 680.5L206.4 680.5L207.1 680.5L207.8 680.4L208.5 680.3L209.2 680.3L209.9 680.1L210.6 680L211.3 680L212 679.9L212.7 679.9L213.4 680.1L214.1 680.2L214.8 680.3L215.5 680.4L216.2 680.5L216.9 680.5L217.6 680.5L218.3 680.5L219 680.5L219.7 680.5L220.4 680.5L221.1 680.5L221.8 680.5L222.5 680.5L223.2 680.5L223.9 680.5L224.6 680.5L225.3 680.5L226 680.5L226.7 680.5L227.4 680.5L228.1 680.5L228.8 680.5L229.5 680.5L230.2 680.5L230.9 680.5L231.6 680.5L232.3 680.4L233 680.2L233.7 680.2L234.4 680.4L235.1 680.4L235.8 680.5L236.5 680.5L237.2 680.5L237.9 680.5L238.6 680.5L239.3 680.5L240 680.5L240 681Z" fill="#4d6ea6" stroke="#4d6ea6" stroke-width="0.25"/>
<line x1="85.2" y1="680.5" x2="240" y2="680.5" stroke="#4d6ea6" stroke-width="0.8" stroke-opacity="0.22"/>
<path d="M85.2 692.7L85.2 692L85.9 691.9L86.6 691.7L87.3 691.6L88 691.5L88.7 691.6L89.4 691.8L90.1 691.9L90.8 692.1L91.5 692.2L92.2 692.2L92.9 692.2L93.6 692.2L94.3 692.2L95 692.2L95.7 692.2L96.4 692.2L97.1 692.2L97.8 692.2L98.5 692.2L99.2 692.2L99.9 692.2L100.6 692.2L101.3 692.2L102 692.2L102.7 692.2L103.4 692.2L104.1 692.2L104.8 692.2L105.5 692.2L106.2 692.2L106.9 692.2L107.6 692.2L108.3 692.2L109 692.1L109.7 691.9L110.4 691.7L111.1 691.5L111.8 691.5L112.5 691.5L113.2 691.7L113.9 691.8L114.6 692L115.3 692.1L116 692.2L116.7 692.2L117.4 692.2L118.1 692.2L118.8 692.2L119.5 692.2L120.2 692.2L120.9 692.2L121.6 692.2L122.3 692.2L123 692.1L123.7 691.8L124.4 691.5L125.1 691.6L125.8 692L126.5 692.1L127.2 692.1L127.9 691.9L128.6 691.3L129.3 690.9L130 691.2L130.7 691.6L131.4 691.8L132.1 691.8L132.8 691.7L133.5 691.7L134.2 691.8L134.9 691.9L135.6 692L136.3 692.1L137 692.2L137.7 692.2L138.4 692.2L139.1 692.2L139.8 692.2L140.5 692.2L141.2 692.2L141.9 692.2L142.6 692.2L143.3 692.2L144 692.2L144.7 692.1L145.4 691.9L146.1 691.7L146.8 691.6L147.5 691.7L148.2 691.9L148.9 692.1L149.6 692.2L150.3 692.2L151 692.2L151.7 692.2L152.4 692.2L153.1 692.1L153.8 691.9L154.5 691.6L155.2 691.4L155.9 691.2L156.6 691.2L157.3 691.5L158 691.7L158.7 691.9L159.4 692L160.1 692L160.8 691.9L161.5 691.8L162.2 691.8L163 691.7L163.7 691.6L164.4 691.5L165.1 691.4L165.8 691.3L166.5 691.3L167.2 691.2L167.9 691.2L168.6 691.1L169.3 691L170 690.9L170.7 690.9L171.4 691.1L172.1 691.3L172.8 691.6L173.5 691.8L174.2 691.9L174.9 692L175.6 692.1L176.3 692.1L177 692.2L177.7 692.2L178.4 692.2L179.1 692.2L179.8 692.2L180.5 692.2L181.2 692.1L181.9 692.1L182.6 692.1L183.3 692L184 691.9L184.7 691.9L185.4 691.8L186.1 691.7L186.8 691.6L187.5 691.5L188.2 691.5L188.9 691.4L189.6 691.4L190.3 691.4L191 691.4L191.7 691.5L192.4 691.5L193.1 691.6L193.8 691.7L194.5 691.8L195.2 691.9L195.9 691.9L196.6 692L197.3 692L198 692.1L198.7 692.1L199.4 692.1L200.1 692.2L200.8 692.2L201.5 692.2L202.2 692.2L202.9 692.2L203.6 692.2L204.3 692.2L205 692.2L205.7 692.2L206.4 692.2L207.1 692.2L207.8 692.2L208.5 692.2L209.2 692.2L209.9 692.1L210.6 691.9L211.3 692L212 692.2L212.7 692.2L213.4 692.2L214.1 692.2L214.8 692.2L215.5 692.2L216.2 692.2L216.9 692.2L217.6 692.2L218.3 692.2L219 692.2L219.7 692.2L220.4 692.2L221.1 692.2L221.8 692.2L222.5 692.2L223.2 692.2L223.9 692.2L224.6 692.2L225.3 692.1L226 692.1L226.7 692.1L227.4 692L228.1 691.9L228.8 691.8L229.5 691.7L230.2 691.3L230.9 691L231.6 691.3L232.3 691.3L233 691.2L233.7 691.1L234.4 691.1L235.1 691.3L235.8 691.6L236.5 691.8L237.2 692L237.9 692.1L238.6 692.1L239.3 692.2L240 692.2L240 692.7Z" fill="#95b036" stroke="#95b036" stroke-width="0.25"/>
<line x1="85.2" y1="692.2" x2="240" y2="692.2" stroke="#95b036" stroke-width="0.8" stroke-opacity="0.22"/>
<path d="M85.2 704.5L85.2 704L85.9 704L86.6 704L87.3 704L88 704L88.7 704L89.4 704L90.1 704L90.8 704L91.5 704L92.2 704L92.9 704L93.6 704L94.3 704L95 704L95.7 704L96.4 704L97.1 704L97.8 704L98.5 704L99.2 704L99.9 704L100.6 704L101.3 704L102 704L102.7 703.9L103.4 703.8L104.1 703.6L104.8 703.6L105.5 703.6L106.2 703.7L106.9 703.8L107.6 703.9L108.3 704L109 704L109.7 704L110.4 704L111.1 704L111.8 704L112.5 704L113.2 704L113.9 704L114.6 704L115.3 704L116 704L116.7 704L117.4 704L118.1 704L118.8 704L119.5 703.9L120.2 703.9L120.9 703.8L121.6 703.8L122.3 703.7L123 703.7L123.7 703.8L124.4 703.9L125.1 703.9L125.8 704L126.5 704L127.2 704L127.9 704L128.6 704L129.3 704L130 704L130.7 704L131.4 704L132.1 704L132.8 704L133.5 704L134.2 704L134.9 704L135.6 704L136.3 704L137 703.8L137.7 703.6L138.4 703.7L139.1 704L139.8 704L140.5 704L141.2 704L141.9 703.9L142.6 703.8L143.3 703.6L144 703.6L144.7 703.7L145.4 703.7L146.1 703.7L146.8 703.7L147.5 703.7L148.2 703.8L148.9 703.9L149.6 703.9L150.3 704L151 704L151.7 704L152.4 704L153.1 704L153.8 704L154.5 704L155.2 704L155.9 704L156.6 704L157.3 704L158 703.9L158.7 703.8L159.4 703.9L160.1 704L160.8 703.8L161.5 702.3L162.2 698.3L163 695.2L163.7 697.7L164.4 701.9L165.1 703.7L165.8 704L166.5 704L167.2 704L167.9 703.9L168.6 703.8L169.3 703.7L170 703.6L170.7 703.6L171.4 703.6L172.1 703.7L172.8 703.8L173.5 703.9L174.2 703.9L174.9 704L175.6 704L176.3 704L177 704L177.7 704L178.4 704L179.1 704L179.8 704L180.5 704L181.2 704L181.9 704L182.6 704L183.3 704L184 704L184.7 704L185.4 703.9L186.1 703.7L186.8 703.4L187.5 703.6L188.2 703.9L188.9 704L189.6 704L190.3 704L191 704L191.7 704L192.4 703.9L193.1 703.8L193.8 703.6L194.5 703.6L195.2 703.8L195.9 703.9L196.6 704L197.3 704L198 704L198.7 704L199.4 704L200.1 704L200.8 704L201.5 704L202.2 703.9L202.9 703.8L203.6 703.8L204.3 703.9L205 704L205.7 704L206.4 704L207.1 704L207.8 704L208.5 704L209.2 704L209.9 704L210.6 704L211.3 704L212 704L212.7 704L213.4 704L214.1 704L214.8 704L215.5 704L216.2 704L216.9 704L217.6 704L218.3 704L219 704L219.7 704L220.4 704L221.1 704L221.8 704L222.5 704L223.2 704L223.9 704L224.6 704L225.3 704L226 704L226.7 704L227.4 704L228.1 704L228.8 704L229.5 704L230.2 704L230.9 704L231.6 704L232.3 703.9L233 703.9L233.7 703.7L234.4 703.7L235.1 703.7L235.8 703.8L236.5 703.9L237.2 704L237.9 704L238.6 704L239.3 704L240 704L240 704.5Z" fill="#4d6ea6" stroke="#4d6ea6" stroke-width="0.25"/>
<line x1="85.2" y1="704" x2="240" y2="704" stroke="#4d6ea6" stroke-width="0.8" stroke-opacity="0.22"/>
<path d="M85.2 715.8L85.2 715.3L85.9 715.3L86.6 715.3L87.3 715.3L88 715.3L88.7 715.1L89.4 714.7L90.1 714.4L90.8 714.7L91.5 715.1L92.2 715.3L92.9 715.3L93.6 715.3L94.3 715.3L95 715.3L95.7 715.3L96.4 715.3L97.1 715.3L97.8 715.3L98.5 715.3L99.2 715.3L99.9 715.3L100.6 715.2L101.3 715L102 714.9L102.7 714.9L103.4 714.6L104.1 714.3L104.8 714.2L105.5 714.4L106.2 714.9L106.9 715.2L107.6 715.3L108.3 715.3L109 715.3L109.7 715.3L110.4 715.3L111.1 715.3L111.8 715.3L112.5 715.3L113.2 715.3L113.9 715.3L114.6 715.3L115.3 715.3L116 715.3L116.7 715.3L117.4 715.3L118.1 715.3L118.8 715.3L119.5 715.3L120.2 715.3L120.9 715.3L121.6 715.3L122.3 715.3L123 715.3L123.7 715.2L124.4 715.1L125.1 715L125.8 714.9L126.5 714.7L127.2 714.5L127.9 714.2L128.6 714.1L129.3 714.5L130 715L130.7 715.2L131.4 715.3L132.1 715.3L132.8 715.3L133.5 715.3L134.2 715.3L134.9 715.3L135.6 715.2L136.3 715.1L137 715L137.7 715L138.4 715.1L139.1 715.2L139.8 715.2L140.5 715.3L141.2 715.3L141.9 715.3L142.6 715.3L143.3 715.3L144 715.3L144.7 715.3L145.4 715.3L146.1 715.3L146.8 715.3L147.5 715.3L148.2 715.3L148.9 715.3L149.6 715.3L150.3 715.3L151 715.3L151.7 715.3L152.4 715.3L153.1 715.3L153.8 715.3L154.5 715.3L155.2 715.3L155.9 715.3L156.6 715.3L157.3 715.3L158 715.3L158.7 715.3L159.4 715.3L160.1 715L160.8 714L161.5 712.1L162.2 710.4L163 710.7L163.7 712.5L164.4 714L165.1 714.6L165.8 714.9L166.5 715L167.2 715.1L167.9 715L168.6 714.8L169.3 714.6L170 714.7L170.7 714.9L171.4 715.1L172.1 715.2L172.8 715.3L173.5 715.3L174.2 715.3L174.9 715.3L175.6 715.3L176.3 715.3L177 715.3L177.7 715.3L178.4 715.3L179.1 715.3L179.8 715.3L180.5 715.3L181.2 715.3L181.9 715.3L182.6 715.1L183.3 714.8L184 714.2L184.7 714.1L185.4 714.3L186.1 714.6L186.8 714.9L187.5 715.1L188.2 715.2L188.9 715.2L189.6 715.3L190.3 715.3L191 715.3L191.7 715.3L192.4 715.2L193.1 714.9L193.8 714.6L194.5 714.7L195.2 714.9L195.9 715L196.6 715.1L197.3 715.2L198 715.2L198.7 715.3L199.4 715.2L200.1 715.1L200.8 714.9L201.5 714.7L202.2 714.5L202.9 714.6L203.6 714.8L204.3 715L205 715.1L205.7 715L206.4 714.6L207.1 714.1L207.8 713.9L208.5 714.1L209.2 714.2L209.9 714.3L210.6 714.7L211.3 715.1L212 715.1L212.7 715L213.4 714.8L214.1 714.6L214.8 714.5L215.5 714.4L216.2 714.5L216.9 714.7L217.6 714.9L218.3 715.1L219 715.2L219.7 715.3L220.4 715.3L221.1 715.3L221.8 715.3L222.5 715.3L223.2 715.3L223.9 715.3L224.6 715.3L225.3 715.2L226 715.1L226.7 714.8L227.4 714.6L228.1 714.4L228.8 714.4L229.5 714.5L230.2 714.7L230.9 714.8L231.6 714.8L232.3 714.6L233 714.4L233.7 714.4L234.4 714.5L235.1 714.8L235.8 715L236.5 715L237.2 714.9L237.9 714.5L238.6 713.9L239.3 713.6L240 714L240 715.8Z" fill="#8a1c9e" stroke="#8a1c9e" stroke-width="0.25"/>
<line x1="85.2" y1="715.3" x2="240" y2="715.3" stroke="#8a1c9e" stroke-width="0.8" stroke-opacity="0.22"/>
<path d="M85.2 727.1L85.2 726.6L85.9 726.6L86.6 726.6L87.3 726.6L88 726.6L88.7 726.6L89.4 726.6L90.1 726.6L90.8 726.6L91.5 726.6L92.2 726.6L92.9 726.6L93.6 726.6L94.3 726.6L95 726.6L95.7 726.5L96.4 726.3L97.1 726L97.8 725.9L98.5 726L99.2 726.3L99.9 726.5L100.6 726.6L101.3 726.6L102 726.6L102.7 726.5L103.4 726.5L104.1 726.4L104.8 726.2L105.5 726.2L106.2 726.1L106.9 726.2L107.6 726.3L108.3 726.4L109 726.5L109.7 726.5L110.4 726.5L111.1 726.5L111.8 726.4L112.5 726.2L113.2 726L113.9 725.9L114.6 725.8L115.3 725.8L116 725.9L116.7 725.8L117.4 725.8L118.1 725.6L118.8 725.5L119.5 725.3L120.2 725.1L120.9 725L121.6 724.9L122.3 725.1L123 725.4L123.7 725.7L124.4 725.9L125.1 726L125.8 726L126.5 725.9L127.2 726.1L127.9 726.3L128.6 726.4L129.3 726.5L130 726.6L130.7 726.5L131.4 726.4L132.1 726.1L132.8 726.1L133.5 726.3L134.2 726.5L134.9 726.6L135.6 726.6L136.3 726.6L137 726.6L137.7 726.6L138.4 726.6L139.1 726.6L139.8 726.6L140.5 726.6L141.2 726.6L141.9 726.6L142.6 726.5L143.3 726.5L144 726.4L144.7 726.3L145.4 726.2L146.1 726.1L146.8 725.9L147.5 725.7L148.2 725.6L148.9 725.5L149.6 725.4L150.3 725.4L151 725.5L151.7 725.6L152.4 725.7L153.1 725.8L153.8 725.8L154.5 725.9L155.2 726L155.9 726.1L156.6 726.2L157.3 726.3L158 726.3L158.7 726.3L159.4 726.2L160.1 726L160.8 725.8L161.5 725.5L162.2 725.2L163 724.9L163.7 724.5L164.4 724.1L165.1 723.8L165.8 723.5L166.5 723.3L167.2 723.1L167.9 723.1L168.6 723.2L169.3 723.3L170 723.6L170.7 723.9L171.4 724.2L172.1 724.5L172.8 724.7L173.5 724.8L174.2 724.8L174.9 724.7L175.6 724.7L176.3 724.9L177 724.9L177.7 724.9L178.4 725L179.1 725.1L179.8 725.3L180.5 725.4L181.2 725.6L181.9 725.7L182.6 725.7L183.3 725.6L184 725.3L184.7 724.9L185.4 724.4L186.1 723.8L186.8 723.2L187.5 722.6L188.2 722.3L188.9 722.1L189.6 722.2L190.3 722.5L191 723L191.7 723.5L192.4 724.1L193.1 724.7L193.8 725.1L194.5 725.2L195.2 725.2L195.9 724.9L196.6 724.5L197.3 724.1L198 723.8L198.7 723.8L199.4 724L200.1 724.4L200.8 724.9L201.5 725.3L202.2 725.6L202.9 725.6L203.6 725.5L204.3 726L205 726.5L205.7 726.5L206.4 726.5L207.1 726.4L207.8 726.4L208.5 726.5L209.2 726.5L209.9 726.6L210.6 726.6L211.3 726.6L212 726.6L212.7 726.6L213.4 726.6L214.1 726.6L214.8 726.6L215.5 726.6L216.2 726.6L216.9 726.6L217.6 726.6L218.3 726.5L219 726.4L219.7 726.4L220.4 726.3L221.1 726.3L221.8 726.3L222.5 726.2L223.2 726.3L223.9 726.3L224.6 726.1L225.3 726L226 726L226.7 726L227.4 725.9L228.1 725.7L228.8 725.5L229.5 725.4L230.2 725.4L230.9 725.3L231.6 725.1L232.3 724.8L233 724.7L233.7 725L234.4 725.4L235.1 725.7L235.8 725.8L236.5 726L237.2 726.1L237.9 726.2L238.6 726.1L239.3 725.8L240 725.9L240 727.1Z" fill="#95b036" stroke="#95b036" stroke-width="0.25"/>
<line x1="85.2" y1="726.6" x2="240" y2="726.6" stroke="#95b036" stroke-width="0.8" stroke-opacity="0.22"/>
<text x="389.2" y="656.8" font-size="7" stroke="#222" stroke-width="0.0" text-anchor="end" textLength="13.8" lengthAdjust="spacingAndGlyphs">2 kb</text>
<path d="M393 654.3H431.7M393 653.1V655.5M431.7 653.1V655.5" stroke="#333" stroke-width="0.8" fill="none"/>
<text x="434.8" y="656.7" font-size="7" stroke="#222" stroke-width="0.0" textLength="16" lengthAdjust="spacingAndGlyphs">mm9</text>
<text x="331.3" y="667.1" font-size="7" stroke="#222" stroke-width="0.0" text-anchor="end" textLength="21.3" lengthAdjust="spacingAndGlyphs" font-style="italic">Sorcs2</text>
<line x1="335" y1="665" x2="489.2" y2="665" stroke="#6a6a6a" stroke-width="1.5"/>
<text x="257" y="686.8" font-size="7.8" font-style="italic" textLength="42" lengthAdjust="spacingAndGlyphs" stroke="#222" stroke-width="0.0">Pou2af1<tspan font-size="5.2" dy="-3">KO/KO</tspan></text>
<text x="273" y="713.5" font-size="7.8" stroke="#222" stroke-width="0.08" textLength="10.6" lengthAdjust="spacingAndGlyphs">WT</text>
<path d="M305.9 672.8H302.2 M302.7 672.8V689.5" fill="none" stroke="#111" stroke-width="1"/>
<path d="M305.9 695.8H302.2 M302.7 695.8V726.5" fill="none" stroke="#111" stroke-width="1"/>
<text x="306.2" y="677.8" font-size="7.2" stroke="#5b7db3" stroke-width="0.1" textLength="17.8" lengthAdjust="spacingAndGlyphs" fill="#5b7db3">OCT1</text>
<text x="306.2" y="689.4" font-size="7.2" stroke="#9ab33a" stroke-width="0.1" textLength="27.9" lengthAdjust="spacingAndGlyphs" fill="#9ab33a">H3K27ac</text>
<text x="306.2" y="700.8" font-size="7.2" stroke="#5b7db3" stroke-width="0.1" textLength="17.8" lengthAdjust="spacingAndGlyphs" fill="#5b7db3">OCT1</text>
<text x="306.2" y="712.6" font-size="7.2" stroke="#8e3b9f" stroke-width="0.1" textLength="17.3" lengthAdjust="spacingAndGlyphs" fill="#8e3b9f">OBF1</text>
<text x="306.2" y="724.5" font-size="7.2" stroke="#9ab33a" stroke-width="0.1" textLength="27.9" lengthAdjust="spacingAndGlyphs" fill="#9ab33a">H3K27ac</text>
<path d="M334.7 681L334.7 680.5L335.4 680.5L336.1 680.5L336.8 680.5L337.5 680.5L338.2 680.5L338.9 680.5L339.6 680.5L340.3 680.5L341 680.5L341.7 680.4L342.4 680.4L343.1 680.3L343.8 680.3L344.5 680.3L345.2 680.3L345.9 680.4L346.6 680.4L347.3 680.4L348 680.3L348.7 680.3L349.4 680.2L350.1 680.2L350.8 680.3L351.5 680.3L352.2 680.4L352.9 680.4L353.6 680.5L354.3 680.5L355 680.5L355.7 680.5L356.4 680.5L357.1 680.5L357.8 680.5L358.5 680.5L359.2 680.5L359.9 680.5L360.6 680.5L361.3 680.5L362 680.5L362.7 680.5L363.4 680.5L364.1 680.5L364.8 680.5L365.5 680.5L366.2 680.5L366.9 680.5L367.6 680.5L368.3 680.5L369 680.3L369.7 680.1L370.4 680.1L371.1 680.3L371.8 680.5L372.5 680.5L373.2 680.5L373.9 680.5L374.6 680.5L375.3 680.5L376 680.5L376.7 680.5L377.4 680.5L378.1 680.5L378.8 680.5L379.5 680.4L380.2 680.4L380.9 680.3L381.6 680.3L382.3 680.2L383 680.3L383.7 680.3L384.4 680.4L385.1 680.4L385.8 680.5L386.5 680.5L387.2 680.5L387.9 680.5L388.6 680.5L389.3 680.5L390 680.5L390.7 680.5L391.4 680.5L392.1 680.5L392.8 680.5L393.5 680.5L394.2 680.5L394.9 680.5L395.6 680.5L396.3 680.5L397 680.5L397.7 680.5L398.4 680.5L399.1 680.5L399.8 680.5L400.5 680.5L401.2 680.5L401.9 680.5L402.6 680.5L403.3 680.5L404 680.5L404.7 680.5L405.4 680.5L406.1 680.5L406.8 680.5L407.5 680.5L408.2 680.5L408.9 680.4L409.6 680.2L410.3 679.8L411 679.5L411.7 679.5L412.5 679.8L413.2 680.2L413.9 680.4L414.6 680.5L415.3 680.5L416 680.5L416.7 680.5L417.4 680.5L418.1 680.5L418.8 680.5L419.5 680.5L420.2 680.4L420.9 680.3L421.6 680.2L422.3 680.1L423 680.2L423.7 680.3L424.4 680.3L425.1 680.3L425.8 680.2L426.5 680.1L427.2 680.1L427.9 680.1L428.6 680.3L429.3 680.4L430 680.4L430.7 680.5L431.4 680.5L432.1 680.5L432.8 680.5L433.5 680.5L434.2 680.5L434.9 680.5L435.6 680.5L436.3 680.5L437 680.5L437.7 680.5L438.4 680.5L439.1 680.5L439.8 680.5L440.5 680.5L441.2 680.5L441.9 680.5L442.6 680.5L443.3 680.5L444 680.5L444.7 680.5L445.4 680.5L446.1 680.4L446.8 680.3L447.5 680.3L448.2 680.4L448.9 680.5L449.6 680.5L450.3 680.5L451 680.5L451.7 680.5L452.4 680.5L453.1 680.4L453.8 680.3L454.5 680.3L455.2 680.4L455.9 680.4L456.6 680.5L457.3 680.5L458 680.5L458.7 680.5L459.4 680.5L460.1 680.5L460.8 680.5L461.5 680.5L462.2 680.5L462.9 680.5L463.6 680.5L464.3 680.5L465 680.5L465.7 680.5L466.4 680.4L467.1 680.3L467.8 680.2L468.5 680.1L469.2 680.1L469.9 680.2L470.6 680.3L471.3 680.4L472 680.4L472.7 680.3L473.4 680.2L474.1 680.1L474.8 680.1L475.5 680.2L476.2 680.3L476.9 680.3L477.6 680.3L478.3 680.2L479 680.1L479.7 680L480.4 679.9L481.1 680.1L481.8 680.3L482.5 680.5L483.2 680.5L483.9 680.5L484.6 680.5L485.3 680.5L486 680.5L486.7 680.5L487.4 680.5L488.1 680.5L488.8 680.5L489.5 680.5L489.5 681Z" fill="#4d6ea6" stroke="#4d6ea6" stroke-width="0.25"/>
<line x1="334.7" y1="680.5" x2="489.5" y2="680.5" stroke="#4d6ea6" stroke-width="0.8" stroke-opacity="0.22"/>
<path d="M334.7 692.7L334.7 692.2L335.4 692.2L336.1 692.2L336.8 692.2L337.5 692.2L338.2 692.2L338.9 692.2L339.6 692.2L340.3 692.2L341 692.2L341.7 692.2L342.4 692.2L343.1 692.2L343.8 692.2L344.5 692.2L345.2 692.2L345.9 692.2L346.6 692.2L347.3 692.2L348 692.2L348.7 692.2L349.4 692.2L350.1 692.2L350.8 692.2L351.5 692.2L352.2 692.2L352.9 692.2L353.6 692.2L354.3 692.2L355 692.2L355.7 692.2L356.4 692.2L357.1 692.2L357.8 692.2L358.5 692.1L359.2 692L359.9 691.8L360.6 691.8L361.3 691.9L362 692.1L362.7 692.2L363.4 692.2L364.1 692.2L364.8 692.2L365.5 692.2L366.2 692.2L366.9 692.2L367.6 692.2L368.3 692.2L369 692.2L369.7 692.2L370.4 692.2L371.1 692.2L371.8 692.2L372.5 692.1L373.2 692L373.9 691.9L374.6 691.7L375.3 691.6L376 691.6L376.7 691.6L377.4 691.7L378.1 691.9L378.8 692L379.5 692L380.2 691.7L380.9 691.5L381.6 691.6L382.3 691.7L383 691.8L383.7 691.9L384.4 692.1L385.1 692.2L385.8 692.2L386.5 692.2L387.2 692.2L387.9 692.1L388.6 692.1L389.3 692.1L390 692L390.7 692L391.4 691.9L392.1 691.8L392.8 691.7L393.5 691.5L394.2 691.4L394.9 691.3L395.6 691.1L396.3 691L397 690.8L397.7 690.6L398.4 690.5L399.1 690.3L399.8 690L400.5 689.8L401.2 689.5L401.9 689.2L402.6 688.9L403.3 688.7L404 688.5L404.7 688.4L405.4 688.5L406.1 688.7L406.8 689L407.5 689.3L408.2 689.7L408.9 690.1L409.6 690.4L410.3 690.7L411 690.9L411.7 691L412.5 691.2L413.2 691.3L413.9 691.3L414.6 691.2L415.3 691L416 690.9L416.7 690.9L417.4 690.9L418.1 691L418.8 691L419.5 691.1L420.2 691.3L420.9 691.4L421.6 691.6L422.3 691.8L423 691.9L423.7 692L424.4 692L425.1 691.9L425.8 691.7L426.5 691.6L427.2 691.6L427.9 691.8L428.6 692L429.3 692.1L430 692.2L430.7 692.2L431.4 692.2L432.1 692.2L432.8 692.2L433.5 692.1L434.2 692L434.9 691.8L435.6 691.6L436.3 691.4L437 691.2L437.7 691.2L438.4 691.2L439.1 691.1L439.8 691.2L440.5 691.8L441.2 692L441.9 692.1L442.6 692.2L443.3 692.2L444 692.2L444.7 692.2L445.4 692.2L446.1 692.2L446.8 692.2L447.5 692.2L448.2 692.2L448.9 692.2L449.6 692.2L450.3 692.1L451 692L451.7 691.9L452.4 691.9L453.1 692.1L453.8 692.2L454.5 692.2L455.2 692.2L455.9 692.1L456.6 691.9L457.3 691.7L458 691.6L458.7 691.8L459.4 692L460.1 692.2L460.8 692.2L461.5 692.2L462.2 692.2L462.9 692.2L463.6 692.2L464.3 692.2L465 692.2L465.7 692.2L466.4 692.2L467.1 692.2L467.8 692.2L468.5 692.2L469.2 692.2L469.9 692.2L470.6 692.2L471.3 692.2L472 692.2L472.7 692.2L473.4 692.2L474.1 692.1L474.8 692L475.5 691.7L476.2 691.6L476.9 691.8L477.6 692L478.3 692.2L479 692.2L479.7 692.1L480.4 692.1L481.1 692L481.8 691.9L482.5 691.9L483.2 691.9L483.9 692L484.6 692.1L485.3 692.2L486 692.2L486.7 692.2L487.4 692.2L488.1 692.2L488.8 692.2L489.5 692.2L489.5 692.7Z" fill="#95b036" stroke="#95b036" stroke-width="0.25"/>
<line x1="334.7" y1="692.2" x2="489.5" y2="692.2" stroke="#95b036" stroke-width="0.8" stroke-opacity="0.22"/>
<path d="M334.7 704.5L334.7 704L335.4 704L336.1 704L336.8 704L337.5 704L338.2 704L338.9 704L339.6 704L340.3 704L341 704L341.7 704L342.4 704L343.1 704L343.8 704L344.5 704L345.2 704L345.9 704L346.6 704L347.3 704L348 704L348.7 704L349.4 704L350.1 704L350.8 704L351.5 704L352.2 704L352.9 704L353.6 704L354.3 704L355 704L355.7 704L356.4 704L357.1 704L357.8 704L358.5 704L359.2 703.9L359.9 703.8L360.6 703.6L361.3 703.6L362 703.7L362.7 703.8L363.4 703.9L364.1 704L364.8 704L365.5 704L366.2 704L366.9 704L367.6 704L368.3 704L369 704L369.7 704L370.4 704L371.1 704L371.8 704L372.5 704L373.2 704L373.9 704L374.6 704L375.3 704L376 704L376.7 704L377.4 704L378.1 704L378.8 703.9L379.5 703.8L380.2 703.7L380.9 703.8L381.6 703.9L382.3 704L383 704L383.7 704L384.4 704L385.1 704L385.8 704L386.5 704L387.2 704L387.9 704L388.6 704L389.3 703.9L390 703.9L390.7 703.8L391.4 703.7L392.1 703.8L392.8 703.8L393.5 703.9L394.2 703.9L394.9 703.9L395.6 703.7L396.3 703.5L397 703.3L397.7 703.3L398.4 703.5L399.1 703.7L399.8 703.9L400.5 703.9L401.2 704L401.9 704L402.6 704L403.3 704L404 704L404.7 704L405.4 704L406.1 703.9L406.8 703.8L407.5 703.7L408.2 703.6L408.9 703.6L409.6 703L410.3 700.4L411 696.6L411.7 696.7L412.5 700.6L413.2 703.3L413.9 703.9L414.6 704L415.3 704L416 704L416.7 704L417.4 704L418.1 704L418.8 704L419.5 704L420.2 703.9L420.9 703.8L421.6 703.8L422.3 703.7L423 703.8L423.7 703.8L424.4 703.9L425.1 704L425.8 704L426.5 704L427.2 704L427.9 704L428.6 704L429.3 704L430 704L430.7 704L431.4 704L432.1 704L432.8 704L433.5 704L434.2 704L434.9 704L435.6 703.9L436.3 703.8L437 703.7L437.7 703.6L438.4 703.7L439.1 703.8L439.8 703.8L440.5 703.7L441.2 703.7L441.9 703.7L442.6 703.7L443.3 703.8L444 703.9L444.7 703.9L445.4 704L446.1 704L446.8 704L447.5 704L448.2 704L448.9 704L449.6 704L450.3 704L451 704L451.7 704L452.4 704L453.1 703.9L453.8 703.8L454.5 703.7L455.2 703.8L455.9 704L456.6 704L457.3 704L458 704L458.7 704L459.4 704L460.1 703.9L460.8 703.8L461.5 703.8L462.2 703.8L462.9 703.8L463.6 703.9L464.3 704L465 704L465.7 704L466.4 704L467.1 704L467.8 704L468.5 704L469.2 704L469.9 704L470.6 704L471.3 704L472 704L472.7 704L473.4 704L474.1 703.9L474.8 703.9L475.5 703.8L476.2 703.8L476.9 703.8L477.6 703.8L478.3 703.9L479 703.9L479.7 704L480.4 704L481.1 704L481.8 704L482.5 704L483.2 704L483.9 704L484.6 704L485.3 704L486 704L486.7 704L487.4 704L488.1 704L488.8 704L489.5 704L489.5 704.5Z" fill="#4d6ea6" stroke="#4d6ea6" stroke-width="0.25"/>
<line x1="334.7" y1="704" x2="489.5" y2="704" stroke="#4d6ea6" stroke-width="0.8" stroke-opacity="0.22"/>
<path d="M334.7 715.8L334.7 714.7L335.4 714.6L336.1 714.7L336.8 714.9L337.5 715.1L338.2 715.2L338.9 715.3L339.6 715.3L340.3 715.3L341 715.3L341.7 715.3L342.4 715.3L343.1 715.2L343.8 715.1L344.5 715L345.2 714.8L345.9 714.7L346.6 714.6L347.3 714.7L348 714.8L348.7 715L349.4 715.1L350.1 715.2L350.8 715.3L351.5 715.3L352.2 715.3L352.9 715.3L353.6 715.3L354.3 715.3L355 715.1L355.7 714.6L356.4 714.7L357.1 715L357.8 715L358.5 715L359.2 715.1L359.9 715.2L360.6 715.2L361.3 715.3L362 715.3L362.7 715.3L363.4 715.3L364.1 715.3L364.8 715.3L365.5 715.3L366.2 715.3L366.9 715.3L367.6 715.3L368.3 715.3L369 715.3L369.7 715.3L370.4 715.2L371.1 715.1L371.8 715L372.5 714.9L373.2 714.9L373.9 714.9L374.6 715L375.3 715.1L376 715.2L376.7 715.3L377.4 715.3L378.1 715.3L378.8 715.3L379.5 715.3L380.2 715.3L380.9 715.3L381.6 715.3L382.3 715.3L383 715.3L383.7 715.3L384.4 715.2L385.1 715L385.8 714.9L386.5 714.9L387.2 715L387.9 715.1L388.6 715.1L389.3 715L390 714.7L390.7 714.5L391.4 714.5L392.1 714.6L392.8 714.8L393.5 714.9L394.2 714.9L394.9 714.8L395.6 714.7L396.3 714.6L397 714.7L397.7 714.8L398.4 715L399.1 715.1L399.8 715.2L400.5 715.3L401.2 715.3L401.9 715.2L402.6 715L403.3 714.5L404 713.8L404.7 713.3L405.4 713.3L406.1 713.7L406.8 714.1L407.5 714.1L408.2 713.8L408.9 712.9L409.6 711L410.3 708.5L411 708.5L411.7 711.3L412.5 714L413.2 715.1L413.9 715.3L414.6 715.3L415.3 715.3L416 715.3L416.7 715.3L417.4 715.3L418.1 715.2L418.8 715.2L419.5 715L420.2 714.8L420.9 714.7L421.6 714.7L422.3 714.9L423 715.1L423.7 715.2L424.4 715.3L425.1 715.3L425.8 715.3L426.5 715.3L427.2 715.3L427.9 715.3L428.6 715.3L429.3 715.3L430 715.3L430.7 715.3L431.4 715.3L432.1 715.2L432.8 715.1L433.5 715L434.2 714.8L434.9 714.6L435.6 714.5L436.3 714.5L437 714.7L437.7 714.9L438.4 715L439.1 715.2L439.8 715.2L440.5 715.3L441.2 715.3L441.9 715.2L442.6 715.1L443.3 714.9L444 714.8L444.7 714.9L445.4 715L446.1 714.9L446.8 714.5L447.5 714L448.2 713.8L448.9 713.9L449.6 714L450.3 714.1L451 714.3L451.7 714.3L452.4 714.4L453.1 714.6L453.8 714.8L454.5 715L455.2 715.2L455.9 715.3L456.6 715.3L457.3 715.3L458 715.3L458.7 715.3L459.4 715.3L460.1 715.3L460.8 715.3L461.5 715.2L462.2 715.2L462.9 715L463.6 714.8L464.3 714.6L465 714.4L465.7 714.3L466.4 714.3L467.1 714.4L467.8 714.6L468.5 714.8L469.2 715L469.9 715.1L470.6 715.1L471.3 715L472 714.8L472.7 714.6L473.4 714.4L474.1 714.4L474.8 714.6L475.5 714.9L476.2 715.1L476.9 715.2L477.6 715.3L478.3 715.2L479 715L479.7 714.7L480.4 714.7L481.1 714.9L481.8 715.1L482.5 715L483.2 714.9L483.9 714.6L484.6 714.4L485.3 714.4L486 714.6L486.7 714.9L487.4 715.1L488.1 715.2L488.8 715.3L489.5 715.3L489.5 715.8Z" fill="#8a1c9e" stroke="#8a1c9e" stroke-width="0.25"/>
<line x1="334.7" y1="715.3" x2="489.5" y2="715.3" stroke="#8a1c9e" stroke-width="0.8" stroke-opacity="0.22"/>
<path d="M334.7 727.1L334.7 726.6L335.4 726.4L336.1 725.9L336.8 725.9L337.5 726.4L338.2 726.5L338.9 726.5L339.6 726.3L340.3 726.1L341 725.9L341.7 725.8L342.4 726L343.1 726.2L343.8 726.4L344.5 726.5L345.2 726.5L345.9 726.5L346.6 726.4L347.3 726.1L348 725.3L348.7 725L349.4 725L350.1 725.2L350.8 725.5L351.5 725.7L352.2 725.8L352.9 726L353.6 726.2L354.3 726.2L355 726.1L355.7 726.2L356.4 726.4L357.1 726.6L357.8 726.6L358.5 726.6L359.2 726.5L359.9 726.5L360.6 726.3L361.3 726.1L362 725.9L362.7 725.8L363.4 725.9L364.1 726.1L364.8 726.4L365.5 726.5L366.2 726.6L366.9 726.6L367.6 726.6L368.3 726.6L369 726.6L369.7 726.6L370.4 726.6L371.1 726.6L371.8 726.6L372.5 726.6L373.2 726.5L373.9 726.3L374.6 726.1L375.3 726.2L376 726.5L376.7 726.6L377.4 726.6L378.1 726.6L378.8 726.5L379.5 726.2L380.2 726L380.9 726L381.6 726.3L382.3 726.5L383 726.6L383.7 726.5L384.4 726.5L385.1 726.5L385.8 726.4L386.5 726.3L387.2 726.1L387.9 726L388.6 725.7L389.3 725.5L390 725.2L390.7 724.8L391.4 724.5L392.1 724.1L392.8 723.7L393.5 723.3L394.2 723L394.9 722.6L395.6 722.4L396.3 722.1L397 721.9L397.7 721.7L398.4 721.5L399.1 721.2L399.8 720.8L400.5 720.4L401.2 720L401.9 719.6L402.6 719.2L403.3 718.9L404 718.8L404.7 718.7L405.4 718.8L406.1 719L406.8 719.2L407.5 719.6L408.2 719.9L408.9 720.3L409.6 720.7L410.3 721L411 721.2L411.7 721.5L412.5 721.7L413.2 721.9L413.9 722.2L414.6 722.5L415.3 722.8L416 723.2L416.7 723.6L417.4 724L418.1 724.4L418.8 724.6L419.5 724.9L420.2 725.4L420.9 725.8L421.6 726L422.3 726.2L423 726.3L423.7 726.4L424.4 726.4L425.1 726.4L425.8 726.3L426.5 726.2L427.2 726.1L427.9 726.1L428.6 726.1L429.3 726.2L430 726.4L430.7 726.5L431.4 726.5L432.1 726.6L432.8 726.6L433.5 726.6L434.2 726.6L434.9 726.6L435.6 726.5L436.3 726.3L437 726L437.7 725.8L438.4 726L439.1 726.2L439.8 726.4L440.5 726.5L441.2 726.6L441.9 726.6L442.6 726.6L443.3 726.6L444 726.6L444.7 726.6L445.4 726.6L446.1 726.6L446.8 726.6L447.5 726.6L448.2 726.6L448.9 726.6L449.6 726.6L450.3 726.6L451 726.6L451.7 726.6L452.4 726.6L453.1 726.6L453.8 726.6L454.5 726.6L455.2 726.6L455.9 726.6L456.6 726.6L457.3 726.6L458 726.6L458.7 726.6L459.4 726.6L460.1 726.6L460.8 726.6L461.5 726.6L462.2 726.6L462.9 726.6L463.6 726.6L464.3 726.6L465 726.6L465.7 726.6L466.4 726.6L467.1 726.6L467.8 726.6L468.5 726.6L469.2 726.6L469.9 726.6L470.6 726.6L471.3 726.6L472 726.6L472.7 726.6L473.4 726.6L474.1 726.6L474.8 726.6L475.5 726.6L476.2 726.6L476.9 726.6L477.6 726.6L478.3 726.6L479 726.6L479.7 726.6L480.4 726.6L481.1 726.6L481.8 726.6L482.5 726.6L483.2 726.6L483.9 726.6L484.6 726.6L485.3 726.6L486 726.5L486.7 726.3L487.4 726.3L488.1 726.4L488.8 726.6L489.5 726.6L489.5 727.1Z" fill="#95b036" stroke="#95b036" stroke-width="0.25"/>
<line x1="334.7" y1="726.6" x2="489.5" y2="726.6" stroke="#95b036" stroke-width="0.8" stroke-opacity="0.22"/>
<rect x="0" y="0" width="520" height="1.1" fill="#000"/>
<rect x="0" y="0" width="1.1" height="735" fill="#000"/>
<rect x="518.5" y="0" width="1.5" height="735" fill="#000"/>
<rect x="0" y="733.5" width="520" height="1.5" fill="#000"/>
</svg>
</body></html>
